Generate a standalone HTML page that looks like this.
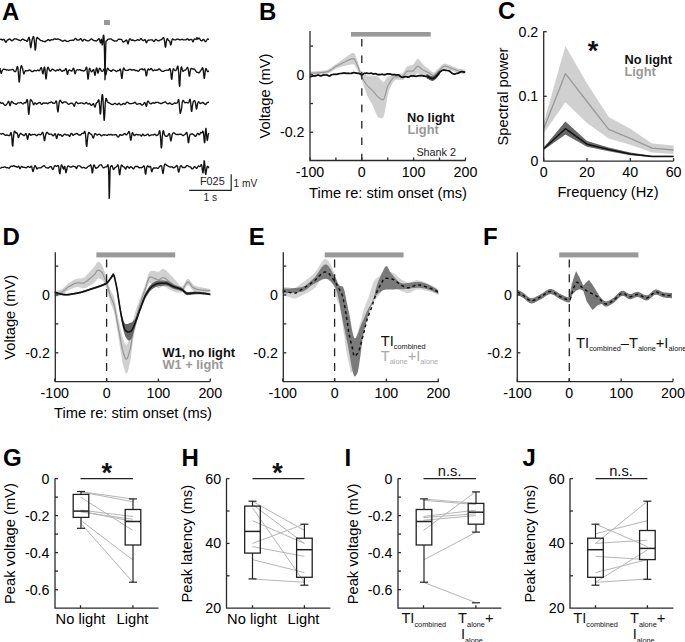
<!DOCTYPE html>
<html><head><meta charset="utf-8"><style>
html,body{margin:0;padding:0;background:#fff;width:685px;height:642px;overflow:hidden}
svg{display:block}
text{font-family:"Liberation Sans", sans-serif}
</style></head><body>
<svg width="685" height="642" viewBox="0 0 685 642">
<rect width="685" height="642" fill="#fff"/>
<text x="2" y="19.7" font-size="24" text-anchor="start" font-weight="bold" fill="#000" >A</text>
<rect x="104" y="20" width="6" height="5" fill="#999"/>
<path d="M0 39.6 L0.2 39.5 L0.5 39.3 L0.8 39.2 L1 39.1 L1.2 39.2 L1.5 39.3 L1.8 39.6 L2 39.8 L2.2 40 L2.5 40 L2.8 39.9 L3 39.7 L3.2 39.5 L3.5 39.4 L3.8 39.3 L4 39.5 L4.2 39.7 L4.5 40.1 L4.8 40.6 L5 41.1 L5.2 41.7 L5.5 42.1 L5.8 42.4 L6 42.3 L6.2 41.9 L6.5 41.4 L6.8 40.9 L7 40.5 L7.2 40.3 L7.5 40.1 L7.8 39.9 L8 39.8 L8.2 39.7 L8.5 39.6 L8.8 39.4 L9 39.2 L9.2 39.1 L9.5 39 L9.8 39.1 L10 39.2 L10.2 39.4 L10.5 39.6 L10.8 39.9 L11 40.1 L11.2 40.4 L11.5 40.6 L11.8 40.7 L12 40.8 L12.2 40.7 L12.5 40.5 L12.8 40.3 L13 40 L13.2 39.8 L13.5 39.6 L13.8 39.3 L14 39.2 L14.2 39 L14.5 39 L14.8 38.9 L15 38.9 L15.2 38.9 L15.5 38.9 L15.8 38.9 L16 38.9 L16.2 39 L16.5 39.1 L16.8 39.2 L17 39.3 L17.2 39.4 L17.5 39.6 L17.8 39.7 L18 39.8 L18.2 39.9 L18.5 39.9 L18.8 40 L19 40 L19.2 40.1 L19.5 40.3 L19.8 40.5 L20 40.6 L20.2 40.7 L20.5 40.7 L20.8 40.6 L21 40.4 L21.2 40.1 L21.5 39.8 L21.8 39.5 L22 39.4 L22.2 39.3 L22.5 39.2 L22.8 39.2 L23 39.3 L23.2 39.3 L23.5 39.4 L23.8 39.6 L24 39.8 L24.2 40 L24.5 40.2 L24.8 40.3 L25 40.3 L25.2 40.3 L25.5 40.3 L25.8 40.3 L26 40.4 L26.2 40.6 L26.5 40.9 L26.8 41.2 L27 41.3 L27.2 41.3 L27.5 41 L27.8 40.5 L28 39.8 L28.2 38.9 L28.5 38.1 L28.8 37.5 L29 37.3 L29.2 37.6 L29.5 38.6 L29.8 40.2 L30 42.4 L30.2 44.9 L30.5 46.9 L30.8 47.7 L31 47.1 L31.2 45.5 L31.5 43.6 L31.8 41.9 L32 40.6 L32.2 39.5 L32.5 38.6 L32.8 37.8 L33 37.1 L33.2 36.7 L33.5 36.6 L33.8 37 L34 38.1 L34.2 40 L34.5 42.7 L34.8 45.8 L35 48.7 L35.2 50.1 L35.5 49.5 L35.8 47.1 L36 44 L36.2 41.2 L36.5 39.2 L36.8 38.1 L37 37.5 L37.2 37.4 L37.5 37.5 L37.8 37.8 L38 38.1 L38.2 38.5 L38.5 38.7 L38.8 38.8 L39 39 L39.2 39.1 L39.5 39.4 L39.8 39.6 L40 39.9 L40.2 40.1 L40.5 40.3 L40.8 40.5 L41 40.5 L41.2 40.6 L41.5 40.6 L41.8 40.6 L42 40.7 L42.2 40.9 L42.5 41.1 L42.8 41.3 L43 41.4 L43.2 41.4 L43.5 41.4 L43.8 41.4 L44 41.4 L44.2 41.5 L44.5 41.6 L44.8 41.7 L45 41.7 L45.2 41.6 L45.5 41.4 L45.8 41.2 L46 40.9 L46.2 40.7 L46.5 40.6 L46.8 40.6 L47 40.5 L47.2 40.3 L47.5 40.1 L47.8 39.9 L48 39.7 L48.2 39.6 L48.5 39.6 L48.8 39.7 L49 40 L49.2 40.3 L49.5 40.6 L49.8 40.7 L50 40.7 L50.2 40.5 L50.5 40.3 L50.8 40 L51 39.8 L51.2 39.7 L51.5 39.7 L51.8 39.8 L52 39.8 L52.2 39.9 L52.5 39.9 L52.8 39.8 L53 39.7 L53.2 39.6 L53.5 39.5 L53.8 39.3 L54 39.2 L54.2 39 L54.5 38.9 L54.8 38.8 L55 38.8 L55.2 38.9 L55.5 39.1 L55.8 39.2 L56 39.3 L56.2 39.3 L56.5 39.3 L56.8 39.2 L57 39.1 L57.2 39 L57.5 38.9 L57.8 38.9 L58 39 L58.2 39.1 L58.5 39.2 L58.8 39.3 L59 39.4 L59.2 39.5 L59.5 39.6 L59.8 39.7 L60 39.8 L60.2 39.9 L60.5 40 L60.8 40.1 L61 40.2 L61.2 40.4 L61.5 40.5 L61.8 40.7 L62 40.9 L62.2 41 L62.5 41.1 L62.8 41.2 L63 41.1 L63.2 41.1 L63.5 41 L63.8 40.8 L64 40.7 L64.2 40.5 L64.5 40.4 L64.8 40.3 L65 40.2 L65.2 40.3 L65.5 40.5 L65.8 40.7 L66 41 L66.2 41.2 L66.5 41.4 L66.8 41.4 L67 41.4 L67.2 41.4 L67.5 41.3 L67.8 41.3 L68 41.3 L68.2 41.3 L68.5 41.2 L68.8 41.2 L69 41.1 L69.2 41 L69.5 40.8 L69.8 40.6 L70 40.5 L70.2 40.4 L70.5 40.4 L70.8 40.4 L71 40.4 L71.2 40.4 L71.5 40.4 L71.8 40.3 L72 40.2 L72.2 40.1 L72.5 40.1 L72.8 40.2 L73 40.3 L73.2 40.4 L73.5 40.4 L73.8 40.2 L74 39.9 L74.2 39.6 L74.5 39.2 L74.8 38.9 L75 38.6 L75.2 38.5 L75.5 38.5 L75.8 38.6 L76 38.8 L76.2 39 L76.5 39.3 L76.8 39.6 L77 39.9 L77.2 40.1 L77.5 40.1 L77.8 40.1 L78 40 L78.2 39.9 L78.5 39.9 L78.8 40 L79 40 L79.2 39.9 L79.5 39.7 L79.8 39.4 L80 39.1 L80.2 38.8 L80.5 38.6 L80.8 38.6 L81 38.7 L81.2 39.1 L81.5 39.6 L81.8 40.1 L82 40.6 L82.2 40.9 L82.5 41 L82.8 40.9 L83 40.7 L83.2 40.3 L83.5 40 L83.8 39.6 L84 39.4 L84.2 39.3 L84.5 39.3 L84.8 39.4 L85 39.6 L85.2 39.8 L85.5 40 L85.8 40.1 L86 40.3 L86.2 40.4 L86.5 40.5 L86.8 40.6 L87 40.7 L87.2 40.7 L87.5 40.8 L87.8 40.8 L88 40.9 L88.2 40.9 L88.5 40.9 L88.8 40.8 L89 40.6 L89.2 40.5 L89.5 40.3 L89.8 40.1 L90 39.9 L90.2 39.7 L90.5 39.5 L90.8 39.2 L91 39.1 L91.2 39 L91.5 39 L91.8 39.1 L92 39.2 L92.2 39.3 L92.5 39.5 L92.8 39.7 L93 39.9 L93.2 40.2 L93.5 40.4 L93.8 40.6 L94 40.6 L94.2 40.7 L94.5 40.6 L94.8 40.6 L95 40.6 L95.2 40.6 L95.5 40.8 L95.8 40.9 L96 41 L96.2 41 L96.5 40.9 L96.8 40.7 L97 40.5 L97.2 40.3 L97.5 40.1 L97.8 39.9 L98 39.6 L98.2 39.3 L98.5 39 L98.8 38.8 L99 38.7 L99.2 38.9 L99.5 39.5 L99.8 40.3 L100 41.3 L100.2 42.3 L100.5 42.9 L100.8 42.7 L101 41.4 L101.2 39.8 L101.5 39.3 L101.8 40.8 L102 43.2 L102.2 44.9 L102.5 44.7 L102.8 42.7 L103 39.3 L103.2 36.3 L103.5 35.2 L103.8 35.7 L104 37.3 L104.2 41.7 L104.5 53.1 L104.8 70.3 L105 79.7 L105.2 71.3 L105.5 55.2 L105.8 44.9 L106 41.5 L106.2 40.9 L106.5 40.8 L106.8 40.7 L107 40.5 L107.2 40.2 L107.5 39.8 L107.8 39.5 L108 39.3 L108.2 39.1 L108.5 39.1 L108.8 39.1 L109 39.1 L109.2 39.1 L109.5 39.1 L109.8 39 L110 38.9 L110.2 38.8 L110.5 38.8 L110.8 38.8 L111 39 L111.2 39.1 L111.5 39.3 L111.8 39.5 L112 39.7 L112.2 39.9 L112.5 40 L112.8 40.1 L113 40.2 L113.2 40.4 L113.5 40.6 L113.8 40.8 L114 40.9 L114.2 41 L114.5 41 L114.8 40.9 L115 40.9 L115.2 40.8 L115.5 40.8 L115.8 40.8 L116 40.8 L116.2 40.9 L116.5 41 L116.8 41 L117 40.8 L117.2 40.5 L117.5 40.2 L117.8 39.8 L118 39.5 L118.2 39.3 L118.5 39.2 L118.8 39.1 L119 39.2 L119.2 39.2 L119.5 39.3 L119.8 39.4 L120 39.4 L120.2 39.4 L120.5 39.3 L120.8 39.3 L121 39.3 L121.2 39.3 L121.5 39.5 L121.8 39.8 L122 40.1 L122.2 40.6 L122.5 41.1 L122.8 41.5 L123 41.8 L123.2 42 L123.5 42 L123.8 41.9 L124 41.7 L124.2 41.5 L124.5 41.4 L124.8 41.2 L125 41.1 L125.2 41 L125.5 40.8 L125.8 40.6 L126 40.3 L126.2 40.1 L126.5 40 L126.8 40.2 L127 40.8 L127.2 41.6 L127.5 42.7 L127.8 43.6 L128 44 L128.2 43.6 L128.5 42.7 L128.8 41.5 L129 40.4 L129.2 39.6 L129.5 39.1 L129.8 38.8 L130 38.8 L130.2 39 L130.5 39.2 L130.8 39.6 L131 39.9 L131.2 40.2 L131.5 40.3 L131.8 40.4 L132 40.3 L132.2 40.1 L132.5 40 L132.8 39.9 L133 39.9 L133.2 40 L133.5 40.2 L133.8 40.4 L134 40.6 L134.2 40.7 L134.5 40.8 L134.8 40.8 L135 40.7 L135.2 40.7 L135.5 40.6 L135.8 40.6 L136 40.5 L136.2 40.5 L136.5 40.3 L136.8 40.2 L137 40 L137.2 39.8 L137.5 39.7 L137.8 39.6 L138 39.6 L138.2 39.8 L138.5 40 L138.8 40.2 L139 40.3 L139.2 40.3 L139.5 40.2 L139.8 39.9 L140 39.6 L140.2 39.2 L140.5 38.8 L140.8 38.7 L141 38.7 L141.2 38.8 L141.5 39.1 L141.8 39.5 L142 39.8 L142.2 40 L142.5 40.2 L142.8 40.4 L143 40.5 L143.2 40.5 L143.5 40.5 L143.8 40.5 L144 40.3 L144.2 40.1 L144.5 39.8 L144.8 39.6 L145 39.7 L145.2 39.9 L145.5 40.5 L145.8 41.3 L146 42.1 L146.2 42.6 L146.5 42.7 L146.8 42.4 L147 41.8 L147.2 41.2 L147.5 40.8 L147.8 40.5 L148 40.3 L148.2 40.2 L148.5 40.2 L148.8 40.1 L149 40.1 L149.2 40.2 L149.5 40.1 L149.8 40.1 L150 40 L150.2 39.9 L150.5 39.8 L150.8 39.8 L151 39.9 L151.2 39.9 L151.5 39.9 L151.8 39.9 L152 39.9 L152.2 40 L152.5 40.1 L152.8 40.3 L153 40.6 L153.2 41 L153.5 41.3 L153.8 41.5 L154 41.5 L154.2 41.4 L154.5 41.1 L154.8 40.7 L155 40.2 L155.2 39.8 L155.5 39.5 L155.8 39.4 L156 39.4 L156.2 39.5 L156.5 39.7 L156.8 39.9 L157 40.1 L157.2 40.3 L157.5 40.5 L157.8 40.7 L158 40.8 L158.2 40.9 L158.5 40.9 L158.8 40.9 L159 40.8 L159.2 40.6 L159.5 40.4 L159.8 40.2 L160 40.1 L160.2 39.9 L160.5 39.8 L160.8 39.8 L161 39.7 L161.2 39.7 L161.5 39.5 L161.8 39.4 L162 39.1 L162.2 38.9 L162.5 38.6 L162.8 38.3 L163 38 L163.2 37.7 L163.5 37.6 L163.8 37.8 L164 38.4 L164.2 39.4 L164.5 41 L164.8 42.9 L165 45 L165.2 46.7 L165.5 47.2 L165.8 46.3 L166 44.4 L166.2 42.4 L166.5 40.7 L166.8 39.6 L167 39 L167.2 38.7 L167.5 38.8 L167.8 39.1 L168 39.6 L168.2 40.1 L168.5 40.5 L168.8 40.7 L169 40.8 L169.2 40.8 L169.5 41 L169.8 41.4 L170 42.2 L170.2 43.2 L170.5 44.3 L170.8 45 L171 44.8 L171.2 43.8 L171.5 42.3 L171.8 40.9 L172 39.8 L172.2 39.2 L172.5 38.9 L172.8 38.9 L173 39.1 L173.2 39.3 L173.5 39.5 L173.8 39.7 L174 39.8 L174.2 39.8 L174.5 39.8 L174.8 39.8 L175 39.8 L175.2 39.8 L175.5 39.9 L175.8 39.8 L176 39.7 L176.2 39.6 L176.5 39.4 L176.8 39.2 L177 39.1 L177.2 39 L177.5 39.1 L177.8 39.1 L178 39.2 L178.2 39.2 L178.5 39.3 L178.8 39.4 L179 39.5 L179.2 39.7 L179.5 39.8 L179.8 39.9 L180 39.9 L180.2 39.9 L180.5 39.8 L180.8 39.7 L181 39.6 L181.2 39.5 L181.5 39.4 L181.8 39.3 L182 39.3 L182.2 39.4 L182.5 39.5 L182.8 39.6 L183 39.8 L183.2 39.8 L183.5 39.8 L183.8 39.8 L184 39.8 L184.2 39.9 L184.5 39.9 L184.8 39.9 L185 39.9 L185.2 39.9 L185.5 39.9 L185.8 39.8 L186 39.7 L186.2 39.6 L186.5 39.4 L186.8 39.2 L187 39 L187.2 38.8 L187.5 38.8 L187.8 38.9 L188 39.2 L188.2 39.5 L188.5 39.9 L188.8 40.1 L189 40.2 L189.2 40.1 L189.5 40 L189.8 39.8 L190 39.7 L190.2 39.6 L190.5 39.6 L190.8 39.6 L191 39.5 L191.2 39.4 L191.5 39.4 L191.8 39.5 L192 39.8 L192.2 40.3 L192.5 41 L192.8 41.7 L193 41.9 L193.2 41.6 L193.5 40.9 L193.8 40.1 L194 39.5 L194.2 39.1 L194.5 39 L194.8 38.9 L195 39 L195.2 39.1 L195.5 39.2 L195.8 39.4 L196 39.5 L196.2 39.3 L196.5 38.8 L196.8 37.9 L197 37.5 L197.2 37.9 L197.5 38.7 L197.8 39.2 L198 39.1 L198.2 38.8 L198.5 38.4 L198.8 38.1 L199 38 L199.2 38.1 L199.5 38.4 L199.8 38.9 L200 39.3 L200.2 39.8 L200.5 40.1 L200.8 40.4 L201 40.6 L201.2 40.8 L201.5 40.9 L201.8 40.9 L202 40.8 L202.2 40.6 L202.5 40.3 L202.8 40 L203 39.7 L203.2 39.4 L203.5 39.4 L203.8 39.4 L204 39.7 L204.2 40 L204.5 40.5 L204.8 40.9 L205 41.3 L205.2 41.6 L205.5 41.7 L205.8 41.6 L206 41.4 L206.2 41 L206.5 40.5 L206.8 40 L207 39.6 L207.2 39.3 L207.5 39.1 L207.8 39 L208 39 L208.2 39.1 L208.5 39.2 L208.8 39.3 L209 39.3" fill="none" stroke="#111" stroke-width="1.35" stroke-linejoin="round"/>
<path d="M0 68.1 L0.2 69.4 L0.5 70.9 L0.8 72.3 L1 73.1 L1.2 73.3 L1.5 72.8 L1.8 72 L2 71.3 L2.2 70.7 L2.5 70.2 L2.8 69.8 L3 69.5 L3.2 69.3 L3.5 69.2 L3.8 69.1 L4 69.2 L4.2 69.2 L4.5 69.3 L4.8 69.3 L5 69.4 L5.2 69.5 L5.5 69.6 L5.8 69.8 L6 69.9 L6.2 70 L6.5 70 L6.8 69.9 L7 69.9 L7.2 69.8 L7.5 69.9 L7.8 69.9 L8 70 L8.2 70.1 L8.5 70.2 L8.8 70.2 L9 70.1 L9.2 70.1 L9.5 70 L9.8 69.9 L10 69.9 L10.2 69.8 L10.5 69.8 L10.8 69.8 L11 69.8 L11.2 69.8 L11.5 69.8 L11.8 69.7 L12 69.6 L12.2 69.5 L12.5 69.5 L12.8 69.5 L13 69.6 L13.2 69.8 L13.5 70.1 L13.8 70.4 L14 70.8 L14.2 71.1 L14.5 71.4 L14.8 71.6 L15 71.7 L15.2 71.6 L15.5 71.5 L15.8 71.2 L16 70.7 L16.2 70 L16.5 69.2 L16.8 68.2 L17 67.2 L17.2 66.6 L17.5 66.5 L17.8 67.2 L18 68.7 L18.2 71.3 L18.5 74.7 L18.8 78.3 L19 81.1 L19.2 82 L19.5 80.7 L19.8 77.7 L20 74.3 L20.2 71.4 L20.5 69.1 L20.8 67.5 L21 66.4 L21.2 65.8 L21.5 65.7 L21.8 66 L22 66.6 L22.2 67.3 L22.5 68.2 L22.8 69.3 L23 70.5 L23.2 71.8 L23.5 73.1 L23.8 73.8 L24 73.9 L24.2 73.3 L24.5 72.5 L24.8 71.7 L25 71.2 L25.2 70.9 L25.5 70.8 L25.8 70.7 L26 70.7 L26.2 70.7 L26.5 70.8 L26.8 70.8 L27 70.9 L27.2 70.9 L27.5 70.8 L27.8 70.8 L28 70.7 L28.2 70.6 L28.5 70.5 L28.8 70.4 L29 70.2 L29.2 70.1 L29.5 70 L29.8 70 L30 70 L30.2 70.2 L30.5 70.5 L30.8 70.7 L31 71 L31.2 71.2 L31.5 71.4 L31.8 71.5 L32 71.5 L32.2 71.5 L32.5 71.5 L32.8 71.4 L33 71.4 L33.2 71.3 L33.5 71.1 L33.8 70.9 L34 70.8 L34.2 70.6 L34.5 70.5 L34.8 70.5 L35 70.5 L35.2 70.6 L35.5 70.6 L35.8 70.6 L36 70.7 L36.2 70.7 L36.5 70.7 L36.8 70.6 L37 70.5 L37.2 70.4 L37.5 70.2 L37.8 70.1 L38 70.1 L38.2 70.2 L38.5 70.4 L38.8 70.6 L39 70.7 L39.2 70.7 L39.5 70.6 L39.8 70.3 L40 69.9 L40.2 69.3 L40.5 68.6 L40.8 68 L41 67.6 L41.2 67.6 L41.5 67.9 L41.8 68.7 L42 69.9 L42.2 71.4 L42.5 72.9 L42.8 73.9 L43 73.9 L43.2 72.9 L43.5 71.3 L43.8 69.5 L44 68.1 L44.2 67.3 L44.5 67.1 L44.8 67.9 L45 69.6 L45.2 72.1 L45.5 75.2 L45.8 77.8 L46 79 L46.2 78.3 L46.5 76.1 L46.8 73.4 L47 71.1 L47.2 69.3 L47.5 68.1 L47.8 67.4 L48 67.2 L48.2 67.3 L48.5 67.8 L48.8 68.5 L49 69.2 L49.2 69.9 L49.5 70.4 L49.8 70.8 L50 71 L50.2 71.1 L50.5 71.1 L50.8 70.9 L51 70.7 L51.2 70.4 L51.5 70.1 L51.8 69.7 L52 69.5 L52.2 69.2 L52.5 69.2 L52.8 69.2 L53 69.4 L53.2 69.6 L53.5 69.8 L53.8 69.9 L54 70 L54.2 70.2 L54.5 70.3 L54.8 70.6 L55 70.8 L55.2 70.9 L55.5 71 L55.8 70.9 L56 70.8 L56.2 70.5 L56.5 70.3 L56.8 70 L57 69.9 L57.2 69.9 L57.5 70 L57.8 70.2 L58 70.4 L58.2 70.5 L58.5 70.5 L58.8 70.3 L59 70 L59.2 69.6 L59.5 69.4 L59.8 69.2 L60 69.3 L60.2 69.4 L60.5 69.7 L60.8 70.1 L61 70.5 L61.2 70.8 L61.5 71.1 L61.8 71.3 L62 71.3 L62.2 71.2 L62.5 71.1 L62.8 70.9 L63 70.7 L63.2 70.6 L63.5 70.5 L63.8 70.5 L64 70.6 L64.2 70.6 L64.5 70.5 L64.8 70.2 L65 69.8 L65.2 69.3 L65.5 68.8 L65.8 68.5 L66 68.6 L66.2 69 L66.5 70 L66.8 71.4 L67 72.9 L67.2 74 L67.5 74.3 L67.8 73.8 L68 72.7 L68.2 71.6 L68.5 70.8 L68.8 70.3 L69 70.1 L69.2 70 L69.5 70 L69.8 70.1 L70 70.2 L70.2 70.3 L70.5 70.5 L70.8 70.7 L71 70.9 L71.2 71.1 L71.5 71.1 L71.8 71 L72 70.8 L72.2 70.3 L72.5 69.8 L72.8 69.1 L73 68.6 L73.2 68.2 L73.5 68.2 L73.8 68.5 L74 69.3 L74.2 70.5 L74.5 71.9 L74.8 73.2 L75 73.8 L75.2 73.6 L75.5 72.7 L75.8 71.7 L76 70.9 L76.2 70.4 L76.5 70.2 L76.8 70 L77 69.9 L77.2 69.9 L77.5 69.8 L77.8 69.9 L78 69.9 L78.2 70 L78.5 70 L78.8 70 L79 69.9 L79.2 69.8 L79.5 69.7 L79.8 69.6 L80 69.6 L80.2 69.8 L80.5 69.9 L80.8 70.2 L81 70.4 L81.2 70.5 L81.5 70.5 L81.8 70.5 L82 70.5 L82.2 70.5 L82.5 70.6 L82.8 70.7 L83 70.8 L83.2 70.9 L83.5 71 L83.8 70.9 L84 70.8 L84.2 70.7 L84.5 70.6 L84.8 70.5 L85 70.3 L85.2 69.9 L85.5 69.3 L85.8 68.5 L86 67.7 L86.2 67.1 L86.5 67.1 L86.8 67.8 L87 69.4 L87.2 71.8 L87.5 74.8 L87.8 77.6 L88 79.2 L88.2 78.8 L88.5 76.7 L88.8 73.8 L89 71.1 L89.2 69.4 L89.5 68.5 L89.8 68.3 L90 68.6 L90.2 69.2 L90.5 69.9 L90.8 70.7 L91 71.2 L91.2 71.6 L91.5 71.7 L91.8 71.7 L92 71.5 L92.2 71.2 L92.5 70.9 L92.8 70.4 L93 69.9 L93.2 69.6 L93.5 69.6 L93.8 70 L94 70.8 L94.2 72.1 L94.5 73.6 L94.8 74.9 L95 75.4 L95.2 74.7 L95.5 73.1 L95.8 71.2 L96 69.6 L96.2 68.5 L96.5 68 L96.8 68.1 L97 68.8 L97.2 70 L97.5 71.4 L97.8 72.6 L98 73.2 L98.2 72.9 L98.5 71.9 L98.8 70.7 L99 69.6 L99.2 68.9 L99.5 68.4 L99.8 68.3 L100 68.4 L100.2 68.7 L100.5 69.2 L100.8 69.7 L101 70.2 L101.2 70.7 L101.5 71 L101.8 71.2 L102 71.4 L102.2 71.4 L102.5 71.3 L102.8 71.1 L103 70.7 L103.2 70.2 L103.5 69.7 L103.8 69.3 L104 69.1 L104.2 69.2 L104.5 69.6 L104.8 70.4 L105 71.5 L105.2 72.9 L105.5 74.1 L105.8 74.8 L106 74.4 L106.2 73.3 L106.5 71.8 L106.8 70.3 L107 69.3 L107.2 68.6 L107.5 68.2 L107.8 68.2 L108 68.4 L108.2 68.9 L108.5 69.4 L108.8 69.8 L109 70 L109.2 70.2 L109.5 70.2 L109.8 70.3 L110 70.4 L110.2 70.6 L110.5 70.9 L110.8 71.1 L111 71.3 L111.2 71.4 L111.5 71.3 L111.8 71 L112 70.7 L112.2 70.3 L112.5 70 L112.8 69.8 L113 69.8 L113.2 69.8 L113.5 69.9 L113.8 70 L114 70.1 L114.2 70.2 L114.5 70.3 L114.8 70.3 L115 70.4 L115.2 70.6 L115.5 70.8 L115.8 71 L116 71.3 L116.2 71.4 L116.5 71.5 L116.8 71.4 L117 71.2 L117.2 71 L117.5 70.8 L117.8 70.6 L118 70.5 L118.2 70.6 L118.5 70.6 L118.8 70.6 L119 70.6 L119.2 70.3 L119.5 69.9 L119.8 69.5 L120 69.1 L120.2 69.2 L120.5 69.7 L120.8 70.8 L121 72.6 L121.2 74.8 L121.5 77 L121.8 78.4 L122 78.3 L122.2 76.8 L122.5 74.4 L122.8 72 L123 70.2 L123.2 69 L123.5 68.3 L123.8 68 L124 68.2 L124.2 68.5 L124.5 69.1 L124.8 69.6 L125 70 L125.2 70.3 L125.5 70.4 L125.8 70.4 L126 70.4 L126.2 70.4 L126.5 70.3 L126.8 70.3 L127 70.4 L127.2 70.4 L127.5 70.4 L127.8 70.4 L128 70.3 L128.2 70.1 L128.5 70 L128.8 69.8 L129 69.7 L129.2 69.5 L129.5 69.4 L129.8 69.3 L130 69.3 L130.2 69.3 L130.5 69.4 L130.8 69.6 L131 69.7 L131.2 69.9 L131.5 70 L131.8 70.1 L132 70.1 L132.2 70 L132.5 70 L132.8 69.9 L133 69.8 L133.2 69.8 L133.5 69.7 L133.8 69.7 L134 69.7 L134.2 69.8 L134.5 69.9 L134.8 70 L135 70.2 L135.2 70.4 L135.5 70.6 L135.8 70.7 L136 70.6 L136.2 70.6 L136.5 70.5 L136.8 70.5 L137 70.5 L137.2 70.7 L137.5 70.9 L137.8 71.1 L138 71.2 L138.2 71.3 L138.5 71.2 L138.8 71 L139 70.8 L139.2 70.5 L139.5 70.1 L139.8 69.8 L140 69.6 L140.2 69.4 L140.5 69.3 L140.8 69.2 L141 69.2 L141.2 69.1 L141.5 69 L141.8 68.9 L142 68.8 L142.2 68.9 L142.5 69 L142.8 69.3 L143 69.5 L143.2 69.8 L143.5 69.9 L143.8 69.8 L144 69.5 L144.2 69.2 L144.5 69 L144.8 69 L145 69.4 L145.2 70.2 L145.5 71.4 L145.8 73.1 L146 74.7 L146.2 75.8 L146.5 75.9 L146.8 74.9 L147 73.3 L147.2 71.7 L147.5 70.5 L147.8 69.7 L148 69.2 L148.2 69 L148.5 69 L148.8 69.2 L149 69.5 L149.2 69.8 L149.5 69.9 L149.8 69.8 L150 69.6 L150.2 69.3 L150.5 68.9 L150.8 68.6 L151 68.5 L151.2 68.5 L151.5 68.6 L151.8 69 L152 69.4 L152.2 69.9 L152.5 70.3 L152.8 70.6 L153 70.8 L153.2 70.8 L153.5 70.7 L153.8 70.5 L154 70.3 L154.2 70.1 L154.5 70 L154.8 70 L155 70 L155.2 70.1 L155.5 70.3 L155.8 70.3 L156 70.3 L156.2 70.2 L156.5 70.1 L156.8 70 L157 70 L157.2 70 L157.5 70 L157.8 69.9 L158 69.8 L158.2 69.5 L158.5 69.2 L158.8 69 L159 68.9 L159.2 68.9 L159.5 69.1 L159.8 69.3 L160 69.6 L160.2 69.9 L160.5 70.1 L160.8 70.4 L161 70.6 L161.2 70.8 L161.5 71 L161.8 71.2 L162 71.2 L162.2 71.3 L162.5 71.3 L162.8 71.3 L163 71.3 L163.2 71.3 L163.5 71.3 L163.8 71.2 L164 71 L164.2 70.9 L164.5 70.7 L164.8 70.6 L165 70.5 L165.2 70.4 L165.5 70.4 L165.8 70.3 L166 70.3 L166.2 70.3 L166.5 70.2 L166.8 70.1 L167 70.1 L167.2 70.1 L167.5 70.1 L167.8 70.1 L168 70.2 L168.2 70.3 L168.5 70.3 L168.8 70.2 L169 69.9 L169.2 69.4 L169.5 68.9 L169.8 68.6 L170 68.6 L170.2 69.1 L170.5 70.2 L170.8 72 L171 74.4 L171.2 77 L171.5 78.9 L171.8 79.4 L172 78.1 L172.2 75.7 L172.5 73.1 L172.8 71 L173 69.7 L173.2 69 L173.5 68.8 L173.8 68.9 L174 69.2 L174.2 69.6 L174.5 70 L174.8 70.3 L175 70.5 L175.2 70.5 L175.5 70.6 L175.8 70.5 L176 70.3 L176.2 70 L176.5 69.5 L176.8 68.9 L177 68.1 L177.2 67.2 L177.5 66.4 L177.8 66.1 L178 66.6 L178.2 68.1 L178.5 70.7 L178.8 74.5 L179 79.2 L179.2 83.6 L179.5 86.3 L179.8 85.9 L180 82.6 L180.2 78 L180.5 73.6 L180.8 70.3 L181 68.2 L181.2 67.2 L181.5 66.9 L181.8 67.3 L182 68.2 L182.2 69.2 L182.5 70.2 L182.8 70.9 L183 71.3 L183.2 71.4 L183.5 71.2 L183.8 70.8 L184 70.5 L184.2 70.2 L184.5 70.1 L184.8 70.1 L185 70.1 L185.2 70.1 L185.5 70 L185.8 69.8 L186 69.5 L186.2 69.1 L186.5 68.7 L186.8 68.3 L187 67.9 L187.2 67.5 L187.5 67.4 L187.8 67.6 L188 68.2 L188.2 69.4 L188.5 71.1 L188.8 73.2 L189 75.1 L189.2 76.2 L189.5 76.1 L189.8 74.8 L190 73 L190.2 71.3 L190.5 70 L190.8 69.1 L191 68.6 L191.2 68.3 L191.5 68.3 L191.8 68.4 L192 68.5 L192.2 68.7 L192.5 68.9 L192.8 69 L193 69 L193.2 69 L193.5 69 L193.8 68.9 L194 69 L194.2 69.1 L194.5 69.3 L194.8 69.6 L195 69.9 L195.2 70.2 L195.5 70.6 L195.8 70.9 L196 71.3 L196.2 71.6 L196.5 71.9 L196.8 72.1 L197 72.2 L197.2 72.3 L197.5 72.3 L197.8 72.4 L198 72.5 L198.2 72.6 L198.5 72.8 L198.8 72.8 L199 72.8 L199.2 72.7 L199.5 72.4 L199.8 72.1 L200 71.6 L200.2 71.2 L200.5 70.8 L200.8 70.4 L201 70.1 L201.2 69.9 L201.5 69.6 L201.8 69.2 L202 68.6 L202.2 68.1 L202.5 67.8 L202.8 67.9 L203 68.7 L203.2 70.2 L203.5 72.4 L203.8 75.1 L204 77.3 L204.2 78.4 L204.5 77.7 L204.8 75.7 L205 73.1 L205.2 70.9 L205.5 69.5 L205.8 68.7 L206 68.5 L206.2 68.7 L206.5 69.3 L206.8 70 L207 70.7 L207.2 71.2 L207.5 71.5 L207.8 71.7 L208 71.6 L208.2 71.4 L208.5 71.2 L208.8 70.9 L209 70.8" fill="none" stroke="#111" stroke-width="1.35" stroke-linejoin="round"/>
<path d="M0 102 L0.2 102.2 L0.5 102.5 L0.8 102.9 L1 103.2 L1.2 103.3 L1.5 103.3 L1.8 103.2 L2 103.1 L2.2 102.9 L2.5 102.9 L2.8 103 L3 103.2 L3.2 103.4 L3.5 103.7 L3.8 104 L4 104.3 L4.2 104.7 L4.5 105 L4.8 105.2 L5 105.4 L5.2 105.4 L5.5 105.3 L5.8 105.2 L6 104.9 L6.2 104.7 L6.5 104.4 L6.8 104.1 L7 103.8 L7.2 103.5 L7.5 103 L7.8 102.5 L8 102 L8.2 101.5 L8.5 101.3 L8.8 101.5 L9 102 L9.2 102.9 L9.5 104.1 L9.8 105.2 L10 105.7 L10.2 105.5 L10.5 104.6 L10.8 103.6 L11 102.7 L11.2 102 L11.5 101.6 L11.8 101.5 L12 101.5 L12.2 101.7 L12.5 102 L12.8 102.3 L13 102.7 L13.2 103 L13.5 103.3 L13.8 103.4 L14 103.5 L14.2 103.6 L14.5 103.6 L14.8 103.6 L15 103.7 L15.2 103.8 L15.5 104 L15.8 104.2 L16 104.3 L16.2 104.3 L16.5 104.2 L16.8 104 L17 103.7 L17.2 103.4 L17.5 103.2 L17.8 103 L18 102.9 L18.2 102.8 L18.5 102.8 L18.8 102.9 L19 102.9 L19.2 102.9 L19.5 102.9 L19.8 102.8 L20 102.7 L20.2 102.6 L20.5 102.6 L20.8 102.5 L21 102.5 L21.2 102.6 L21.5 102.8 L21.8 103.1 L22 103.4 L22.2 103.6 L22.5 103.8 L22.8 103.9 L23 103.9 L23.2 103.9 L23.5 103.7 L23.8 103.5 L24 103.2 L24.2 102.9 L24.5 102.7 L24.8 102.7 L25 102.7 L25.2 102.8 L25.5 102.9 L25.8 102.8 L26 102.5 L26.2 101.8 L26.5 100.9 L26.8 100 L27 99.4 L27.2 99.6 L27.5 100.7 L27.8 102.8 L28 105.9 L28.2 109.6 L28.5 112.8 L28.8 114.4 L29 113.6 L29.2 110.9 L29.5 107.5 L29.8 104.3 L30 102 L30.2 100.6 L30.5 99.8 L30.8 99.6 L31 99.8 L31.2 100.1 L31.5 100.5 L31.8 100.9 L32 101.2 L32.2 101.6 L32.5 102.1 L32.8 102.6 L33 103.4 L33.2 104.1 L33.5 104.6 L33.8 104.8 L34 104.4 L34.2 103.8 L34.5 103.3 L34.8 103 L35 102.9 L35.2 103.1 L35.5 103.3 L35.8 103.6 L36 103.9 L36.2 104.1 L36.5 104.2 L36.8 104.1 L37 104 L37.2 103.7 L37.5 103.5 L37.8 103.3 L38 103.2 L38.2 103.1 L38.5 103 L38.8 102.9 L39 102.8 L39.2 102.7 L39.5 102.5 L39.8 102.5 L40 102.5 L40.2 102.7 L40.5 103.1 L40.8 103.4 L41 103.8 L41.2 104.1 L41.5 104.3 L41.8 104.4 L42 104.3 L42.2 104.1 L42.5 103.8 L42.8 103.5 L43 103.2 L43.2 103 L43.5 102.9 L43.8 102.9 L44 103 L44.2 103.1 L44.5 103.2 L44.8 103.2 L45 103.3 L45.2 103.2 L45.5 103.1 L45.8 103.1 L46 103 L46.2 103 L46.5 103 L46.8 103.1 L47 103.3 L47.2 103.5 L47.5 103.6 L47.8 103.7 L48 103.6 L48.2 103.4 L48.5 103.2 L48.8 102.9 L49 102.7 L49.2 102.6 L49.5 102.6 L49.8 102.6 L50 102.6 L50.2 102.5 L50.5 102.4 L50.8 102.2 L51 102.1 L51.2 102 L51.5 102 L51.8 102.1 L52 102.3 L52.2 102.5 L52.5 102.9 L52.8 103.1 L53 103.3 L53.2 103.3 L53.5 103.3 L53.8 103.3 L54 103.2 L54.2 103.2 L54.5 103.2 L54.8 103.1 L55 102.9 L55.2 102.6 L55.5 102 L55.8 101.4 L56 101 L56.2 101 L56.5 101.6 L56.8 102.8 L57 104.8 L57.2 107.4 L57.5 109.9 L57.8 111.7 L58 112 L58.2 110.6 L58.5 108.2 L58.8 105.8 L59 103.8 L59.2 102.4 L59.5 101.4 L59.8 100.7 L60 100.4 L60.2 100.3 L60.5 100.5 L60.8 100.9 L61 101.4 L61.2 101.8 L61.5 102.2 L61.8 102.6 L62 102.9 L62.2 103 L62.5 103.1 L62.8 103 L63 102.8 L63.2 102.5 L63.5 102.2 L63.8 102 L64 101.8 L64.2 101.8 L64.5 101.9 L64.8 102 L65 102 L65.2 102.1 L65.5 102 L65.8 102 L66 102.1 L66.2 102.2 L66.5 102.3 L66.8 102.6 L67 102.9 L67.2 103.2 L67.5 103.5 L67.8 103.7 L68 103.9 L68.2 104.1 L68.5 104.2 L68.8 104.3 L69 104.3 L69.2 104.2 L69.5 104 L69.8 103.8 L70 103.6 L70.2 103.4 L70.5 103.2 L70.8 103.2 L71 103.1 L71.2 103.1 L71.5 103.2 L71.8 103.2 L72 103.2 L72.2 103.3 L72.5 103.5 L72.8 103.7 L73 104 L73.2 104.4 L73.5 104.9 L73.8 105.5 L74 106 L74.2 106.2 L74.5 105.9 L74.8 105.1 L75 104.2 L75.2 103.4 L75.5 102.7 L75.8 102.4 L76 102.1 L76.2 102 L76.5 102.1 L76.8 102.4 L77 102.7 L77.2 103 L77.5 103.3 L77.8 103.5 L78 103.6 L78.2 103.6 L78.5 103.5 L78.8 103.5 L79 103.5 L79.2 103.4 L79.5 103.4 L79.8 103.3 L80 103.3 L80.2 103.2 L80.5 103.1 L80.8 102.9 L81 102.8 L81.2 102.8 L81.5 102.8 L81.8 102.8 L82 102.9 L82.2 103 L82.5 103.1 L82.8 103.2 L83 103.4 L83.2 103.5 L83.5 103.7 L83.8 103.8 L84 103.9 L84.2 103.9 L84.5 103.8 L84.8 103.7 L85 103.5 L85.2 103.2 L85.5 102.9 L85.8 102.7 L86 102.5 L86.2 102.5 L86.5 102.6 L86.8 102.8 L87 103.1 L87.2 103.4 L87.5 103.7 L87.8 103.9 L88 104 L88.2 104 L88.5 103.9 L88.8 103.8 L89 103.6 L89.2 103.5 L89.5 103.5 L89.8 103.6 L90 103.8 L90.2 104.2 L90.5 104.5 L90.8 104.9 L91 105.2 L91.2 105.3 L91.5 105.4 L91.8 105.3 L92 105.1 L92.2 104.8 L92.5 104.5 L92.8 104.1 L93 103.8 L93.2 103.6 L93.5 103.7 L93.8 104 L94 104.6 L94.2 105.5 L94.5 106.3 L94.8 107 L95 107.1 L95.2 106.7 L95.5 105.7 L95.8 104.7 L96 103.8 L96.2 103.2 L96.5 102.9 L96.8 102.6 L97 102.5 L97.2 102.4 L97.5 102.1 L97.8 101.7 L98 101 L98.2 100.3 L98.5 99.8 L98.8 99.8 L99 100.5 L99.2 102.2 L99.5 104.8 L99.8 108.2 L100 111.6 L100.2 113.9 L100.5 114 L100.8 111.9 L101 108.3 L101.2 104.3 L101.5 100.8 L101.8 97.9 L102 95.8 L102.2 94.6 L102.5 94.7 L102.8 96.3 L103 99.4 L103.2 103.9 L103.5 109.5 L103.8 115.1 L104 119.2 L104.2 120.3 L104.5 118 L104.8 113.4 L105 108.3 L105.2 104.1 L105.5 101.1 L105.8 99.3 L106 98.4 L106.2 98.4 L106.5 98.9 L106.8 99.8 L107 100.8 L107.2 101.5 L107.5 102 L107.8 102.3 L108 102.4 L108.2 102.5 L108.5 102.6 L108.8 102.7 L109 102.9 L109.2 103 L109.5 103.1 L109.8 103.2 L110 103.4 L110.2 103.5 L110.5 103.7 L110.8 103.9 L111 104.1 L111.2 104.2 L111.5 104.3 L111.8 104.4 L112 104.4 L112.2 104.5 L112.5 104.5 L112.8 104.6 L113 104.5 L113.2 104.4 L113.5 104.2 L113.8 104 L114 103.8 L114.2 103.6 L114.5 103.4 L114.8 103.3 L115 103.3 L115.2 103.4 L115.5 103.5 L115.8 103.7 L116 103.9 L116.2 104.1 L116.5 104.3 L116.8 104.4 L117 104.5 L117.2 104.6 L117.5 104.5 L117.8 104.4 L118 104.2 L118.2 103.9 L118.5 103.7 L118.8 103.4 L119 103.2 L119.2 103.2 L119.5 103.4 L119.8 103.8 L120 104.1 L120.2 104.5 L120.5 104.7 L120.8 104.9 L121 104.9 L121.2 104.8 L121.5 104.7 L121.8 104.6 L122 104.5 L122.2 104.3 L122.5 104.1 L122.8 103.9 L123 103.6 L123.2 103.5 L123.5 103.4 L123.8 103.5 L124 103.7 L124.2 103.9 L124.5 104.1 L124.8 104.3 L125 104.3 L125.2 104.1 L125.5 103.8 L125.8 103.5 L126 103.1 L126.2 102.7 L126.5 102.4 L126.8 102.2 L127 102.1 L127.2 102.1 L127.5 102.2 L127.8 102.3 L128 102.5 L128.2 102.7 L128.5 102.9 L128.8 103.1 L129 103.3 L129.2 103.5 L129.5 103.6 L129.8 103.7 L130 103.7 L130.2 103.6 L130.5 103.6 L130.8 103.6 L131 103.6 L131.2 103.6 L131.5 103.6 L131.8 103.6 L132 103.5 L132.2 103.4 L132.5 103.3 L132.8 103.3 L133 103.3 L133.2 103.3 L133.5 103.2 L133.8 103.1 L134 102.9 L134.2 102.7 L134.5 102.4 L134.8 102.2 L135 102.2 L135.2 102.4 L135.5 102.6 L135.8 103 L136 103.4 L136.2 103.8 L136.5 104.1 L136.8 104.3 L137 104.3 L137.2 104.3 L137.5 104.2 L137.8 104.1 L138 103.9 L138.2 103.8 L138.5 103.8 L138.8 103.8 L139 103.8 L139.2 103.7 L139.5 103.7 L139.8 103.6 L140 103.5 L140.2 103.6 L140.5 103.7 L140.8 104 L141 104.3 L141.2 104.7 L141.5 104.9 L141.8 105 L142 105.1 L142.2 105 L142.5 104.9 L142.8 104.7 L143 104.5 L143.2 104.3 L143.5 104 L143.8 103.7 L144 103.3 L144.2 102.9 L144.5 102.6 L144.8 102.4 L145 102.6 L145.2 103.1 L145.5 103.8 L145.8 104.8 L146 105.8 L146.2 106.4 L146.5 106.2 L146.8 105.2 L147 103.8 L147.2 102.5 L147.5 101.7 L147.8 101.2 L148 101.1 L148.2 101.2 L148.5 101.5 L148.8 101.8 L149 102.2 L149.2 102.6 L149.5 103 L149.8 103.3 L150 103.5 L150.2 103.7 L150.5 103.8 L150.8 103.8 L151 103.8 L151.2 103.7 L151.5 103.6 L151.8 103.4 L152 103.1 L152.2 102.9 L152.5 102.8 L152.8 102.7 L153 102.7 L153.2 102.8 L153.5 103 L153.8 103.1 L154 103.3 L154.2 103.3 L154.5 103.2 L154.8 103.1 L155 102.9 L155.2 102.7 L155.5 102.6 L155.8 102.5 L156 102.5 L156.2 102.5 L156.5 102.4 L156.8 102.4 L157 102.4 L157.2 102.4 L157.5 102.3 L157.8 102.3 L158 102.3 L158.2 102.4 L158.5 102.6 L158.8 102.8 L159 102.9 L159.2 103.1 L159.5 103.1 L159.8 103.2 L160 103.3 L160.2 103.4 L160.5 103.5 L160.8 103.6 L161 103.6 L161.2 103.6 L161.5 103.5 L161.8 103.4 L162 103.3 L162.2 103.1 L162.5 103 L162.8 102.8 L163 102.7 L163.2 102.6 L163.5 102.5 L163.8 102.5 L164 102.4 L164.2 102.3 L164.5 102.2 L164.8 102 L165 101.9 L165.2 101.9 L165.5 101.9 L165.8 102.1 L166 102.4 L166.2 102.7 L166.5 103 L166.8 103.2 L167 103.4 L167.2 103.6 L167.5 103.7 L167.8 103.8 L168 103.9 L168.2 103.9 L168.5 103.8 L168.8 103.6 L169 103.3 L169.2 103.1 L169.5 102.9 L169.8 102.9 L170 103 L170.2 103.2 L170.5 103.4 L170.8 103.7 L171 103.9 L171.2 104.1 L171.5 104.2 L171.8 104.3 L172 104.3 L172.2 104.3 L172.5 104.3 L172.8 104.2 L173 104.1 L173.2 104 L173.5 103.8 L173.8 103.6 L174 103.4 L174.2 103.1 L174.5 103 L174.8 103 L175 103.1 L175.2 103.2 L175.5 103.3 L175.8 103.2 L176 103.2 L176.2 103.1 L176.5 103.1 L176.8 103.1 L177 103.1 L177.2 103 L177.5 102.5 L177.8 101.7 L178 100.8 L178.2 99.9 L178.5 99.6 L178.8 99.9 L179 101.2 L179.2 103.4 L179.5 106.5 L179.8 109.9 L180 112.4 L180.2 113.3 L180.5 112.8 L180.8 111.8 L181 111 L181.2 110.2 L181.5 108.9 L181.8 106.9 L182 104.5 L182.2 102.6 L182.5 101.3 L182.8 100.7 L183 100.5 L183.2 100.5 L183.5 100.7 L183.8 101.1 L184 101.5 L184.2 102 L184.5 102.5 L184.8 102.7 L185 102.8 L185.2 102.8 L185.5 102.6 L185.8 102.5 L186 102.4 L186.2 102.4 L186.5 102.4 L186.8 102.5 L187 102.6 L187.2 102.7 L187.5 102.8 L187.8 102.9 L188 103 L188.2 103 L188.5 102.8 L188.8 102.4 L189 101.7 L189.2 100.9 L189.5 100 L189.8 99.4 L190 99.3 L190.2 100 L190.5 101.5 L190.8 103.8 L191 106.8 L191.2 109.6 L191.5 111.3 L191.8 111.4 L192 110 L192.2 107.7 L192.5 105.5 L192.8 103.8 L193 102.7 L193.2 101.9 L193.5 101.4 L193.8 101.1 L194 100.9 L194.2 100.7 L194.5 100.7 L194.8 100.8 L195 101.2 L195.2 101.9 L195.5 103.1 L195.8 104.8 L196 106.6 L196.2 108.2 L196.5 109 L196.8 108.5 L197 107.2 L197.2 105.6 L197.5 104.2 L197.8 103.1 L198 102.4 L198.2 102 L198.5 101.8 L198.8 101.8 L199 102 L199.2 102.3 L199.5 102.7 L199.8 103 L200 103.3 L200.2 103.4 L200.5 103.5 L200.8 103.4 L201 103.3 L201.2 103.2 L201.5 103.1 L201.8 102.9 L202 102.8 L202.2 102.6 L202.5 102.5 L202.8 102.5 L203 102.5 L203.2 102.6 L203.5 102.9 L203.8 103.1 L204 103.4 L204.2 103.7 L204.5 103.9 L204.8 104.1 L205 104.3 L205.2 104.4 L205.5 104.5 L205.8 104.4 L206 104.2 L206.2 103.9 L206.5 103.6 L206.8 103.2 L207 102.8 L207.2 102.6 L207.5 102.5 L207.8 102.4 L208 102.4 L208.2 102.3 L208.5 102.3 L208.8 102.2 L209 102.2" fill="none" stroke="#111" stroke-width="1.35" stroke-linejoin="round"/>
<path d="M0 133.5 L0.2 133.6 L0.5 133.7 L0.8 133.8 L1 133.9 L1.2 133.9 L1.5 134 L1.8 133.9 L2 133.8 L2.2 133.7 L2.5 133.6 L2.8 133.5 L3 133.5 L3.2 133.7 L3.5 133.9 L3.8 134.1 L4 134.3 L4.2 134.5 L4.5 134.7 L4.8 134.9 L5 135.1 L5.2 135.2 L5.5 135.4 L5.8 135.4 L6 135.3 L6.2 135.2 L6.5 135 L6.8 134.9 L7 134.9 L7.2 135 L7.5 135.1 L7.8 135.3 L8 135.4 L8.2 135.4 L8.5 135.5 L8.8 135.5 L9 135.6 L9.2 135.6 L9.5 135.6 L9.8 135.5 L10 135.1 L10.2 134.4 L10.5 133.5 L10.8 132.8 L11 132.5 L11.2 132.9 L11.5 134.3 L11.8 136.7 L12 139.9 L12.2 143.3 L12.5 145.7 L12.8 146.1 L13 144.2 L13.2 140.9 L13.5 137.4 L13.8 134.6 L14 132.7 L14.2 131.6 L14.5 131.1 L14.8 131.1 L15 131.5 L15.2 132.1 L15.5 132.6 L15.8 132.9 L16 133 L16.2 132.8 L16.5 132.7 L16.8 132.7 L17 132.9 L17.2 133.4 L17.5 134.2 L17.8 135.3 L18 136.4 L18.2 137.3 L18.5 137.6 L18.8 137.2 L19 136.5 L19.2 135.7 L19.5 135 L19.8 134.4 L20 133.9 L20.2 133.6 L20.5 133.4 L20.8 133.4 L21 133.5 L21.2 133.7 L21.5 134 L21.8 134.2 L22 134.3 L22.2 134.4 L22.5 134.6 L22.8 134.7 L23 134.9 L23.2 135.2 L23.5 135.4 L23.8 135.6 L24 135.6 L24.2 135.6 L24.5 135.4 L24.8 135.1 L25 134.7 L25.2 134.2 L25.5 133.8 L25.8 133.5 L26 133.5 L26.2 133.9 L26.5 134.6 L26.8 135.7 L27 137.1 L27.2 138.5 L27.5 139.3 L27.8 139.2 L28 138.2 L28.2 136.9 L28.5 135.5 L28.8 134.5 L29 133.9 L29.2 133.6 L29.5 133.7 L29.8 134 L30 134.3 L30.2 134.7 L30.5 135.1 L30.8 135.3 L31 135.3 L31.2 135.2 L31.5 135 L31.8 134.8 L32 134.6 L32.2 134.5 L32.5 134.4 L32.8 134.5 L33 134.6 L33.2 134.6 L33.5 134.6 L33.8 134.6 L34 134.5 L34.2 134.4 L34.5 134.3 L34.8 134.3 L35 134.4 L35.2 134.6 L35.5 134.8 L35.8 135.1 L36 135.3 L36.2 135.5 L36.5 135.6 L36.8 135.6 L37 135.5 L37.2 135.4 L37.5 135.1 L37.8 134.9 L38 134.7 L38.2 134.5 L38.5 134.4 L38.8 134.3 L39 134.3 L39.2 134.3 L39.5 134.4 L39.8 134.6 L40 134.7 L40.2 134.8 L40.5 134.8 L40.8 134.7 L41 134.5 L41.2 134.2 L41.5 133.9 L41.8 133.4 L42 133 L42.2 132.6 L42.5 132.3 L42.8 132.3 L43 132.8 L43.2 133.6 L43.5 135 L43.8 136.6 L44 138.5 L44.2 139.9 L44.5 140.6 L44.8 140.1 L45 138.8 L45.2 137.2 L45.5 135.9 L45.8 134.8 L46 133.9 L46.2 133.3 L46.5 132.8 L46.8 132.5 L47 132.4 L47.2 132.4 L47.5 132.6 L47.8 132.9 L48 133.2 L48.2 133.5 L48.5 133.8 L48.8 134 L49 134.2 L49.2 134.2 L49.5 134.2 L49.8 134.2 L50 134.2 L50.2 134.1 L50.5 134.1 L50.8 134.1 L51 134.1 L51.2 134.1 L51.5 134.2 L51.8 134.5 L52 134.7 L52.2 135.1 L52.5 135.4 L52.8 135.7 L53 135.8 L53.2 135.8 L53.5 135.7 L53.8 135.5 L54 135.1 L54.2 134.7 L54.5 134.2 L54.8 133.9 L55 133.7 L55.2 133.8 L55.5 134.3 L55.8 135 L56 136.1 L56.2 137.4 L56.5 138.3 L56.8 138.5 L57 137.9 L57.2 136.8 L57.5 135.6 L57.8 134.7 L58 134.2 L58.2 134.1 L58.5 134.1 L58.8 134.4 L59 134.6 L59.2 134.9 L59.5 135 L59.8 135 L60 135 L60.2 134.8 L60.5 134.7 L60.8 134.7 L61 134.9 L61.2 135.2 L61.5 135.6 L61.8 135.9 L62 136.2 L62.2 136.3 L62.5 136.2 L62.8 136 L63 135.7 L63.2 135.4 L63.5 135 L63.8 134.7 L64 134.4 L64.2 134.3 L64.5 134.2 L64.8 134.2 L65 134.3 L65.2 134.4 L65.5 134.6 L65.8 134.7 L66 134.8 L66.2 134.9 L66.5 135 L66.8 135 L67 134.9 L67.2 134.9 L67.5 134.9 L67.8 135 L68 135 L68.2 135 L68.5 135.1 L68.8 135.3 L69 135.7 L69.2 136.1 L69.5 136.4 L69.8 136.4 L70 136 L70.2 135.3 L70.5 134.6 L70.8 134 L71 133.6 L71.2 133.4 L71.5 133.4 L71.8 133.6 L72 133.8 L72.2 134.2 L72.5 134.7 L72.8 135 L73 135.3 L73.2 135.3 L73.5 135.2 L73.8 135 L74 134.7 L74.2 134.4 L74.5 134.3 L74.8 134.2 L75 134.2 L75.2 134.1 L75.5 134.1 L75.8 133.9 L76 133.8 L76.2 133.6 L76.5 133.5 L76.8 133.4 L77 133.4 L77.2 133.5 L77.5 133.8 L77.8 134.1 L78 134.4 L78.2 134.7 L78.5 134.9 L78.8 135 L79 135 L79.2 135 L79.5 135 L79.8 135 L80 135 L80.2 135 L80.5 135 L80.8 134.8 L81 134.6 L81.2 134.3 L81.5 133.9 L81.8 133.6 L82 133.4 L82.2 133.3 L82.5 133.3 L82.8 133.4 L83 133.5 L83.2 133.5 L83.5 133.4 L83.8 133.1 L84 132.6 L84.2 132 L84.5 131.5 L84.8 131.3 L85 131.6 L85.2 132.6 L85.5 134.4 L85.8 137.1 L86 140.6 L86.2 144 L86.5 146.2 L86.8 146.4 L87 144.7 L87.2 141.9 L87.5 139.1 L87.8 136.7 L88 134.9 L88.2 133.7 L88.5 132.9 L88.8 132.5 L89 132.5 L89.2 132.7 L89.5 133.1 L89.8 133.4 L90 133.7 L90.2 133.9 L90.5 134 L90.8 134.1 L91 134.1 L91.2 134.2 L91.5 134.4 L91.8 134.7 L92 135.2 L92.2 135.8 L92.5 136.5 L92.8 137.2 L93 137.7 L93.2 138 L93.5 137.9 L93.8 137.2 L94 136.3 L94.2 135.3 L94.5 134.4 L94.8 133.9 L95 133.6 L95.2 133.6 L95.5 133.7 L95.8 133.9 L96 134.1 L96.2 134.4 L96.5 134.7 L96.8 134.9 L97 135 L97.2 135.1 L97.5 135 L97.8 134.8 L98 134.6 L98.2 134.4 L98.5 134.3 L98.8 134.3 L99 134.2 L99.2 134.2 L99.5 134.3 L99.8 134.3 L100 134.5 L100.2 134.7 L100.5 135 L100.8 135.3 L101 135.6 L101.2 135.7 L101.5 135.8 L101.8 135.8 L102 135.7 L102.2 135.5 L102.5 135.3 L102.8 135.1 L103 134.9 L103.2 134.8 L103.5 134.7 L103.8 134.8 L104 134.9 L104.2 135 L104.5 135.1 L104.8 135 L105 134.9 L105.2 134.8 L105.5 134.8 L105.8 134.8 L106 134.9 L106.2 135.1 L106.5 135.3 L106.8 135.4 L107 135.5 L107.2 135.4 L107.5 135.2 L107.8 135 L108 134.7 L108.2 134.6 L108.5 134.5 L108.8 134.6 L109 134.7 L109.2 134.8 L109.5 134.9 L109.8 134.9 L110 134.7 L110.2 134.5 L110.5 134.3 L110.8 134.3 L111 134.4 L111.2 134.5 L111.5 134.8 L111.8 134.9 L112 135.1 L112.2 135.1 L112.5 135 L112.8 135 L113 134.9 L113.2 134.8 L113.5 134.8 L113.8 134.8 L114 134.9 L114.2 134.9 L114.5 134.8 L114.8 134.8 L115 134.7 L115.2 134.7 L115.5 134.6 L115.8 134.6 L116 134.7 L116.2 134.9 L116.5 135.1 L116.8 135.5 L117 135.9 L117.2 136.3 L117.5 136.7 L117.8 136.9 L118 137 L118.2 137 L118.5 136.9 L118.8 136.6 L119 136.2 L119.2 135.8 L119.5 135.3 L119.8 135 L120 134.7 L120.2 134.6 L120.5 134.6 L120.8 134.8 L121 135 L121.2 135.2 L121.5 135.3 L121.8 135.4 L122 135.3 L122.2 135.2 L122.5 135.1 L122.8 135 L123 134.9 L123.2 134.7 L123.5 134.4 L123.8 134.2 L124 133.9 L124.2 133.7 L124.5 133.6 L124.8 133.6 L125 133.8 L125.2 134 L125.5 134.3 L125.8 134.6 L126 134.8 L126.2 134.8 L126.5 134.8 L126.8 134.6 L127 134.3 L127.2 134.1 L127.5 133.8 L127.8 133.5 L128 133 L128.2 132.5 L128.5 132 L128.8 131.6 L129 131.4 L129.2 131.7 L129.5 132.6 L129.8 133.9 L130 135.6 L130.2 137.6 L130.5 139.3 L130.8 140.2 L131 139.8 L131.2 138.4 L131.5 136.6 L131.8 134.9 L132 133.7 L132.2 133 L132.5 132.7 L132.8 132.8 L133 133.2 L133.2 133.8 L133.5 134.4 L133.8 135 L134 135.4 L134.2 135.6 L134.5 135.6 L134.8 135.5 L135 135.3 L135.2 135 L135.5 134.7 L135.8 134.5 L136 134.4 L136.2 134.4 L136.5 134.4 L136.8 134.5 L137 134.6 L137.2 134.7 L137.5 134.7 L137.8 134.7 L138 134.7 L138.2 134.7 L138.5 134.8 L138.8 134.9 L139 134.9 L139.2 134.9 L139.5 134.8 L139.8 134.8 L140 134.8 L140.2 135 L140.5 135.3 L140.8 135.6 L141 135.9 L141.2 136.1 L141.5 136.1 L141.8 135.8 L142 135.4 L142.2 134.8 L142.5 134.4 L142.8 134.1 L143 134.1 L143.2 134.4 L143.5 134.8 L143.8 135.1 L144 135.5 L144.2 135.6 L144.5 135.7 L144.8 135.6 L145 135.5 L145.2 135.4 L145.5 135.3 L145.8 135.3 L146 135.2 L146.2 135.1 L146.5 135 L146.8 134.8 L147 134.6 L147.2 134.4 L147.5 134.2 L147.8 134.1 L148 134.2 L148.2 134.5 L148.5 134.8 L148.8 135.2 L149 135.5 L149.2 135.7 L149.5 135.7 L149.8 135.6 L150 135.5 L150.2 135.4 L150.5 135.3 L150.8 135.2 L151 135.1 L151.2 135 L151.5 134.9 L151.8 134.8 L152 134.8 L152.2 134.8 L152.5 134.9 L152.8 134.9 L153 135 L153.2 135 L153.5 134.9 L153.8 134.8 L154 134.6 L154.2 134.4 L154.5 134.2 L154.8 134.2 L155 134.3 L155.2 134.4 L155.5 134.7 L155.8 134.9 L156 135.2 L156.2 135.4 L156.5 135.5 L156.8 135.5 L157 135.4 L157.2 135.3 L157.5 135.1 L157.8 134.9 L158 134.7 L158.2 134.4 L158.5 133.9 L158.8 133.2 L159 132.3 L159.2 131.4 L159.5 130.8 L159.8 130.9 L160 131.8 L160.2 133.9 L160.5 137 L160.8 141 L161 145 L161.2 147.7 L161.5 147.9 L161.8 145.6 L162 141.7 L162.2 137.8 L162.5 134.6 L162.8 132.5 L163 131.2 L163.2 130.7 L163.5 130.9 L163.8 131.6 L164 132.6 L164.2 133.7 L164.5 134.7 L164.8 135.3 L165 135.7 L165.2 135.9 L165.5 136.1 L165.8 136.1 L166 136.2 L166.2 136.3 L166.5 136.3 L166.8 136.3 L167 136.2 L167.2 136.1 L167.5 135.9 L167.8 135.7 L168 135.3 L168.2 134.9 L168.5 134.5 L168.8 134 L169 133.7 L169.2 133.6 L169.5 133.9 L169.8 134.7 L170 136.1 L170.2 137.8 L170.5 139.6 L170.8 140.8 L171 140.9 L171.2 139.9 L171.5 138.3 L171.8 136.7 L172 135.4 L172.2 134.5 L172.5 133.8 L172.8 133.4 L173 133.2 L173.2 133 L173.5 132.9 L173.8 132.9 L174 132.9 L174.2 132.9 L174.5 133.1 L174.8 133.4 L175 133.7 L175.2 133.9 L175.5 134.1 L175.8 134.3 L176 134.4 L176.2 134.4 L176.5 134.4 L176.8 134.5 L177 134.5 L177.2 134.5 L177.5 134.5 L177.8 134.5 L178 134.5 L178.2 134.5 L178.5 134.5 L178.8 134.5 L179 134.4 L179.2 134.3 L179.5 134.2 L179.8 134.2 L180 134.2 L180.2 134.2 L180.5 134.2 L180.8 134.2 L181 134.2 L181.2 134.3 L181.5 134.5 L181.8 134.7 L182 134.9 L182.2 135.1 L182.5 135.3 L182.8 135.5 L183 135.6 L183.2 135.6 L183.5 135.5 L183.8 135.3 L184 135.1 L184.2 134.9 L184.5 134.7 L184.8 134.5 L185 134.3 L185.2 134.2 L185.5 134 L185.8 133.8 L186 133.3 L186.2 132.8 L186.5 132.4 L186.8 132.4 L187 133 L187.2 134.1 L187.5 135.9 L187.8 138 L188 140.3 L188.2 142.1 L188.5 142.7 L188.8 142 L189 140.2 L189.2 138.1 L189.5 136.5 L189.8 135.4 L190 134.8 L190.2 134.4 L190.5 134.2 L190.8 134.1 L191 134.1 L191.2 134.1 L191.5 134 L191.8 134 L192 133.9 L192.2 133.9 L192.5 134 L192.8 134.1 L193 134.2 L193.2 134.4 L193.5 134.6 L193.8 134.8 L194 135 L194.2 135.3 L194.5 135.6 L194.8 135.9 L195 136.1 L195.2 136.3 L195.5 136.3 L195.8 136.2 L196 136 L196.2 135.6 L196.5 135.1 L196.8 134.6 L197 134.1 L197.2 133.8 L197.5 133.5 L197.8 133.4 L198 133.5 L198.2 133.7 L198.5 134 L198.8 134.3 L199 134.6 L199.2 134.7 L199.5 134.5 L199.8 134.2 L200 133.7 L200.2 133.2 L200.5 132.8 L200.8 132.5 L201 132.5 L201.2 132.6 L201.5 132.8 L201.8 132.9 L202 132.7 L202.2 132.3 L202.5 131.7 L202.8 131.2 L203 131.2 L203.2 131.9 L203.5 133.4 L203.8 135.7 L204 138.6 L204.2 141.3 L204.5 142.7 L204.8 142.1 L205 139.4 L205.2 135.3 L205.5 131.1 L205.8 128.5 L206 128.5 L206.2 130.8 L206.5 133.9 L206.8 137 L207 139.3 L207.2 140.3 L207.5 139.8 L207.8 138.1 L208 136.3 L208.2 134.8 L208.5 133.9 L208.8 133.4 L209 133.2" fill="none" stroke="#111" stroke-width="1.35" stroke-linejoin="round"/>
<path d="M0 168.3 L0.2 168.2 L0.5 168.2 L0.8 168.1 L1 167.9 L1.2 167.8 L1.5 167.7 L1.8 167.5 L2 167.4 L2.2 167.4 L2.5 167.4 L2.8 167.4 L3 167.4 L3.2 167.4 L3.5 167.4 L3.8 167.3 L4 167.1 L4.2 166.9 L4.5 166.8 L4.8 166.8 L5 166.8 L5.2 167 L5.5 167.2 L5.8 167.3 L6 167.5 L6.2 167.6 L6.5 167.7 L6.8 167.7 L7 167.7 L7.2 167.6 L7.5 167.6 L7.8 167.7 L8 167.8 L8.2 168 L8.5 168.1 L8.8 168.2 L9 168.2 L9.2 168 L9.5 167.8 L9.8 167.5 L10 167.2 L10.2 166.9 L10.5 166.7 L10.8 166.4 L11 166.3 L11.2 166.1 L11.5 166.1 L11.8 166.2 L12 166.2 L12.2 166.3 L12.5 166.3 L12.8 166.3 L13 166.1 L13.2 165.9 L13.5 165.8 L13.8 165.7 L14 165.8 L14.2 165.9 L14.5 166.1 L14.8 166.3 L15 166.5 L15.2 166.5 L15.5 166.5 L15.8 166.5 L16 166.5 L16.2 166.6 L16.5 166.8 L16.8 167 L17 167.2 L17.2 167.2 L17.5 167 L17.8 166.7 L18 166.4 L18.2 166.1 L18.5 166.1 L18.8 166.3 L19 166.7 L19.2 167.4 L19.5 168 L19.8 168.5 L20 168.7 L20.2 168.5 L20.5 168 L20.8 167.4 L21 167 L21.2 166.7 L21.5 166.5 L21.8 166.5 L22 166.6 L22.2 166.7 L22.5 166.9 L22.8 167.1 L23 167.3 L23.2 167.3 L23.5 167.3 L23.8 167.3 L24 167.2 L24.2 167.3 L24.5 167.3 L24.8 167.4 L25 167.5 L25.2 167.6 L25.5 167.7 L25.8 167.8 L26 167.8 L26.2 167.8 L26.5 167.7 L26.8 167.5 L27 167.3 L27.2 167 L27.5 166.7 L27.8 166.5 L28 166.4 L28.2 166.5 L28.5 166.6 L28.8 166.8 L29 167 L29.2 167.2 L29.5 167.3 L29.8 167.4 L30 167.4 L30.2 167.3 L30.5 167.1 L30.8 166.7 L31 166.3 L31.2 166.2 L31.5 166.3 L31.8 166.8 L32 167.7 L32.2 168.9 L32.5 170.2 L32.8 171.2 L33 171.6 L33.2 171.3 L33.5 170.3 L33.8 169.1 L34 168 L34.2 167.2 L34.5 166.5 L34.8 166 L35 165.8 L35.2 165.7 L35.5 165.9 L35.8 166.3 L36 166.9 L36.2 167.6 L36.5 168.3 L36.8 168.8 L37 169 L37.2 168.8 L37.5 168.6 L37.8 168.3 L38 168.1 L38.2 168 L38.5 167.9 L38.8 167.8 L39 167.8 L39.2 167.8 L39.5 167.9 L39.8 167.9 L40 167.9 L40.2 167.9 L40.5 167.9 L40.8 167.9 L41 167.8 L41.2 167.6 L41.5 167.4 L41.8 167.1 L42 166.9 L42.2 166.7 L42.5 166.5 L42.8 166.3 L43 166.2 L43.2 166 L43.5 165.8 L43.8 165.7 L44 165.7 L44.2 165.7 L44.5 165.9 L44.8 166.1 L45 166.5 L45.2 166.8 L45.5 167.2 L45.8 167.4 L46 167.6 L46.2 167.7 L46.5 167.8 L46.8 167.8 L47 167.8 L47.2 167.9 L47.5 167.9 L47.8 168 L48 168.1 L48.2 168.1 L48.5 168 L48.8 167.8 L49 167.5 L49.2 167.3 L49.5 167.1 L49.8 167 L50 166.9 L50.2 166.8 L50.5 166.7 L50.8 166.6 L51 166.6 L51.2 166.8 L51.5 167.1 L51.8 167.6 L52 168.2 L52.2 168.8 L52.5 169.3 L52.8 169.6 L53 169.6 L53.2 169.1 L53.5 168.5 L53.8 167.8 L54 167.1 L54.2 166.6 L54.5 166.2 L54.8 165.8 L55 165.7 L55.2 165.6 L55.5 165.8 L55.8 165.9 L56 166.1 L56.2 166.2 L56.5 166.2 L56.8 166.2 L57 166.1 L57.2 165.9 L57.5 165.7 L57.8 165.5 L58 165.4 L58.2 165.6 L58.5 166.2 L58.8 167.4 L59 169.1 L59.2 171.2 L59.5 173 L59.8 173.9 L60 173.4 L60.2 171.8 L60.5 169.7 L60.8 167.7 L61 166.3 L61.2 165.4 L61.5 164.9 L61.8 164.9 L62 165.2 L62.2 165.8 L62.5 166.6 L62.8 167.5 L63 168.3 L63.2 168.9 L63.5 169 L63.8 168.6 L64 167.8 L64.2 166.9 L64.5 166.4 L64.8 166.5 L65 167.4 L65.2 168.9 L65.5 170.7 L65.8 172.2 L66 172.7 L66.2 172.1 L66.5 170.9 L66.8 169.5 L67 168.2 L67.2 167.3 L67.5 166.6 L67.8 166.2 L68 166 L68.2 166 L68.5 166.1 L68.8 166.2 L69 166.3 L69.2 166.5 L69.5 166.6 L69.8 166.8 L70 166.9 L70.2 167 L70.5 167.1 L70.8 167.1 L71 167.1 L71.2 167.1 L71.5 167 L71.8 166.9 L72 166.7 L72.2 166.5 L72.5 166.3 L72.8 166.2 L73 166.1 L73.2 166.1 L73.5 166.2 L73.8 166.4 L74 166.5 L74.2 166.6 L74.5 166.6 L74.8 166.6 L75 166.7 L75.2 166.8 L75.5 167.1 L75.8 167.5 L76 168 L76.2 168.4 L76.5 168.5 L76.8 168.3 L77 167.7 L77.2 167 L77.5 166.4 L77.8 166 L78 165.8 L78.2 165.8 L78.5 165.8 L78.8 165.8 L79 165.8 L79.2 165.8 L79.5 165.8 L79.8 165.9 L80 165.9 L80.2 166.1 L80.5 166.3 L80.8 166.6 L81 167 L81.2 167.4 L81.5 167.7 L81.8 167.8 L82 167.9 L82.2 167.9 L82.5 167.8 L82.8 167.6 L83 167.5 L83.2 167.4 L83.5 167.3 L83.8 167.4 L84 167.5 L84.2 167.6 L84.5 167.7 L84.8 167.9 L85 168 L85.2 168.1 L85.5 168.2 L85.8 168.3 L86 168.2 L86.2 168.2 L86.5 168 L86.8 167.8 L87 167.6 L87.2 167.3 L87.5 167.1 L87.8 166.8 L88 166.6 L88.2 166.4 L88.5 166.2 L88.8 166.1 L89 166 L89.2 165.9 L89.5 165.9 L89.8 165.7 L90 165.5 L90.2 165.2 L90.5 165 L90.8 165 L91 165.5 L91.2 166.3 L91.5 167.8 L91.8 169.7 L92 171.6 L92.2 172.8 L92.5 172.8 L92.8 171.5 L93 169.4 L93.2 167.4 L93.5 166 L93.8 165.2 L94 164.9 L94.2 165.1 L94.5 165.5 L94.8 166.1 L95 166.8 L95.2 167.4 L95.5 167.8 L95.8 168.1 L96 168.3 L96.2 168.2 L96.5 168.1 L96.8 167.9 L97 167.7 L97.2 167.6 L97.5 167.5 L97.8 167.4 L98 167.2 L98.2 167 L98.5 166.6 L98.8 166.2 L99 165.8 L99.2 165.5 L99.5 165.3 L99.8 165.1 L100 165 L100.2 164.9 L100.5 164.8 L100.8 164.8 L101 164.8 L101.2 164.9 L101.5 165.1 L101.8 165.4 L102 165.8 L102.2 166.3 L102.5 166.8 L102.8 167.2 L103 167.5 L103.2 167.7 L103.5 167.8 L103.8 167.8 L104 167.7 L104.2 167.6 L104.5 167.4 L104.8 167.2 L105 167.1 L105.2 167 L105.5 166.9 L105.8 166.9 L106 166.9 L106.2 166.9 L106.5 166.9 L106.8 166.7 L107 166.4 L107.2 165.9 L107.5 165.3 L107.8 164.8 L108 164.7 L108.2 165.4 L108.5 168.2 L108.8 175.9 L109 189 L109.2 198.4 L109.5 194.2 L109.8 181.4 L110 171.8 L110.2 168 L110.5 166.9 L110.8 166.5 L111 166.1 L111.2 165.8 L111.5 165.6 L111.8 165.6 L112 165.7 L112.2 166.1 L112.5 166.7 L112.8 167.6 L113 168.4 L113.2 169.1 L113.5 169.5 L113.8 169.4 L114 169.1 L114.2 168.6 L114.5 168.2 L114.8 167.9 L115 167.6 L115.2 167.5 L115.5 167.3 L115.8 167.2 L116 167.1 L116.2 167 L116.5 166.8 L116.8 166.5 L117 166.1 L117.2 165.6 L117.5 165.1 L117.8 164.8 L118 165 L118.2 165.6 L118.5 166.7 L118.8 168.6 L119 170.8 L119.2 173.1 L119.5 174.6 L119.8 174.7 L120 173.4 L120.2 171.3 L120.5 169.3 L120.8 167.6 L121 166.3 L121.2 165.5 L121.5 165.1 L121.8 165 L122 165.3 L122.2 165.7 L122.5 166.1 L122.8 166.4 L123 166.6 L123.2 166.7 L123.5 166.8 L123.8 166.9 L124 167 L124.2 167.1 L124.5 167.4 L124.8 167.8 L125 168.3 L125.2 168.8 L125.5 169.1 L125.8 169.1 L126 168.7 L126.2 168 L126.5 167.3 L126.8 166.8 L127 166.5 L127.2 166.3 L127.5 166.3 L127.8 166.4 L128 166.7 L128.2 167.1 L128.5 167.5 L128.8 167.9 L129 168.1 L129.2 168.1 L129.5 168 L129.8 167.7 L130 167.3 L130.2 167 L130.5 166.8 L130.8 166.7 L131 166.7 L131.2 166.9 L131.5 167.1 L131.8 167.3 L132 167.5 L132.2 167.7 L132.5 168 L132.8 168.3 L133 168.6 L133.2 168.8 L133.5 168.9 L133.8 168.8 L134 168.4 L134.2 168 L134.5 167.5 L134.8 167 L135 166.7 L135.2 166.5 L135.5 166.4 L135.8 166.4 L136 166.5 L136.2 166.6 L136.5 166.5 L136.8 166.5 L137 166.4 L137.2 166.4 L137.5 166.4 L137.8 166.6 L138 166.9 L138.2 167.1 L138.5 167.4 L138.8 167.6 L139 167.7 L139.2 167.8 L139.5 167.8 L139.8 167.7 L140 167.7 L140.2 167.6 L140.5 167.6 L140.8 167.6 L141 167.7 L141.2 167.7 L141.5 167.7 L141.8 167.6 L142 167.5 L142.2 167.3 L142.5 167.2 L142.8 167 L143 166.7 L143.2 166.4 L143.5 166.1 L143.8 165.9 L144 165.9 L144.2 166.4 L144.5 167.3 L144.8 168.9 L145 170.9 L145.2 172.9 L145.5 174.1 L145.8 174 L146 172.6 L146.2 170.7 L146.5 168.9 L146.8 167.6 L147 166.8 L147.2 166.3 L147.5 166 L147.8 165.9 L148 166.1 L148.2 166.3 L148.5 166.6 L148.8 166.9 L149 167 L149.2 167 L149.5 166.7 L149.8 166.5 L150 166.3 L150.2 166.4 L150.5 166.7 L150.8 167.5 L151 168.6 L151.2 169.9 L151.5 171.2 L151.8 171.8 L152 171.7 L152.2 170.9 L152.5 169.9 L152.8 169.1 L153 168.6 L153.2 168.3 L153.5 168.1 L153.8 167.9 L154 167.9 L154.2 167.9 L154.5 168 L154.8 168.1 L155 168.1 L155.2 168.1 L155.5 168 L155.8 167.9 L156 167.8 L156.2 167.8 L156.5 167.8 L156.8 167.9 L157 168.1 L157.2 168.2 L157.5 168.3 L157.8 168.4 L158 168.3 L158.2 168.2 L158.5 167.9 L158.8 167.6 L159 167.3 L159.2 166.9 L159.5 166.6 L159.8 166.4 L160 166.2 L160.2 166.1 L160.5 165.9 L160.8 165.7 L161 165.6 L161.2 165.6 L161.5 166 L161.8 166.8 L162 168 L162.2 169.7 L162.5 171.5 L162.8 173 L163 173.5 L163.2 172.8 L163.5 171 L163.8 168.9 L164 167.1 L164.2 165.8 L164.5 164.9 L164.8 164.3 L165 164.1 L165.2 164.1 L165.5 164.3 L165.8 164.6 L166 164.9 L166.2 165 L166.5 165.1 L166.8 165.2 L167 165.3 L167.2 165.5 L167.5 165.7 L167.8 165.9 L168 166.1 L168.2 166.3 L168.5 166.4 L168.8 166.5 L169 166.6 L169.2 166.7 L169.5 166.8 L169.8 166.9 L170 166.9 L170.2 167 L170.5 167 L170.8 167 L171 166.9 L171.2 166.8 L171.5 166.8 L171.8 166.7 L172 166.8 L172.2 166.9 L172.5 167.1 L172.8 167.4 L173 167.6 L173.2 167.8 L173.5 167.9 L173.8 167.8 L174 167.7 L174.2 167.6 L174.5 167.4 L174.8 167.2 L175 167.1 L175.2 167 L175.5 166.8 L175.8 166.6 L176 166.3 L176.2 166 L176.5 165.7 L176.8 165.5 L177 165.5 L177.2 165.8 L177.5 166.6 L177.8 167.8 L178 169.3 L178.2 170.8 L178.5 171.9 L178.8 172.1 L179 171.5 L179.2 170.4 L179.5 169.2 L179.8 168.2 L180 167.3 L180.2 166.7 L180.5 166.2 L180.8 165.8 L181 165.7 L181.2 165.7 L181.5 165.9 L181.8 166.2 L182 166.6 L182.2 167 L182.5 167.3 L182.8 167.5 L183 167.6 L183.2 167.5 L183.5 167.5 L183.8 167.4 L184 167.4 L184.2 167.4 L184.5 167.5 L184.8 167.6 L185 167.6 L185.2 167.4 L185.5 167.2 L185.8 166.8 L186 166.4 L186.2 166 L186.5 165.7 L186.8 165.6 L187 165.5 L187.2 165.6 L187.5 165.7 L187.8 165.8 L188 166 L188.2 166.1 L188.5 166.3 L188.8 166.5 L189 166.6 L189.2 166.7 L189.5 166.8 L189.8 166.8 L190 166.8 L190.2 166.8 L190.5 167 L190.8 167.3 L191 167.6 L191.2 168 L191.5 168.4 L191.8 168.7 L192 168.9 L192.2 168.9 L192.5 168.9 L192.8 168.7 L193 168.5 L193.2 168.2 L193.5 167.8 L193.8 167.4 L194 167 L194.2 166.8 L194.5 166.7 L194.8 166.8 L195 167 L195.2 167.2 L195.5 167.4 L195.8 167.6 L196 167.9 L196.2 168.1 L196.5 168.2 L196.8 168.3 L197 168.1 L197.2 167.7 L197.5 167.3 L197.8 166.8 L198 166.4 L198.2 166.1 L198.5 166 L198.8 166 L199 166.1 L199.2 166.3 L199.5 166.4 L199.8 166.5 L200 166.4 L200.2 166.2 L200.5 165.8 L200.8 165.3 L201 164.8 L201.2 164.6 L201.5 164.9 L201.8 165.6 L202 167 L202.2 168.9 L202.5 171 L202.8 172.7 L203 173 L203.2 171.7 L203.5 169 L203.8 165.6 L204 162.3 L204.2 160.7 L204.5 161.6 L204.8 164.6 L205 168.3 L205.2 171.6 L205.5 173.8 L205.8 174.4 L206 173.5 L206.2 171.7 L206.5 169.8 L206.8 168.3 L207 167.2 L207.2 166.5 L207.5 166.3 L207.8 166.3 L208 166.6 L208.2 167 L208.5 167.4 L208.8 167.7 L209 167.9" fill="none" stroke="#111" stroke-width="1.35" stroke-linejoin="round"/>
<path d="M189.2 190.3 H231.2 V174.3" fill="none" stroke="#222" stroke-width="1.2"/>
<text x="199.9" y="185.3" font-size="10.9" text-anchor="start" font-weight="normal" fill="#222" >F025</text>
<text x="203.5" y="200.6" font-size="10.2" text-anchor="start" font-weight="normal" fill="#222" >1 s</text>
<text x="233.6" y="186.9" font-size="10.2" text-anchor="start" font-weight="normal" fill="#222" >1 mV</text>
<text x="259" y="19.9" font-size="24" text-anchor="start" font-weight="bold" fill="#000" >B</text>
<rect x="351" y="32" width="79.7" height="4.6" fill="#999"/>
<path d="M310 71.6 L310.4 71.6 L310.7 71.6 L311.1 71.6 L311.5 71.5 L311.9 71.5 L312.3 71.5 L312.7 71.5 L313.1 71.4 L313.5 71.4 L313.9 71.4 L314.3 71.3 L314.6 71.3 L315 71.3 L315.4 71.2 L315.8 71.2 L316.2 71.2 L316.6 71.1 L317 71.1 L317.4 71.1 L317.8 71 L318.2 71 L318.5 70.9 L318.9 70.9 L319.3 70.9 L319.7 70.8 L320.1 70.8 L320.5 70.8 L320.9 70.7 L321.3 70.7 L321.7 70.7 L322.1 70.6 L322.4 70.6 L322.8 70.5 L323.2 70.5 L323.6 70.4 L324 70.4 L324.4 70.3 L324.8 70.3 L325.2 70.2 L325.6 70.2 L325.9 70.1 L326.3 70 L326.7 69.9 L327.1 69.8 L327.5 69.7 L327.9 69.6 L328.3 69.4 L328.7 69.2 L329.1 69 L329.5 68.8 L329.8 68.5 L330.2 68.3 L330.6 68 L331 67.7 L331.4 67.5 L331.8 67.2 L332.2 66.9 L332.6 66.6 L333 66.3 L333.4 66 L333.7 65.7 L334.1 65.4 L334.5 65.1 L334.9 64.8 L335.3 64.6 L335.7 64.3 L336.1 64.1 L336.5 63.8 L336.9 63.6 L337.2 63.3 L337.6 63.1 L338 62.8 L338.4 62.5 L338.8 62.2 L339.2 62 L339.6 61.7 L340 61.4 L340.4 61.1 L340.8 60.8 L341.1 60.5 L341.5 60.2 L341.9 60 L342.3 59.7 L342.7 59.4 L343.1 59.1 L343.5 58.9 L343.9 58.6 L344.3 58.3 L344.7 58 L345 57.8 L345.4 57.5 L345.8 57.2 L346.2 56.9 L346.6 56.6 L347 56.4 L347.4 56.1 L347.8 55.8 L348.2 55.5 L348.6 55.2 L348.9 54.9 L349.3 54.7 L349.7 54.4 L350.1 54.2 L350.5 53.9 L350.9 53.7 L351.3 53.5 L351.7 53.4 L352.1 53.2 L352.4 53.1 L352.8 53 L353.2 53 L353.6 53 L354 53.2 L354.4 53.6 L354.8 54.3 L355.2 55 L355.6 55.9 L356 56.9 L356.3 57.9 L356.7 58.9 L357.1 59.9 L357.5 60.9 L357.9 62 L358.3 63.2 L358.7 64.4 L359.1 65.6 L359.5 66.9 L359.9 68.1 L360.2 69.3 L360.6 70.5 L361 71.6 L361.4 72.5 L361.8 73.4 L362.2 74 L362.6 74.5 L363 74.8 L363.4 75 L363.7 75.1 L364.1 75.2 L364.5 75.1 L364.9 75.1 L365.3 75.1 L365.7 75.1 L366.1 75.2 L366.5 75.3 L366.9 75.4 L367.3 75.5 L367.6 75.6 L368 75.6 L368.4 75.7 L368.8 75.7 L369.2 75.7 L369.6 75.8 L370 75.8 L370.4 75.8 L370.8 75.8 L371.2 75.8 L371.5 75.8 L371.9 75.8 L372.3 75.8 L372.7 75.8 L373.1 75.7 L373.5 75.7 L373.9 75.7 L374.3 75.7 L374.7 75.7 L375 75.7 L375.4 75.8 L375.8 75.9 L376.2 76 L376.6 76.1 L377 76.3 L377.4 76.5 L377.8 76.7 L378.2 76.9 L378.6 77.2 L378.9 77.6 L379.3 78 L379.7 78.4 L380.1 78.8 L380.5 79.3 L380.9 79.8 L381.3 80.3 L381.7 80.7 L382.1 81.2 L382.5 81.6 L382.8 81.9 L383.2 82.2 L383.6 82.2 L384 81.9 L384.4 81.5 L384.8 80.9 L385.2 80.3 L385.6 79.6 L386 78.9 L386.4 78.2 L386.7 77.6 L387.1 77.1 L387.5 76.7 L387.9 76.5 L388.3 76.6 L388.7 76.6 L389.1 76.6 L389.5 76.5 L389.9 76.3 L390.2 76 L390.6 75.7 L391 75.3 L391.4 75 L391.8 74.7 L392.2 74.4 L392.6 74.1 L393 73.9 L393.4 73.7 L393.8 73.6 L394.1 73.5 L394.5 73.4 L394.9 73.4 L395.3 73.5 L395.7 73.6 L396.1 73.7 L396.5 73.8 L396.9 73.9 L397.3 73.9 L397.7 73.9 L398 73.9 L398.4 73.9 L398.8 73.9 L399.2 73.9 L399.6 73.8 L400 73.8 L400.4 73.7 L400.8 73.7 L401.2 73.6 L401.5 73.5 L401.9 73.4 L402.3 73.2 L402.7 72.8 L403.1 72.4 L403.5 71.9 L403.9 71.3 L404.3 70.7 L404.7 70 L405.1 69.4 L405.4 68.7 L405.8 68.1 L406.2 67.5 L406.6 67 L407 66.6 L407.4 66.3 L407.8 66.1 L408.2 66 L408.6 65.9 L409 65.8 L409.3 65.7 L409.7 65.6 L410.1 65.5 L410.5 65.4 L410.9 65.3 L411.3 65.2 L411.7 65 L412.1 64.9 L412.5 64.8 L412.9 64.7 L413.2 64.4 L413.6 64 L414 63.5 L414.4 62.9 L414.8 62.3 L415.2 61.7 L415.6 61.1 L416 60.5 L416.4 60 L416.7 59.6 L417.1 59.2 L417.5 59.1 L417.9 59 L418.3 59.1 L418.7 59.3 L419.1 59.6 L419.5 60 L419.9 60.5 L420.3 61 L420.6 61.5 L421 62 L421.4 62.5 L421.8 63 L422.2 63.5 L422.6 63.9 L423 64.3 L423.4 64.7 L423.8 65.1 L424.2 65.5 L424.5 65.8 L424.9 66.2 L425.3 66.5 L425.7 66.8 L426.1 67.2 L426.5 67.4 L426.9 67.7 L427.3 68 L427.7 68.3 L428 68.6 L428.4 68.9 L428.8 69.1 L429.2 69.4 L429.6 69.7 L430 70 L430.4 70.4 L430.8 70.7 L431.2 71.1 L431.6 71.5 L431.9 71.8 L432.3 72 L432.7 72.3 L433.1 72.4 L433.5 72.4 L433.9 72.4 L434.3 72.2 L434.7 72 L435.1 71.7 L435.5 71.4 L435.8 71 L436.2 70.6 L436.6 70.2 L437 69.8 L437.4 69.4 L437.8 69 L438.2 68.6 L438.6 68.3 L439 68 L439.4 67.6 L439.7 67.3 L440.1 66.9 L440.5 66.5 L440.9 66.1 L441.3 65.7 L441.7 65.3 L442.1 65 L442.5 64.6 L442.9 64.3 L443.2 64.1 L443.6 63.9 L444 63.8 L444.4 63.7 L444.8 63.7 L445.2 63.7 L445.6 63.7 L446 63.8 L446.4 63.9 L446.8 64 L447.1 64.1 L447.5 64.3 L447.9 64.4 L448.3 64.6 L448.7 64.7 L449.1 64.9 L449.5 65.1 L449.9 65.2 L450.3 65.4 L450.7 65.6 L451 65.7 L451.4 65.9 L451.8 66 L452.2 66.2 L452.6 66.3 L453 66.5 L453.4 66.6 L453.8 66.8 L454.2 66.9 L454.5 67.1 L454.9 67.3 L455.3 67.4 L455.7 67.6 L456.1 67.8 L456.5 67.9 L456.9 68.1 L457.3 68.2 L457.7 68.3 L458.1 68.5 L458.4 68.6 L458.8 68.7 L459.2 68.8 L459.6 68.8 L460 68.9 L460.4 69 L460.8 69.1 L461.2 69.1 L461.6 69.2 L462 69.3 L462.3 69.3 L462.7 69.4 L463.1 69.4 L463.5 69.5 L463.9 69.5 L464.3 69.6 L464.7 69.6 L465.1 69.6 L465.5 69.6 L465.5 74.2 L465.1 74.2 L464.7 74.2 L464.3 74.2 L463.9 74.1 L463.5 74.1 L463.1 74 L462.7 74 L462.3 73.9 L462 73.9 L461.6 73.8 L461.2 73.7 L460.8 73.7 L460.4 73.6 L460 73.5 L459.6 73.5 L459.2 73.4 L458.8 73.3 L458.4 73.2 L458.1 73.1 L457.7 73 L457.3 72.9 L456.9 72.7 L456.5 72.6 L456.1 72.4 L455.7 72.3 L455.3 72.1 L454.9 72 L454.5 71.8 L454.2 71.7 L453.8 71.5 L453.4 71.4 L453 71.2 L452.6 71.1 L452.2 71 L451.8 70.8 L451.4 70.7 L451 70.5 L450.7 70.4 L450.3 70.2 L449.9 70.1 L449.5 69.9 L449.1 69.8 L448.7 69.6 L448.3 69.5 L447.9 69.3 L447.5 69.2 L447.1 69.1 L446.8 69 L446.4 68.9 L446 68.8 L445.6 68.8 L445.2 68.7 L444.8 68.7 L444.4 68.8 L444 68.9 L443.6 69 L443.2 69.2 L442.9 69.5 L442.5 69.8 L442.1 70.2 L441.7 70.6 L441.3 70.9 L440.9 71.4 L440.5 71.8 L440.1 72.2 L439.7 72.6 L439.4 73 L439 73.4 L438.6 73.7 L438.2 74.1 L437.8 74.5 L437.4 74.9 L437 75.3 L436.6 75.8 L436.2 76.2 L435.8 76.6 L435.5 77 L435.1 77.4 L434.7 77.7 L434.3 78 L433.9 78.2 L433.5 78.3 L433.1 78.3 L432.7 78.3 L432.3 78.2 L431.9 78 L431.6 77.8 L431.2 77.6 L430.8 77.4 L430.4 77.2 L430 77 L429.6 76.9 L429.2 76.8 L428.8 76.7 L428.4 76.6 L428 76.5 L427.7 76.4 L427.3 76.3 L426.9 76.2 L426.5 76.1 L426.1 76 L425.7 75.9 L425.3 75.9 L424.9 75.8 L424.5 75.8 L424.2 75.7 L423.8 75.7 L423.4 75.7 L423 75.6 L422.6 75.5 L422.2 75.5 L421.8 75.3 L421.4 75.1 L421 74.9 L420.6 74.7 L420.3 74.4 L419.9 74.2 L419.5 73.9 L419.1 73.7 L418.7 73.6 L418.3 73.4 L417.9 73.4 L417.5 73.4 L417.1 73.6 L416.7 73.8 L416.4 74.2 L416 74.6 L415.6 75.1 L415.2 75.5 L414.8 76 L414.4 76.4 L414 76.8 L413.6 77.1 L413.2 77.3 L412.9 77.4 L412.5 77.3 L412.1 77.2 L411.7 77.1 L411.3 77 L410.9 76.9 L410.5 76.8 L410.1 76.7 L409.7 76.5 L409.3 76.4 L409 76.4 L408.6 76.3 L408.2 76.2 L407.8 76.1 L407.4 76.1 L407 76.2 L406.6 76.4 L406.2 76.7 L405.8 77.1 L405.4 77.5 L405.1 77.9 L404.7 78.3 L404.3 78.7 L403.9 79.1 L403.5 79.5 L403.1 79.8 L402.7 80 L402.3 80.1 L401.9 80.2 L401.5 80.1 L401.2 80 L400.8 79.9 L400.4 79.9 L400 79.8 L399.6 79.8 L399.2 79.7 L398.8 79.7 L398.4 79.7 L398 79.7 L397.7 79.7 L397.3 79.7 L396.9 79.8 L396.5 79.8 L396.1 79.9 L395.7 80 L395.3 80.1 L394.9 80.3 L394.5 80.6 L394.1 80.9 L393.8 81.4 L393.4 81.9 L393 82.4 L392.6 83 L392.2 83.7 L391.8 84.4 L391.4 85.1 L391 85.9 L390.6 86.7 L390.2 87.6 L389.9 88.5 L389.5 89.6 L389.1 90.8 L388.7 92.1 L388.3 93.5 L387.9 95 L387.5 96.8 L387.1 98.9 L386.7 101.1 L386.4 103.4 L386 105.7 L385.6 108 L385.2 110.2 L384.8 112.2 L384.4 114 L384 115.5 L383.6 116.5 L383.2 117.2 L382.8 117.6 L382.5 117.8 L382.1 118 L381.7 118.2 L381.3 118.2 L380.9 118.3 L380.5 118.2 L380.1 118.2 L379.7 118 L379.3 117.9 L378.9 117.7 L378.6 117.4 L378.2 117.1 L377.8 116.7 L377.4 116.1 L377 115.4 L376.6 114.7 L376.2 113.9 L375.8 113 L375.4 112 L375 111.1 L374.7 110.1 L374.3 109.1 L373.9 108.2 L373.5 107.3 L373.1 106.4 L372.7 105.5 L372.3 104.8 L371.9 104 L371.5 103.3 L371.2 102.6 L370.8 101.9 L370.4 101.3 L370 100.6 L369.6 99.9 L369.2 99.2 L368.8 98.5 L368.4 97.7 L368 97 L367.6 96.2 L367.3 95.4 L366.9 94.5 L366.5 93.7 L366.1 92.7 L365.7 91.8 L365.3 90.7 L364.9 89.5 L364.5 88.2 L364.1 87 L363.7 85.7 L363.4 84.4 L363 83.2 L362.6 82.1 L362.2 81.1 L361.8 80.3 L361.4 79.4 L361 78.6 L360.6 77.6 L360.2 76.6 L359.9 75.7 L359.5 74.7 L359.1 73.7 L358.7 72.7 L358.3 71.8 L357.9 71 L357.5 70.2 L357.1 69.5 L356.7 68.9 L356.3 68.2 L356 67.4 L355.6 66.7 L355.2 66 L354.8 65.5 L354.4 65 L354 64.6 L353.6 64.5 L353.2 64.5 L352.8 64.5 L352.4 64.5 L352.1 64.5 L351.7 64.5 L351.3 64.6 L350.9 64.6 L350.5 64.6 L350.1 64.7 L349.7 64.7 L349.3 64.8 L348.9 64.9 L348.6 64.9 L348.2 65 L347.8 65.1 L347.4 65.2 L347 65.3 L346.6 65.4 L346.2 65.5 L345.8 65.6 L345.4 65.8 L345 65.9 L344.7 66 L344.3 66.1 L343.9 66.1 L343.5 66.2 L343.1 66.3 L342.7 66.4 L342.3 66.5 L341.9 66.6 L341.5 66.7 L341.1 66.8 L340.8 66.9 L340.4 67 L340 67.1 L339.6 67.2 L339.2 67.4 L338.8 67.5 L338.4 67.7 L338 67.8 L337.6 68 L337.2 68.1 L336.9 68.3 L336.5 68.5 L336.1 68.7 L335.7 68.9 L335.3 69.1 L334.9 69.4 L334.5 69.6 L334.1 69.9 L333.7 70.1 L333.4 70.4 L333 70.6 L332.6 70.9 L332.2 71.2 L331.8 71.4 L331.4 71.7 L331 71.9 L330.6 72.2 L330.2 72.4 L329.8 72.7 L329.5 72.9 L329.1 73.1 L328.7 73.2 L328.3 73.4 L327.9 73.6 L327.5 73.7 L327.1 73.8 L326.7 73.9 L326.3 73.9 L325.9 74 L325.6 74 L325.2 74.1 L324.8 74.1 L324.4 74.1 L324 74.2 L323.6 74.2 L323.2 74.2 L322.8 74.3 L322.4 74.3 L322.1 74.3 L321.7 74.3 L321.3 74.4 L320.9 74.4 L320.5 74.4 L320.1 74.4 L319.7 74.4 L319.3 74.5 L318.9 74.5 L318.5 74.5 L318.2 74.5 L317.8 74.6 L317.4 74.6 L317 74.6 L316.6 74.6 L316.2 74.7 L315.8 74.7 L315.4 74.7 L315 74.8 L314.6 74.8 L314.3 74.8 L313.9 74.8 L313.5 74.9 L313.1 74.9 L312.7 74.9 L312.3 74.9 L311.9 75 L311.5 75 L311.1 75 L310.7 75 L310.4 75.1 L310 75.1 Z" fill="#cfcfcf" stroke="none"/>
<path d="M310 73.4 L310.4 73.3 L310.7 73.3 L311.1 73.3 L311.5 73.3 L311.9 73.2 L312.3 73.2 L312.7 73.2 L313.1 73.2 L313.5 73.1 L313.9 73.1 L314.3 73.1 L314.6 73 L315 73 L315.4 73 L315.8 72.9 L316.2 72.9 L316.6 72.9 L317 72.9 L317.4 72.8 L317.8 72.8 L318.2 72.8 L318.5 72.7 L318.9 72.7 L319.3 72.7 L319.7 72.6 L320.1 72.6 L320.5 72.6 L320.9 72.6 L321.3 72.5 L321.7 72.5 L322.1 72.5 L322.4 72.4 L322.8 72.4 L323.2 72.4 L323.6 72.3 L324 72.3 L324.4 72.2 L324.8 72.2 L325.2 72.1 L325.6 72.1 L325.9 72 L326.3 72 L326.7 71.9 L327.1 71.8 L327.5 71.7 L327.9 71.6 L328.3 71.4 L328.7 71.2 L329.1 71 L329.5 70.8 L329.8 70.6 L330.2 70.4 L330.6 70.1 L331 69.8 L331.4 69.6 L331.8 69.3 L332.2 69 L332.6 68.7 L333 68.5 L333.4 68.2 L333.7 67.9 L334.1 67.6 L334.5 67.4 L334.9 67.1 L335.3 66.8 L335.7 66.6 L336.1 66.4 L336.5 66.2 L336.9 65.9 L337.2 65.7 L337.6 65.5 L338 65.3 L338.4 65.1 L338.8 64.9 L339.2 64.7 L339.6 64.5 L340 64.3 L340.4 64.1 L340.8 63.9 L341.1 63.7 L341.5 63.5 L341.9 63.3 L342.3 63.1 L342.7 62.9 L343.1 62.7 L343.5 62.5 L343.9 62.4 L344.3 62.2 L344.7 62 L345 61.8 L345.4 61.6 L345.8 61.4 L346.2 61.2 L346.6 61 L347 60.8 L347.4 60.6 L347.8 60.4 L348.2 60.2 L348.6 60.1 L348.9 59.9 L349.3 59.7 L349.7 59.6 L350.1 59.4 L350.5 59.3 L350.9 59.2 L351.3 59 L351.7 58.9 L352.1 58.9 L352.4 58.8 L352.8 58.8 L353.2 58.7 L353.6 58.7 L354 58.9 L354.4 59.3 L354.8 59.9 L355.2 60.5 L355.6 61.3 L356 62.2 L356.3 63.1 L356.7 63.9 L357.1 64.7 L357.5 65.6 L357.9 66.5 L358.3 67.5 L358.7 68.6 L359.1 69.7 L359.5 70.8 L359.9 71.9 L360.2 73 L360.6 74.1 L361 75.1 L361.4 76 L361.8 76.8 L362.2 77.6 L362.6 78.3 L363 79 L363.4 79.7 L363.7 80.4 L364.1 81.1 L364.5 81.7 L364.9 82.3 L365.3 82.9 L365.7 83.4 L366.1 84 L366.5 84.5 L366.9 85 L367.3 85.5 L367.6 85.9 L368 86.3 L368.4 86.7 L368.8 87.1 L369.2 87.5 L369.6 87.8 L370 88.2 L370.4 88.5 L370.8 88.9 L371.2 89.2 L371.5 89.5 L371.9 89.9 L372.3 90.3 L372.7 90.7 L373.1 91.1 L373.5 91.5 L373.9 91.9 L374.3 92.4 L374.7 92.9 L375 93.4 L375.4 93.9 L375.8 94.4 L376.2 94.9 L376.6 95.4 L377 95.9 L377.4 96.3 L377.8 96.7 L378.2 97 L378.6 97.3 L378.9 97.6 L379.3 97.9 L379.7 98.2 L380.1 98.5 L380.5 98.8 L380.9 99 L381.3 99.2 L381.7 99.4 L382.1 99.6 L382.5 99.7 L382.8 99.8 L383.2 99.7 L383.6 99.4 L384 98.7 L384.4 97.7 L384.8 96.6 L385.2 95.2 L385.6 93.8 L386 92.3 L386.4 90.8 L386.7 89.3 L387.1 88 L387.5 86.8 L387.9 85.8 L388.3 85 L388.7 84.4 L389.1 83.7 L389.5 83.1 L389.9 82.4 L390.2 81.8 L390.6 81.2 L391 80.6 L391.4 80.1 L391.8 79.5 L392.2 79 L392.6 78.6 L393 78.2 L393.4 77.8 L393.8 77.5 L394.1 77.2 L394.5 77 L394.9 76.9 L395.3 76.8 L395.7 76.8 L396.1 76.8 L396.5 76.8 L396.9 76.8 L397.3 76.8 L397.7 76.8 L398 76.8 L398.4 76.8 L398.8 76.8 L399.2 76.8 L399.6 76.8 L400 76.8 L400.4 76.8 L400.8 76.8 L401.2 76.8 L401.5 76.8 L401.9 76.8 L402.3 76.6 L402.7 76.4 L403.1 76.1 L403.5 75.7 L403.9 75.2 L404.3 74.7 L404.7 74.1 L405.1 73.6 L405.4 73.1 L405.8 72.6 L406.2 72.1 L406.6 71.7 L407 71.4 L407.4 71.2 L407.8 71.1 L408.2 71.1 L408.6 71.1 L409 71.1 L409.3 71.1 L409.7 71.1 L410.1 71.1 L410.5 71.1 L410.9 71.1 L411.3 71.1 L411.7 71.1 L412.1 71.1 L412.5 71.1 L412.9 71 L413.2 70.9 L413.6 70.6 L414 70.2 L414.4 69.7 L414.8 69.2 L415.2 68.6 L415.6 68.1 L416 67.6 L416.4 67.1 L416.7 66.7 L417.1 66.4 L417.5 66.2 L417.9 66.2 L418.3 66.3 L418.7 66.4 L419.1 66.7 L419.5 67 L419.9 67.3 L420.3 67.7 L420.6 68.1 L421 68.5 L421.4 68.8 L421.8 69.2 L422.2 69.5 L422.6 69.7 L423 70 L423.4 70.2 L423.8 70.4 L424.2 70.6 L424.5 70.8 L424.9 71 L425.3 71.2 L425.7 71.4 L426.1 71.6 L426.5 71.8 L426.9 72 L427.3 72.1 L427.7 72.3 L428 72.5 L428.4 72.7 L428.8 72.9 L429.2 73.1 L429.6 73.3 L430 73.5 L430.4 73.8 L430.8 74.1 L431.2 74.4 L431.6 74.6 L431.9 74.9 L432.3 75.1 L432.7 75.3 L433.1 75.4 L433.5 75.4 L433.9 75.3 L434.3 75.1 L434.7 74.9 L435.1 74.6 L435.5 74.2 L435.8 73.8 L436.2 73.4 L436.6 73 L437 72.5 L437.4 72.1 L437.8 71.7 L438.2 71.4 L438.6 71 L439 70.7 L439.4 70.3 L439.7 69.9 L440.1 69.5 L440.5 69.1 L440.9 68.7 L441.3 68.3 L441.7 67.9 L442.1 67.6 L442.5 67.2 L442.9 66.9 L443.2 66.7 L443.6 66.5 L444 66.3 L444.4 66.2 L444.8 66.2 L445.2 66.2 L445.6 66.2 L446 66.3 L446.4 66.4 L446.8 66.5 L447.1 66.6 L447.5 66.7 L447.9 66.9 L448.3 67 L448.7 67.2 L449.1 67.3 L449.5 67.5 L449.9 67.7 L450.3 67.8 L450.7 68 L451 68.1 L451.4 68.3 L451.8 68.4 L452.2 68.6 L452.6 68.7 L453 68.8 L453.4 69 L453.8 69.2 L454.2 69.3 L454.5 69.5 L454.9 69.6 L455.3 69.8 L455.7 69.9 L456.1 70.1 L456.5 70.2 L456.9 70.4 L457.3 70.5 L457.7 70.7 L458.1 70.8 L458.4 70.9 L458.8 71 L459.2 71.1 L459.6 71.1 L460 71.2 L460.4 71.3 L460.8 71.4 L461.2 71.4 L461.6 71.5 L462 71.6 L462.3 71.6 L462.7 71.7 L463.1 71.7 L463.5 71.8 L463.9 71.8 L464.3 71.9 L464.7 71.9 L465.1 71.9 L465.5 71.9" fill="none" stroke="#9a9a9a" stroke-width="1.2" stroke-linejoin="round" />
<path d="M310 76.2 L310.3 76.1 L310.6 76.1 L310.9 76 L311.2 75.9 L311.5 75.8 L311.8 75.7 L312.1 75.6 L312.5 75.5 L312.8 75.4 L313.1 75.3 L313.4 75.3 L313.7 75.3 L314 75.3 L314.3 75.3 L314.6 75.3 L314.9 75.3 L315.2 75.3 L315.6 75.2 L315.9 75.1 L316.2 75 L316.5 74.9 L316.8 74.8 L317.1 74.7 L317.4 74.6 L317.7 74.5 L318 74.5 L318.4 74.6 L318.7 74.6 L319 74.7 L319.3 74.8 L319.6 74.9 L319.9 75 L320.2 75.1 L320.5 75.2 L320.8 75.2 L321.2 75.2 L321.5 75.2 L321.8 75.1 L322.1 74.9 L322.4 74.8 L322.7 74.7 L323 74.6 L323.3 74.5 L323.6 74.4 L323.9 74.4 L324.3 74.4 L324.6 74.4 L324.9 74.4 L325.2 74.4 L325.5 74.4 L325.8 74.4 L326.1 74.4 L326.4 74.4 L326.7 74.5 L327.1 74.5 L327.4 74.6 L327.7 74.8 L328 74.9 L328.3 75.1 L328.6 75.3 L328.9 75.4 L329.2 75.4 L329.5 75.4 L329.8 75.2 L330.2 75.1 L330.5 74.9 L330.8 74.6 L331.1 74.4 L331.4 74.2 L331.7 74.1 L332 74 L332.3 73.9 L332.6 73.9 L333 73.9 L333.3 73.9 L333.6 73.9 L333.9 73.8 L334.2 73.8 L334.5 73.8 L334.8 73.7 L335.1 73.7 L335.4 73.7 L335.7 73.7 L336.1 73.7 L336.4 73.7 L336.7 73.7 L337 73.7 L337.3 73.6 L337.6 73.5 L337.9 73.4 L338.2 73.3 L338.5 73.2 L338.9 73.1 L339.2 73 L339.5 73 L339.8 72.9 L340.1 72.9 L340.4 72.9 L340.7 72.9 L341 72.9 L341.3 72.9 L341.6 72.9 L342 72.8 L342.3 72.8 L342.6 72.7 L342.9 72.6 L343.2 72.5 L343.5 72.5 L343.8 72.5 L344.1 72.5 L344.4 72.5 L344.8 72.5 L345.1 72.6 L345.4 72.7 L345.7 72.7 L346 72.8 L346.3 72.8 L346.6 72.8 L346.9 72.8 L347.2 72.8 L347.5 72.7 L347.9 72.7 L348.2 72.8 L348.5 72.8 L348.8 72.8 L349.1 72.8 L349.4 72.9 L349.7 72.9 L350 72.9 L350.3 72.9 L350.7 72.9 L351 72.8 L351.3 72.8 L351.6 72.7 L351.9 72.6 L352.2 72.5 L352.5 72.4 L352.8 72.3 L353.1 72.2 L353.4 72.1 L353.8 72 L354.1 72 L354.4 72.1 L354.7 72.1 L355 72.2 L355.3 72.3 L355.6 72.4 L355.9 72.5 L356.2 72.5 L356.6 72.6 L356.9 72.7 L357.2 72.7 L357.5 72.8 L357.8 72.8 L358.1 72.8 L358.4 72.8 L358.7 72.8 L359 72.9 L359.3 73 L359.7 73.1 L360 73.2 L360.3 73.4 L360.6 73.6 L360.9 73.8 L361.2 74 L361.5 74.1 L361.8 74.2 L362.1 74.1 L362.5 74 L362.8 73.8 L363.1 73.6 L363.4 73.3 L363.7 73.1 L364 72.9 L364.3 72.8 L364.6 72.7 L364.9 72.7 L365.3 72.7 L365.6 72.7 L365.9 72.7 L366.2 72.7 L366.5 72.7 L366.8 72.6 L367.1 72.7 L367.4 72.7 L367.7 72.8 L368 72.8 L368.4 72.9 L368.7 72.9 L369 73 L369.3 73 L369.6 72.9 L369.9 72.9 L370.2 72.8 L370.5 72.7 L370.8 72.7 L371.2 72.7 L371.5 72.7 L371.8 72.8 L372.1 72.9 L372.4 73.1 L372.7 73.2 L373 73.3 L373.3 73.4 L373.6 73.4 L373.9 73.3 L374.3 73.3 L374.6 73.2 L374.9 73.1 L375.2 73.1 L375.5 73.1 L375.8 73.2 L376.1 73.3 L376.4 73.5 L376.7 73.6 L377.1 73.8 L377.4 73.9 L377.7 74 L378 74.1 L378.3 74.1 L378.6 74.1 L378.9 74.1 L379.2 74.1 L379.5 74.1 L379.8 74 L380.2 74 L380.5 73.9 L380.8 73.9 L381.1 73.9 L381.4 73.8 L381.7 73.8 L382 73.8 L382.3 73.8 L382.6 73.8 L383 73.9 L383.3 73.9 L383.6 74 L383.9 74 L384.2 74.1 L384.5 74.1 L384.8 74.1 L385.1 74.1 L385.4 74 L385.7 73.9 L386.1 73.8 L386.4 73.7 L386.7 73.5 L387 73.4 L387.3 73.4 L387.6 73.3 L387.9 73.3 L388.2 73.3 L388.5 73.3 L388.9 73.4 L389.2 73.4 L389.5 73.4 L389.8 73.4 L390.1 73.5 L390.4 73.5 L390.7 73.6 L391 73.7 L391.3 73.8 L391.6 73.9 L392 74 L392.3 74.1 L392.6 74.1 L392.9 74.1 L393.2 74.1 L393.5 74.1 L393.8 74.1 L394.1 74.1 L394.4 74.1 L394.8 74.2 L395.1 74.2 L395.4 74.3 L395.7 74.4 L396 74.4 L396.3 74.4 L396.6 74.4 L396.9 74.4 L397.2 74.3 L397.5 74.3 L397.9 74.2 L398.2 74.2 L398.5 74.3 L398.8 74.4 L399.1 74.6 L399.4 74.9 L399.7 75.1 L400 75.4 L400.3 75.7 L400.7 76 L401 76.3 L401.3 76.5 L401.6 76.6 L401.9 76.7 L402.2 76.7 L402.5 76.7 L402.8 76.7 L403.1 76.6 L403.4 76.6 L403.8 76.5 L404.1 76.4 L404.4 76.3 L404.7 76.2 L405 76.1 L405.3 76 L405.6 76 L405.9 76 L406.2 76.1 L406.6 76.1 L406.9 76.3 L407.2 76.4 L407.5 76.5 L407.8 76.6 L408.1 76.6 L408.4 76.6 L408.7 76.5 L409 76.4 L409.4 76.2 L409.7 76 L410 75.8 L410.3 75.7 L410.6 75.5 L410.9 75.4 L411.2 75.3 L411.5 75.3 L411.8 75.3 L412.1 75.2 L412.5 75.2 L412.8 75.2 L413.1 75.2 L413.4 75.2 L413.7 75.3 L414 75.3 L414.3 75.4 L414.6 75.5 L414.9 75.6 L415.3 75.7 L415.6 75.7 L415.9 75.7 L416.2 75.7 L416.5 75.7 L416.8 75.7 L417.1 75.6 L417.4 75.5 L417.7 75.3 L418 75.2 L418.4 75.2 L418.7 75.1 L419 75.1 L419.3 75.1 L419.6 75.1 L419.9 75.1 L420.2 75.1 L420.5 75.1 L420.8 75.1 L421.2 75.1 L421.5 75.1 L421.8 75.1 L422.1 75.1 L422.4 75.1 L422.7 75.2 L423 75.3 L423.3 75.4 L423.6 75.5 L423.9 75.5 L424.3 75.6 L424.6 75.6 L424.9 75.7 L425.2 75.7 L425.5 75.7 L425.8 75.8 L426.1 75.8 L426.4 75.8 L426.7 74.1 L427.1 74.2 L427.4 74.2 L427.7 74.3 L428 74.4 L428.3 74.5 L428.6 74.7 L428.9 74.9 L429.2 75.2 L429.5 75.4 L429.8 75.5 L430.2 75.7 L430.5 75.8 L430.8 75.9 L431.1 76 L431.4 76.1 L431.7 76.2 L432 76.3 L432.3 76.3 L432.6 76.3 L433 76.2 L433.3 76.1 L433.6 76 L433.9 75.8 L434.2 75.6 L434.5 75.5 L434.8 75.3 L435.1 75 L435.4 74.8 L435.7 74.5 L436.1 74.2 L436.4 73.8 L436.7 73.5 L437 73.1 L437.3 72.8 L437.6 72.4 L437.9 72.1 L438.2 71.7 L438.5 71.4 L438.9 71 L439.2 70.7 L439.5 70.3 L439.8 71.7 L440.1 71.4 L440.4 71.1 L440.7 70.8 L441 70.6 L441.3 70.4 L441.6 70.2 L442 70 L442.3 69.9 L442.6 69.7 L442.9 69.6 L443.2 69.6 L443.5 69.5 L443.8 69.5 L444.1 69.5 L444.4 69.5 L444.8 69.6 L445.1 69.6 L445.4 69.7 L445.7 69.7 L446 69.8 L446.3 69.8 L446.6 69.9 L446.9 69.9 L447.2 69.9 L447.6 70 L447.9 70 L448.2 70 L448.5 70.1 L448.8 70.2 L449.1 70.3 L449.4 70.5 L449.7 70.7 L450 70.9 L450.3 71.2 L450.7 71.4 L451 71.7 L451.3 72 L451.6 72.3 L451.9 72.5 L452.2 72.7 L452.5 72.9 L452.8 73.1 L453.1 73.3 L453.5 73.4 L453.8 73.5 L454.1 73.5 L454.4 73.5 L454.7 73.4 L455 73.3 L455.3 73.2 L455.6 73.1 L455.9 73 L456.2 73 L456.6 72.9 L456.9 72.9 L457.2 72.8 L457.5 72.8 L457.8 72.7 L458.1 72.6 L458.4 72.5 L458.7 72.4 L459 72.2 L459.4 72.1 L459.7 71.9 L460 71.7 L460.3 71.5 L460.6 71.3 L460.9 71.2 L461.2 71.1 L461.5 71.1 L461.8 71.1 L462.1 71.1 L462.5 71.1 L462.8 71.2 L463.1 71.3 L463.4 71.4 L463.7 71.5 L464 71.6 L464.3 71.6 L464.6 71.6 L464.9 71.6 L464.9 72.7 L464.6 72.8 L464.3 72.8 L464 72.7 L463.7 72.7 L463.4 72.6 L463.1 72.5 L462.8 72.4 L462.5 72.3 L462.1 72.2 L461.8 72.2 L461.5 72.2 L461.2 72.3 L460.9 72.4 L460.6 72.5 L460.3 72.6 L460 72.8 L459.7 73 L459.4 73.2 L459 73.4 L458.7 73.5 L458.4 73.7 L458.1 73.8 L457.8 73.9 L457.5 73.9 L457.2 74 L456.9 74 L456.6 74.1 L456.2 74.1 L455.9 74.2 L455.6 74.3 L455.3 74.4 L455 74.5 L454.7 74.6 L454.4 74.6 L454.1 74.6 L453.8 74.6 L453.5 74.5 L453.1 74.4 L452.8 74.3 L452.5 74.1 L452.2 73.9 L451.9 73.6 L451.6 73.4 L451.3 73.1 L451 72.9 L450.7 72.6 L450.3 72.3 L450 72.1 L449.7 71.8 L449.4 71.6 L449.1 71.5 L448.8 71.3 L448.5 71.2 L448.2 71.2 L447.9 71.1 L447.6 71.1 L447.2 71.1 L446.9 71.1 L446.6 71 L446.3 71 L446 70.9 L445.7 70.9 L445.4 70.8 L445.1 70.8 L444.8 70.7 L444.4 70.7 L444.1 70.7 L443.8 70.7 L443.5 70.7 L443.2 70.7 L442.9 70.8 L442.6 70.9 L442.3 71 L442 71.2 L441.6 71.4 L441.3 71.6 L441 71.8 L440.7 72 L440.4 72.3 L440.1 72.6 L439.8 72.9 L439.5 74.9 L439.2 75.3 L438.9 75.6 L438.5 76 L438.2 76.3 L437.9 76.7 L437.6 77 L437.3 77.4 L437 77.7 L436.7 78 L436.4 78.4 L436.1 78.7 L435.7 79.1 L435.4 79.4 L435.1 79.6 L434.8 79.9 L434.5 80.1 L434.2 80.2 L433.9 80.4 L433.6 80.6 L433.3 80.7 L433 80.8 L432.6 80.9 L432.3 80.9 L432 80.9 L431.7 80.8 L431.4 80.7 L431.1 80.6 L430.8 80.5 L430.5 80.4 L430.2 80.3 L429.8 80.1 L429.5 79.9 L429.2 79.8 L428.9 79.5 L428.6 79.3 L428.3 79.1 L428 79 L427.7 78.9 L427.4 78.8 L427.1 78.7 L426.7 78.7 L426.4 77 L426.1 76.9 L425.8 76.9 L425.5 76.9 L425.2 76.8 L424.9 76.8 L424.6 76.8 L424.3 76.7 L423.9 76.7 L423.6 76.6 L423.3 76.6 L423 76.5 L422.7 76.4 L422.4 76.3 L422.1 76.2 L421.8 76.2 L421.5 76.2 L421.2 76.2 L420.8 76.2 L420.5 76.3 L420.2 76.3 L419.9 76.3 L419.6 76.3 L419.3 76.2 L419 76.2 L418.7 76.3 L418.4 76.3 L418 76.4 L417.7 76.5 L417.4 76.6 L417.1 76.7 L416.8 76.8 L416.5 76.9 L416.2 76.9 L415.9 76.9 L415.6 76.9 L415.3 76.8 L414.9 76.7 L414.6 76.6 L414.3 76.6 L414 76.5 L413.7 76.4 L413.4 76.4 L413.1 76.3 L412.8 76.3 L412.5 76.3 L412.1 76.4 L411.8 76.4 L411.5 76.4 L411.2 76.5 L410.9 76.6 L410.6 76.7 L410.3 76.8 L410 77 L409.7 77.2 L409.4 77.4 L409 77.5 L408.7 77.7 L408.4 77.8 L408.1 77.8 L407.8 77.7 L407.5 77.7 L407.2 77.5 L406.9 77.4 L406.6 77.3 L406.2 77.2 L405.9 77.1 L405.6 77.1 L405.3 77.2 L405 77.2 L404.7 77.3 L404.4 77.4 L404.1 77.5 L403.8 77.6 L403.4 77.7 L403.1 77.8 L402.8 77.8 L402.5 77.9 L402.2 77.9 L401.9 77.8 L401.6 77.7 L401.3 77.6 L401 77.4 L400.7 77.2 L400.3 76.9 L400 76.6 L399.7 76.3 L399.4 76 L399.1 75.8 L398.8 75.6 L398.5 75.5 L398.2 75.4 L397.9 75.4 L397.5 75.4 L397.2 75.5 L396.9 75.5 L396.6 75.6 L396.3 75.6 L396 75.5 L395.7 75.5 L395.4 75.4 L395.1 75.4 L394.8 75.3 L394.4 75.3 L394.1 75.3 L393.8 75.3 L393.5 75.3 L393.2 75.3 L392.9 75.3 L392.6 75.3 L392.3 75.2 L392 75.1 L391.6 75 L391.3 74.9 L391 74.8 L390.7 74.8 L390.4 74.7 L390.1 74.6 L389.8 74.6 L389.5 74.6 L389.2 74.5 L388.9 74.5 L388.5 74.5 L388.2 74.5 L387.9 74.5 L387.6 74.5 L387.3 74.5 L387 74.6 L386.7 74.7 L386.4 74.8 L386.1 74.9 L385.7 75.1 L385.4 75.2 L385.1 75.2 L384.8 75.3 L384.5 75.3 L384.2 75.2 L383.9 75.2 L383.6 75.1 L383.3 75.1 L383 75 L382.6 75 L382.3 75 L382 74.9 L381.7 74.9 L381.4 75 L381.1 75 L380.8 75 L380.5 75.1 L380.2 75.1 L379.8 75.2 L379.5 75.2 L379.2 75.2 L378.9 75.3 L378.6 75.3 L378.3 75.3 L378 75.2 L377.7 75.1 L377.4 75 L377.1 74.9 L376.7 74.8 L376.4 74.6 L376.1 74.5 L375.8 74.3 L375.5 74.3 L375.2 74.2 L374.9 74.3 L374.6 74.3 L374.3 74.4 L373.9 74.5 L373.6 74.5 L373.3 74.5 L373 74.5 L372.7 74.4 L372.4 74.2 L372.1 74.1 L371.8 73.9 L371.5 73.8 L371.2 73.8 L370.8 73.8 L370.5 73.9 L370.2 73.9 L369.9 74 L369.6 74.1 L369.3 74.1 L369 74.1 L368.7 74.1 L368.4 74 L368 74 L367.7 73.9 L367.4 73.8 L367.1 73.8 L366.8 73.8 L366.5 73.8 L366.2 73.8 L365.9 73.8 L365.6 73.8 L365.3 73.8 L364.9 73.8 L364.6 73.9 L364.3 74 L364 74.1 L363.7 74.3 L363.4 74.5 L363.1 74.7 L362.8 75 L362.5 75.2 L362.1 75.3 L361.8 75.3 L361.5 75.3 L361.2 75.2 L360.9 75 L360.6 74.8 L360.3 74.6 L360 74.4 L359.7 74.2 L359.3 74.1 L359 74 L358.7 74 L358.4 74 L358.1 74 L357.8 73.9 L357.5 73.9 L357.2 73.9 L356.9 73.8 L356.6 73.8 L356.2 73.7 L355.9 73.6 L355.6 73.5 L355.3 73.4 L355 73.4 L354.7 73.3 L354.4 73.2 L354.1 73.2 L353.8 73.2 L353.4 73.2 L353.1 73.3 L352.8 73.4 L352.5 73.5 L352.2 73.6 L351.9 73.7 L351.6 73.8 L351.3 73.9 L351 74 L350.7 74 L350.3 74.1 L350 74.1 L349.7 74.1 L349.4 74 L349.1 74 L348.8 74 L348.5 73.9 L348.2 73.9 L347.9 73.9 L347.5 73.9 L347.2 73.9 L346.9 73.9 L346.6 73.9 L346.3 73.9 L346 73.9 L345.7 73.9 L345.4 73.8 L345.1 73.7 L344.8 73.7 L344.4 73.6 L344.1 73.6 L343.8 73.6 L343.5 73.6 L343.2 73.7 L342.9 73.8 L342.6 73.8 L342.3 73.9 L342 74 L341.6 74 L341.3 74.1 L341 74.1 L340.7 74.1 L340.4 74.1 L340.1 74.1 L339.8 74.1 L339.5 74.1 L339.2 74.2 L338.9 74.2 L338.5 74.3 L338.2 74.4 L337.9 74.6 L337.6 74.7 L337.3 74.8 L337 74.8 L336.7 74.9 L336.4 74.9 L336.1 74.9 L335.7 74.9 L335.4 74.9 L335.1 74.9 L334.8 74.9 L334.5 74.9 L334.2 74.9 L333.9 75 L333.6 75 L333.3 75 L333 75 L332.6 75.1 L332.3 75.1 L332 75.1 L331.7 75.2 L331.4 75.4 L331.1 75.6 L330.8 75.8 L330.5 76 L330.2 76.2 L329.8 76.4 L329.5 76.5 L329.2 76.5 L328.9 76.5 L328.6 76.4 L328.3 76.3 L328 76.1 L327.7 75.9 L327.4 75.8 L327.1 75.7 L326.7 75.6 L326.4 75.6 L326.1 75.6 L325.8 75.6 L325.5 75.6 L325.2 75.6 L324.9 75.6 L324.6 75.5 L324.3 75.5 L323.9 75.5 L323.6 75.5 L323.3 75.6 L323 75.7 L322.7 75.8 L322.4 76 L322.1 76.1 L321.8 76.2 L321.5 76.3 L321.2 76.3 L320.8 76.4 L320.5 76.3 L320.2 76.3 L319.9 76.2 L319.6 76.1 L319.3 76 L319 75.9 L318.7 75.8 L318.4 75.7 L318 75.7 L317.7 75.7 L317.4 75.8 L317.1 75.8 L316.8 76 L316.5 76.1 L316.2 76.2 L315.9 76.3 L315.6 76.4 L315.2 76.4 L314.9 76.4 L314.6 76.4 L314.3 76.4 L314 76.4 L313.7 76.4 L313.4 76.4 L313.1 76.5 L312.8 76.6 L312.5 76.6 L312.1 76.8 L311.8 76.9 L311.5 77 L311.2 77.1 L310.9 77.2 L310.6 77.2 L310.3 77.3 L310 77.3 Z" fill="#555" stroke="none"/>
<path d="M310 76.7 L310.3 76.7 L310.6 76.6 L310.9 76.6 L311.2 76.5 L311.5 76.4 L311.8 76.3 L312.1 76.2 L312.5 76.1 L312.8 76 L313.1 75.9 L313.4 75.9 L313.7 75.8 L314 75.8 L314.3 75.8 L314.6 75.9 L314.9 75.9 L315.2 75.8 L315.6 75.8 L315.9 75.7 L316.2 75.6 L316.5 75.5 L316.8 75.4 L317.1 75.3 L317.4 75.2 L317.7 75.1 L318 75.1 L318.4 75.1 L318.7 75.2 L319 75.3 L319.3 75.4 L319.6 75.5 L319.9 75.6 L320.2 75.7 L320.5 75.8 L320.8 75.8 L321.2 75.8 L321.5 75.7 L321.8 75.6 L322.1 75.5 L322.4 75.4 L322.7 75.2 L323 75.1 L323.3 75 L323.6 75 L323.9 74.9 L324.3 74.9 L324.6 75 L324.9 75 L325.2 75 L325.5 75 L325.8 75 L326.1 75 L326.4 75 L326.7 75 L327.1 75.1 L327.4 75.2 L327.7 75.3 L328 75.5 L328.3 75.7 L328.6 75.8 L328.9 75.9 L329.2 76 L329.5 75.9 L329.8 75.8 L330.2 75.7 L330.5 75.4 L330.8 75.2 L331.1 75 L331.4 74.8 L331.7 74.7 L332 74.6 L332.3 74.5 L332.6 74.5 L333 74.5 L333.3 74.5 L333.6 74.4 L333.9 74.4 L334.2 74.4 L334.5 74.3 L334.8 74.3 L335.1 74.3 L335.4 74.3 L335.7 74.3 L336.1 74.3 L336.4 74.3 L336.7 74.3 L337 74.3 L337.3 74.2 L337.6 74.1 L337.9 74 L338.2 73.9 L338.5 73.8 L338.9 73.7 L339.2 73.6 L339.5 73.5 L339.8 73.5 L340.1 73.5 L340.4 73.5 L340.7 73.5 L341 73.5 L341.3 73.5 L341.6 73.4 L342 73.4 L342.3 73.3 L342.6 73.3 L342.9 73.2 L343.2 73.1 L343.5 73.1 L343.8 73 L344.1 73 L344.4 73.1 L344.8 73.1 L345.1 73.2 L345.4 73.2 L345.7 73.3 L346 73.3 L346.3 73.4 L346.6 73.4 L346.9 73.3 L347.2 73.3 L347.5 73.3 L347.9 73.3 L348.2 73.3 L348.5 73.4 L348.8 73.4 L349.1 73.4 L349.4 73.5 L349.7 73.5 L350 73.5 L350.3 73.5 L350.7 73.5 L351 73.4 L351.3 73.3 L351.6 73.3 L351.9 73.2 L352.2 73.1 L352.5 72.9 L352.8 72.8 L353.1 72.7 L353.4 72.7 L353.8 72.6 L354.1 72.6 L354.4 72.6 L354.7 72.7 L355 72.8 L355.3 72.9 L355.6 73 L355.9 73 L356.2 73.1 L356.6 73.2 L356.9 73.2 L357.2 73.3 L357.5 73.3 L357.8 73.4 L358.1 73.4 L358.4 73.4 L358.7 73.4 L359 73.5 L359.3 73.5 L359.7 73.6 L360 73.8 L360.3 74 L360.6 74.2 L360.9 74.4 L361.2 74.6 L361.5 74.7 L361.8 74.8 L362.1 74.7 L362.5 74.6 L362.8 74.4 L363.1 74.2 L363.4 73.9 L363.7 73.7 L364 73.5 L364.3 73.4 L364.6 73.3 L364.9 73.3 L365.3 73.3 L365.6 73.3 L365.9 73.3 L366.2 73.2 L366.5 73.2 L366.8 73.2 L367.1 73.2 L367.4 73.3 L367.7 73.3 L368 73.4 L368.4 73.5 L368.7 73.5 L369 73.5 L369.3 73.5 L369.6 73.5 L369.9 73.4 L370.2 73.4 L370.5 73.3 L370.8 73.2 L371.2 73.2 L371.5 73.3 L371.8 73.4 L372.1 73.5 L372.4 73.7 L372.7 73.8 L373 73.9 L373.3 74 L373.6 74 L373.9 73.9 L374.3 73.8 L374.6 73.8 L374.9 73.7 L375.2 73.7 L375.5 73.7 L375.8 73.8 L376.1 73.9 L376.4 74 L376.7 74.2 L377.1 74.3 L377.4 74.5 L377.7 74.6 L378 74.6 L378.3 74.7 L378.6 74.7 L378.9 74.7 L379.2 74.7 L379.5 74.6 L379.8 74.6 L380.2 74.6 L380.5 74.5 L380.8 74.5 L381.1 74.4 L381.4 74.4 L381.7 74.4 L382 74.4 L382.3 74.4 L382.6 74.4 L383 74.5 L383.3 74.5 L383.6 74.6 L383.9 74.6 L384.2 74.7 L384.5 74.7 L384.8 74.7 L385.1 74.7 L385.4 74.6 L385.7 74.5 L386.1 74.4 L386.4 74.2 L386.7 74.1 L387 74 L387.3 73.9 L387.6 73.9 L387.9 73.9 L388.2 73.9 L388.5 73.9 L388.9 73.9 L389.2 74 L389.5 74 L389.8 74 L390.1 74.1 L390.4 74.1 L390.7 74.2 L391 74.3 L391.3 74.4 L391.6 74.5 L392 74.6 L392.3 74.6 L392.6 74.7 L392.9 74.7 L393.2 74.7 L393.5 74.7 L393.8 74.7 L394.1 74.7 L394.4 74.7 L394.8 74.7 L395.1 74.8 L395.4 74.9 L395.7 74.9 L396 75 L396.3 75 L396.6 75 L396.9 74.9 L397.2 74.9 L397.5 74.8 L397.9 74.8 L398.2 74.8 L398.5 74.9 L398.8 75 L399.1 75.2 L399.4 75.4 L399.7 75.7 L400 76 L400.3 76.3 L400.7 76.6 L401 76.8 L401.3 77 L401.6 77.2 L401.9 77.3 L402.2 77.3 L402.5 77.3 L402.8 77.3 L403.1 77.2 L403.4 77.1 L403.8 77.1 L404.1 77 L404.4 76.8 L404.7 76.7 L405 76.7 L405.3 76.6 L405.6 76.6 L405.9 76.6 L406.2 76.6 L406.6 76.7 L406.9 76.8 L407.2 77 L407.5 77.1 L407.8 77.2 L408.1 77.2 L408.4 77.2 L408.7 77.1 L409 77 L409.4 76.8 L409.7 76.6 L410 76.4 L410.3 76.2 L410.6 76.1 L410.9 76 L411.2 75.9 L411.5 75.9 L411.8 75.8 L412.1 75.8 L412.5 75.8 L412.8 75.8 L413.1 75.8 L413.4 75.8 L413.7 75.8 L414 75.9 L414.3 76 L414.6 76.1 L414.9 76.2 L415.3 76.2 L415.6 76.3 L415.9 76.3 L416.2 76.3 L416.5 76.3 L416.8 76.2 L417.1 76.1 L417.4 76 L417.7 75.9 L418 75.8 L418.4 75.7 L418.7 75.7 L419 75.7 L419.3 75.7 L419.6 75.7 L419.9 75.7 L420.2 75.7 L420.5 75.7 L420.8 75.7 L421.2 75.6 L421.5 75.6 L421.8 75.6 L422.1 75.7 L422.4 75.7 L422.7 75.8 L423 75.9 L423.3 76 L423.6 76.1 L423.9 76.1 L424.3 76.2 L424.6 76.2 L424.9 76.2 L425.2 76.3 L425.5 76.3 L425.8 76.3 L426.1 76.4 L426.4 76.4 L426.7 76.4 L427.1 76.4 L427.4 76.5 L427.7 76.6 L428 76.7 L428.3 76.8 L428.6 77 L428.9 77.2 L429.2 77.5 L429.5 77.7 L429.8 77.8 L430.2 78 L430.5 78.1 L430.8 78.2 L431.1 78.3 L431.4 78.4 L431.7 78.5 L432 78.6 L432.3 78.6 L432.6 78.6 L433 78.5 L433.3 78.4 L433.6 78.3 L433.9 78.1 L434.2 77.9 L434.5 77.8 L434.8 77.6 L435.1 77.3 L435.4 77.1 L435.7 76.8 L436.1 76.5 L436.4 76.1 L436.7 75.7 L437 75.4 L437.3 75.1 L437.6 74.7 L437.9 74.4 L438.2 74 L438.5 73.7 L438.9 73.3 L439.2 73 L439.5 72.6 L439.8 72.3 L440.1 72 L440.4 71.7 L440.7 71.4 L441 71.2 L441.3 71 L441.6 70.8 L442 70.6 L442.3 70.4 L442.6 70.3 L442.9 70.2 L443.2 70.2 L443.5 70.1 L443.8 70.1 L444.1 70.1 L444.4 70.1 L444.8 70.2 L445.1 70.2 L445.4 70.3 L445.7 70.3 L446 70.4 L446.3 70.4 L446.6 70.5 L446.9 70.5 L447.2 70.5 L447.6 70.5 L447.9 70.6 L448.2 70.6 L448.5 70.7 L448.8 70.8 L449.1 70.9 L449.4 71 L449.7 71.2 L450 71.5 L450.3 71.7 L450.7 72 L451 72.3 L451.3 72.6 L451.6 72.8 L451.9 73.1 L452.2 73.3 L452.5 73.5 L452.8 73.7 L453.1 73.8 L453.5 74 L453.8 74 L454.1 74.1 L454.4 74 L454.7 74 L455 73.9 L455.3 73.8 L455.6 73.7 L455.9 73.6 L456.2 73.5 L456.6 73.5 L456.9 73.4 L457.2 73.4 L457.5 73.3 L457.8 73.3 L458.1 73.2 L458.4 73.1 L458.7 73 L459 72.8 L459.4 72.6 L459.7 72.4 L460 72.2 L460.3 72.1 L460.6 71.9 L460.9 71.8 L461.2 71.7 L461.5 71.6 L461.8 71.6 L462.1 71.7 L462.5 71.7 L462.8 71.8 L463.1 71.9 L463.4 72 L463.7 72.1 L464 72.2 L464.3 72.2 L464.6 72.2 L464.9 72.2" fill="none" stroke="#111" stroke-width="1.7" stroke-linejoin="round" />
<line x1="361.8" y1="39" x2="361.8" y2="160.5" stroke="#222" stroke-width="1.3" stroke-dasharray="7.6 8.8"/>
<path d="M310 31 V160.5 H465.5" fill="none" stroke="#2a2a2a" stroke-width="1.3"/>
<line x1="310" y1="160.5" x2="310" y2="157.5" stroke="#2a2a2a" stroke-width="1.3" />
<line x1="335.9" y1="160.5" x2="335.9" y2="157.5" stroke="#2a2a2a" stroke-width="1.3" />
<line x1="361.8" y1="160.5" x2="361.8" y2="157.5" stroke="#2a2a2a" stroke-width="1.3" />
<line x1="387.7" y1="160.5" x2="387.7" y2="157.5" stroke="#2a2a2a" stroke-width="1.3" />
<line x1="413.6" y1="160.5" x2="413.6" y2="157.5" stroke="#2a2a2a" stroke-width="1.3" />
<line x1="439.5" y1="160.5" x2="439.5" y2="157.5" stroke="#2a2a2a" stroke-width="1.3" />
<line x1="465.5" y1="160.5" x2="465.5" y2="157.5" stroke="#2a2a2a" stroke-width="1.3" />
<line x1="310" y1="46.1" x2="313" y2="46.1" stroke="#2a2a2a" stroke-width="1.3" />
<line x1="310" y1="74.8" x2="313" y2="74.8" stroke="#2a2a2a" stroke-width="1.3" />
<line x1="310" y1="103.5" x2="313" y2="103.5" stroke="#2a2a2a" stroke-width="1.3" />
<line x1="310" y1="132.2" x2="313" y2="132.2" stroke="#2a2a2a" stroke-width="1.3" />
<text x="304.5" y="79.8" font-size="15.4" text-anchor="end" fill="#000" textLength="7.9" lengthAdjust="spacingAndGlyphs">0</text>
<text x="304.5" y="137.1" font-size="15.4" text-anchor="end" fill="#000" textLength="24.6" lengthAdjust="spacingAndGlyphs">-0.2</text>
<text x="310" y="176.5" font-size="15.4" text-anchor="middle" fill="#000" textLength="28.5" lengthAdjust="spacingAndGlyphs">-100</text>
<text x="361.8" y="176.5" font-size="15.4" text-anchor="middle" fill="#000" textLength="7.9" lengthAdjust="spacingAndGlyphs">0</text>
<text x="413.6" y="176.5" font-size="15.4" text-anchor="middle" fill="#000" textLength="23.8" lengthAdjust="spacingAndGlyphs">100</text>
<text x="465.5" y="176.5" font-size="15.4" text-anchor="middle" fill="#000" textLength="23.8" lengthAdjust="spacingAndGlyphs">200</text>
<text x="388" y="197.8" font-size="14.7" text-anchor="middle" font-weight="normal" fill="#000" >Time re: stim onset (ms)</text>
<text transform="translate(270 96) rotate(-90)" font-size="14.7" text-anchor="middle" fill="#000">Voltage (mV)</text>
<text x="407" y="122" font-size="12.8" text-anchor="start" font-weight="bold" fill="#111" >No light</text>
<text x="407.5" y="133.6" font-size="12.8" text-anchor="start" font-weight="bold" fill="#999" >Light</text>
<text x="416.4" y="155.9" font-size="10.8" text-anchor="start" font-weight="normal" fill="#222" >Shank 2</text>
<text x="498" y="19.1" font-size="24" text-anchor="start" font-weight="bold" fill="#000" >C</text>
<path d="M543.7 122.9 L565.4 45.9 L587 83.4 L608.7 117 L630.3 128.7 L652 143.5 L673.6 145.5 L673.6 153.9 L652 152.6 L630.3 144.8 L608.7 138.4 L587 122.9 L565.4 102.2 L543.7 133.2 Z" fill="#d0d0d0" stroke="none"/>
<path d="M543.7 128.7 L565.4 73.7 L587 101.5 L608.7 129.3 L630.3 138.4 L652 148.1 L673.6 150" fill="none" stroke="#999" stroke-width="1.3" stroke-linejoin="round" />
<path d="M543.7 147.4 L565.4 121.6 L587 141 L608.7 147.4 L630.3 152.6 L652 155.8 L673.6 155.8 L673.6 157.1 L652 157.1 L630.3 155.2 L608.7 151.3 L587 146.8 L565.4 134.5 L543.7 150 Z" fill="#666" stroke="none"/>
<path d="M543.7 148.7 L565.4 128.7 L587 144.2 L608.7 149.4 L630.3 153.9 L652 156.5 L673.6 156.5" fill="none" stroke="#111" stroke-width="1.5" stroke-linejoin="round" />
<path d="M543.7 31.2 V161.1 H673.6" fill="none" stroke="#2a2a2a" stroke-width="1.3"/>
<line x1="543.7" y1="161.1" x2="543.7" y2="158.1" stroke="#2a2a2a" stroke-width="1.3" />
<line x1="587" y1="161.1" x2="587" y2="158.1" stroke="#2a2a2a" stroke-width="1.3" />
<line x1="630.3" y1="161.1" x2="630.3" y2="158.1" stroke="#2a2a2a" stroke-width="1.3" />
<line x1="673.6" y1="161.1" x2="673.6" y2="158.1" stroke="#2a2a2a" stroke-width="1.3" />
<line x1="543.7" y1="31.7" x2="546.7" y2="31.7" stroke="#2a2a2a" stroke-width="1.3" />
<line x1="543.7" y1="96.3" x2="546.7" y2="96.3" stroke="#2a2a2a" stroke-width="1.3" />
<text x="538.3" y="36.7" font-size="15.4" text-anchor="end" fill="#000" textLength="19.8" lengthAdjust="spacingAndGlyphs">0.2</text>
<text x="538.3" y="101.3" font-size="15.4" text-anchor="end" fill="#000" textLength="19.8" lengthAdjust="spacingAndGlyphs">0.1</text>
<text x="538.3" y="166" font-size="15.4" text-anchor="end" fill="#000" textLength="7.9" lengthAdjust="spacingAndGlyphs">0</text>
<text x="543.7" y="176.5" font-size="15.4" text-anchor="middle" fill="#000" textLength="7.9" lengthAdjust="spacingAndGlyphs">0</text>
<text x="587" y="176.5" font-size="15.4" text-anchor="middle" fill="#000" textLength="15.9" lengthAdjust="spacingAndGlyphs">20</text>
<text x="630.3" y="176.5" font-size="15.4" text-anchor="middle" fill="#000" textLength="15.9" lengthAdjust="spacingAndGlyphs">40</text>
<text x="673.6" y="176.5" font-size="15.4" text-anchor="middle" fill="#000" textLength="15.9" lengthAdjust="spacingAndGlyphs">60</text>
<text x="608" y="197.1" font-size="14.7" text-anchor="middle" font-weight="normal" fill="#000" >Frequency (Hz)</text>
<text transform="translate(508.2 96.5) rotate(-90)" font-size="14.7" text-anchor="middle" fill="#000">Spectral power</text>
<text x="593.1" y="60" font-size="27" text-anchor="middle" font-weight="bold" fill="#111" >*</text>
<text x="624.5" y="63.7" font-size="12.8" text-anchor="start" font-weight="bold" fill="#111" >No light</text>
<text x="624.5" y="76" font-size="12.8" text-anchor="start" font-weight="bold" fill="#999" >Light</text>
<text x="2.6" y="245" font-size="24" text-anchor="start" font-weight="bold" fill="#000" >D</text>
<rect x="96.4" y="252.4" width="78.8" height="5" fill="#999"/>
<path d="M54.8 291 L55.1 290.9 L55.4 290.9 L55.7 290.9 L56 290.9 L56.3 290.8 L56.6 290.7 L57 290.7 L57.3 290.6 L57.6 290.5 L57.9 290.4 L58.2 290.4 L58.5 290.3 L58.8 290.2 L59.1 290.1 L59.4 290 L59.8 289.8 L60.1 289.7 L60.4 289.6 L60.7 289.5 L61 289.4 L61.3 289.2 L61.6 289.1 L61.9 288.9 L62.2 288.7 L62.6 288.5 L62.9 288.3 L63.2 288 L63.5 287.8 L63.8 287.5 L64.1 287.2 L64.4 287 L64.7 286.7 L65.1 286.4 L65.4 286.1 L65.7 285.8 L66 285.5 L66.3 285.2 L66.6 284.9 L66.9 284.6 L67.2 284.4 L67.5 284.1 L67.9 283.8 L68.2 283.6 L68.5 283.3 L68.8 283.1 L69.1 282.9 L69.4 282.7 L69.7 282.5 L70 282.4 L70.4 282.2 L70.7 282 L71 281.8 L71.3 281.6 L71.6 281.4 L71.9 281.2 L72.2 281 L72.5 280.8 L72.8 280.6 L73.2 280.5 L73.5 280.3 L73.8 280.1 L74.1 279.9 L74.4 279.8 L74.7 279.6 L75 279.5 L75.3 279.3 L75.6 279.2 L76 279.1 L76.3 279 L76.6 278.9 L76.9 278.8 L77.2 278.7 L77.5 278.7 L77.8 278.6 L78.1 278.6 L78.5 278.5 L78.8 278.5 L79.1 278.5 L79.4 278.5 L79.7 278.5 L80 278.5 L80.3 278.4 L80.6 278.4 L80.9 278.4 L81.3 278.4 L81.6 278.3 L81.9 278.3 L82.2 278.2 L82.5 278.2 L82.8 278.1 L83.1 278 L83.4 277.9 L83.7 277.7 L84.1 277.5 L84.4 277.3 L84.7 277.1 L85 276.8 L85.3 276.5 L85.6 276.2 L85.9 275.9 L86.2 275.6 L86.6 275.3 L86.9 274.9 L87.2 274.6 L87.5 274.2 L87.8 273.9 L88.1 273.6 L88.4 273.2 L88.7 272.9 L89 272.6 L89.4 272.3 L89.7 271.9 L90 271.6 L90.3 271.3 L90.6 270.9 L90.9 270.6 L91.2 270.2 L91.5 269.9 L91.9 269.5 L92.2 269.1 L92.5 268.8 L92.8 268.4 L93.1 268 L93.4 267.7 L93.7 267.3 L94 266.9 L94.3 266.6 L94.7 266.1 L95 265.7 L95.3 265.2 L95.6 264.7 L95.9 264.2 L96.2 263.7 L96.5 263.2 L96.8 262.8 L97.1 262.4 L97.5 262.1 L97.8 261.9 L98.1 261.8 L98.4 261.8 L98.7 261.8 L99 261.9 L99.3 262.1 L99.6 262.3 L100 262.6 L100.3 262.9 L100.6 263.3 L100.9 263.7 L101.2 264.1 L101.5 264.5 L101.8 265 L102.1 265.5 L102.4 266 L102.8 266.7 L103.1 267.5 L103.4 268.3 L103.7 269.2 L104 270 L104.3 270.9 L104.6 271.7 L104.9 272.6 L105.2 273.5 L105.6 274.3 L105.9 275.2 L106.2 276.1 L106.5 277.1 L106.8 278 L107.1 279 L107.4 280 L107.7 281.1 L108.1 282.2 L108.4 283.3 L108.7 284.4 L109 285.5 L109.3 286.5 L109.6 287.5 L109.9 288.5 L110.2 289.3 L110.5 290.1 L110.9 290.8 L111.2 291.4 L111.5 292 L111.8 292.5 L112.1 293.1 L112.4 293.6 L112.7 294.2 L113 294.9 L113.4 295.6 L113.7 296.3 L114 297.2 L114.3 298.2 L114.6 299.4 L114.9 300.8 L115.2 302.3 L115.5 303.9 L115.8 305.6 L116.2 307.3 L116.5 308.9 L116.8 310.5 L117.1 312.1 L117.4 313.6 L117.7 315.1 L118 316.6 L118.3 318.1 L118.6 319.6 L119 321.1 L119.3 322.5 L119.6 324 L119.9 325.4 L120.2 326.9 L120.5 328.5 L120.8 330.1 L121.1 331.6 L121.5 333.1 L121.8 334.5 L122.1 335.7 L122.4 336.8 L122.7 337.6 L123 338.5 L123.3 339.4 L123.6 340.3 L123.9 341.1 L124.3 341.9 L124.6 342.7 L124.9 343.3 L125.2 343.9 L125.5 344.3 L125.8 344.6 L126.1 344.7 L126.4 344.7 L126.8 344.5 L127.1 344.1 L127.4 343.6 L127.7 343 L128 342.3 L128.3 341.6 L128.6 340.7 L128.9 339.8 L129.2 338.9 L129.6 338 L129.9 337.2 L130.2 336.2 L130.5 335.1 L130.8 333.7 L131.1 332.1 L131.4 330.4 L131.7 328.5 L132 326.6 L132.4 324.7 L132.7 322.9 L133 321.1 L133.3 319.6 L133.6 318.2 L133.9 316.9 L134.2 315.8 L134.5 314.7 L134.9 313.6 L135.2 312.5 L135.5 311.4 L135.8 310.4 L136.1 309.4 L136.4 308.5 L136.7 307.6 L137 306.7 L137.3 305.8 L137.7 304.9 L138 304.1 L138.3 303.2 L138.6 302.4 L138.9 301.5 L139.2 300.7 L139.5 299.8 L139.8 298.9 L140.1 298.1 L140.5 297.2 L140.8 296.4 L141.1 295.6 L141.4 294.8 L141.7 293.9 L142 293.1 L142.3 292.3 L142.6 291.5 L143 290.7 L143.3 289.9 L143.6 289 L143.9 288.2 L144.2 287.4 L144.5 286.6 L144.8 285.8 L145.1 285 L145.4 284.1 L145.8 283.1 L146.1 282.1 L146.4 281 L146.7 279.9 L147 278.8 L147.3 277.8 L147.6 276.7 L147.9 275.7 L148.3 274.8 L148.6 273.9 L148.9 273.1 L149.2 272.5 L149.5 271.9 L149.8 271.5 L150.1 271.3 L150.4 271.2 L150.7 271 L151.1 270.9 L151.4 270.9 L151.7 270.8 L152 270.8 L152.3 270.7 L152.6 270.7 L152.9 270.7 L153.2 270.8 L153.5 270.8 L153.9 270.8 L154.2 270.9 L154.5 270.9 L154.8 271 L155.1 271.1 L155.4 271.2 L155.7 271.3 L156 271.4 L156.4 271.5 L156.7 271.6 L157 271.7 L157.3 271.7 L157.6 271.8 L157.9 271.8 L158.2 271.8 L158.5 271.8 L158.8 271.6 L159.2 271.5 L159.5 271.3 L159.8 271.1 L160.1 270.8 L160.4 270.6 L160.7 270.3 L161 270.1 L161.3 269.8 L161.6 269.6 L162 269.4 L162.3 269.2 L162.6 269.1 L162.9 269 L163.2 269 L163.5 269 L163.8 269.1 L164.1 269.2 L164.5 269.3 L164.8 269.5 L165.1 269.7 L165.4 269.9 L165.7 270.2 L166 270.4 L166.3 270.7 L166.6 271 L166.9 271.3 L167.3 271.6 L167.6 272 L167.9 272.3 L168.2 272.6 L168.5 273 L168.8 273.3 L169.1 273.6 L169.4 273.9 L169.8 274.2 L170.1 274.5 L170.4 274.8 L170.7 275.2 L171 275.5 L171.3 275.8 L171.6 276.1 L171.9 276.5 L172.2 276.8 L172.6 277.2 L172.9 277.5 L173.2 277.9 L173.5 278.2 L173.8 278.5 L174.1 278.9 L174.4 279.2 L174.7 279.5 L175 279.9 L175.4 280.2 L175.7 280.5 L176 280.8 L176.3 281.1 L176.6 281.4 L176.9 281.8 L177.2 282.2 L177.5 282.6 L177.9 283 L178.2 283.4 L178.5 283.8 L178.8 284.2 L179.1 284.6 L179.4 285 L179.7 285.4 L180 285.7 L180.3 286 L180.7 286.2 L181 286.4 L181.3 286.5 L181.6 286.6 L181.9 286.6 L182.2 286.5 L182.5 286.3 L182.8 286 L183.2 285.6 L183.5 285.2 L183.8 284.7 L184.1 284.2 L184.4 283.6 L184.7 283 L185 282.4 L185.3 281.8 L185.6 281.3 L186 280.7 L186.3 280.3 L186.6 279.8 L186.9 279.4 L187.2 279.1 L187.5 278.9 L187.8 278.8 L188.1 278.8 L188.4 278.9 L188.8 279.1 L189.1 279.3 L189.4 279.6 L189.7 280 L190 280.4 L190.3 280.8 L190.6 281.2 L190.9 281.7 L191.3 282.2 L191.6 282.6 L191.9 283.1 L192.2 283.5 L192.5 283.8 L192.8 284.2 L193.1 284.5 L193.4 284.7 L193.7 284.9 L194.1 285 L194.4 285.2 L194.7 285.4 L195 285.5 L195.3 285.7 L195.6 285.8 L195.9 285.9 L196.2 286.1 L196.5 286.2 L196.9 286.3 L197.2 286.4 L197.5 286.5 L197.8 286.6 L198.1 286.6 L198.4 286.7 L198.7 286.8 L199 286.8 L199.4 286.9 L199.7 287 L200 287 L200.3 287.1 L200.6 287.2 L200.9 287.2 L201.2 287.3 L201.5 287.3 L201.8 287.4 L202.2 287.5 L202.5 287.5 L202.8 287.6 L203.1 287.7 L203.4 287.7 L203.7 287.8 L204 287.8 L204.3 287.9 L204.7 288 L205 288 L205.3 288.1 L205.6 288.1 L205.9 288.2 L206.2 288.3 L206.5 288.3 L206.8 288.4 L207.1 288.4 L207.5 288.5 L207.8 288.5 L208.1 288.6 L208.4 288.6 L208.7 288.7 L209 288.7 L209.3 288.8 L209.6 288.8 L209.9 288.9 L210.3 288.9 L210.3 292.4 L209.9 292.4 L209.6 292.5 L209.3 292.5 L209 292.6 L208.7 292.6 L208.4 292.6 L208.1 292.7 L207.8 292.7 L207.5 292.7 L207.1 292.7 L206.8 292.8 L206.5 292.8 L206.2 292.8 L205.9 292.8 L205.6 292.8 L205.3 292.8 L205 292.8 L204.7 292.8 L204.3 292.8 L204 292.8 L203.7 292.8 L203.4 292.8 L203.1 292.8 L202.8 292.8 L202.5 292.8 L202.2 292.8 L201.8 292.8 L201.5 292.8 L201.2 292.8 L200.9 292.7 L200.6 292.7 L200.3 292.7 L200 292.7 L199.7 292.6 L199.4 292.6 L199 292.6 L198.7 292.6 L198.4 292.5 L198.1 292.5 L197.8 292.5 L197.5 292.4 L197.2 292.4 L196.9 292.3 L196.5 292.2 L196.2 292.1 L195.9 292 L195.6 291.9 L195.3 291.8 L195 291.7 L194.7 291.5 L194.4 291.4 L194.1 291.2 L193.7 291.1 L193.4 290.9 L193.1 290.7 L192.8 290.4 L192.5 290.1 L192.2 289.8 L191.9 289.3 L191.6 288.9 L191.3 288.5 L190.9 288 L190.6 287.6 L190.3 287.1 L190 286.7 L189.7 286.3 L189.4 286 L189.1 285.7 L188.8 285.4 L188.4 285.3 L188.1 285.2 L187.8 285.2 L187.5 285.3 L187.2 285.5 L186.9 285.8 L186.6 286.1 L186.3 286.5 L186 287 L185.6 287.5 L185.3 288 L185 288.5 L184.7 289.1 L184.4 289.6 L184.1 290.1 L183.8 290.6 L183.5 291.1 L183.2 291.5 L182.8 291.8 L182.5 292.1 L182.2 292.3 L181.9 292.4 L181.6 292.4 L181.3 292.4 L181 292.4 L180.7 292.4 L180.3 292.5 L180 292.5 L179.7 292.5 L179.4 292.6 L179.1 292.6 L178.8 292.6 L178.5 292.6 L178.2 292.6 L177.9 292.6 L177.5 292.6 L177.2 292.6 L176.9 292.6 L176.6 292.5 L176.3 292.5 L176 292.4 L175.7 292.3 L175.4 292.2 L175 292.1 L174.7 292 L174.4 291.8 L174.1 291.7 L173.8 291.6 L173.5 291.4 L173.2 291.3 L172.9 291.1 L172.6 291 L172.2 290.8 L171.9 290.7 L171.6 290.5 L171.3 290.4 L171 290.2 L170.7 290.1 L170.4 289.9 L170.1 289.8 L169.8 289.6 L169.4 289.5 L169.1 289.3 L168.8 289.2 L168.5 289 L168.2 288.8 L167.9 288.6 L167.6 288.4 L167.3 288.2 L166.9 288 L166.6 287.8 L166.3 287.6 L166 287.4 L165.7 287.2 L165.4 287 L165.1 286.9 L164.8 286.7 L164.5 286.6 L164.1 286.5 L163.8 286.4 L163.5 286.4 L163.2 286.3 L162.9 286.3 L162.6 286.4 L162.3 286.5 L162 286.6 L161.6 286.8 L161.3 287 L161 287.2 L160.7 287.4 L160.4 287.6 L160.1 287.8 L159.8 287.9 L159.5 288.1 L159.2 288.1 L158.8 288.2 L158.5 288.2 L158.2 288.1 L157.9 288 L157.6 287.9 L157.3 287.7 L157 287.5 L156.7 287.3 L156.4 287.1 L156 286.8 L155.7 286.6 L155.4 286.3 L155.1 286.1 L154.8 285.9 L154.5 285.7 L154.2 285.5 L153.9 285.3 L153.5 285.1 L153.2 284.9 L152.9 284.7 L152.6 284.5 L152.3 284.3 L152 284.1 L151.7 283.8 L151.4 283.6 L151.1 283.4 L150.7 283.2 L150.4 283 L150.1 282.9 L149.8 282.8 L149.5 282.9 L149.2 283.2 L148.9 283.6 L148.6 284.1 L148.3 284.7 L147.9 285.4 L147.6 286.2 L147.3 287 L147 287.9 L146.7 288.9 L146.4 289.8 L146.1 290.8 L145.8 291.8 L145.4 292.7 L145.1 293.6 L144.8 294.5 L144.5 295.4 L144.2 296.3 L143.9 297.2 L143.6 298.2 L143.3 299.1 L143 300.1 L142.6 301.1 L142.3 302.2 L142 303.2 L141.7 304.3 L141.4 305.4 L141.1 306.5 L140.8 307.6 L140.5 308.7 L140.1 309.9 L139.8 311 L139.5 312.2 L139.2 313.4 L138.9 314.6 L138.6 315.8 L138.3 317 L138 318.2 L137.7 319.4 L137.3 320.6 L137 321.9 L136.7 323.1 L136.4 324.4 L136.1 325.7 L135.8 327 L135.5 328.4 L135.2 329.8 L134.9 331.2 L134.5 332.7 L134.2 334.2 L133.9 335.9 L133.6 337.6 L133.3 339.5 L133 341.6 L132.7 343.9 L132.4 346.3 L132 348.8 L131.7 351.3 L131.4 353.7 L131.1 356 L130.8 358.2 L130.5 360.1 L130.2 361.8 L129.9 363.3 L129.6 364.6 L129.2 366 L128.9 367.3 L128.6 368.5 L128.3 369.7 L128 370.7 L127.7 371.7 L127.4 372.4 L127.1 373 L126.8 373.4 L126.4 373.6 L126.1 373.5 L125.8 373.2 L125.5 372.8 L125.2 372.1 L124.9 371.3 L124.6 370.3 L124.3 369.3 L123.9 368.1 L123.6 366.9 L123.3 365.6 L123 364.3 L122.7 362.9 L122.4 361.6 L122.1 360.1 L121.8 358.3 L121.5 356.5 L121.1 354.5 L120.8 352.4 L120.5 350.4 L120.2 348.3 L119.9 346.3 L119.6 344.4 L119.3 342.5 L119 340.6 L118.6 338.7 L118.3 336.8 L118 335 L117.7 333.1 L117.4 331.3 L117.1 329.5 L116.8 327.7 L116.5 325.9 L116.2 324 L115.8 322.1 L115.5 320.2 L115.2 318.3 L114.9 316.6 L114.6 314.9 L114.3 313.5 L114 312.2 L113.7 311.1 L113.4 310.1 L113 309.2 L112.7 308.3 L112.4 307.5 L112.1 306.8 L111.8 306 L111.5 305.3 L111.2 304.5 L110.9 303.7 L110.5 302.8 L110.2 301.9 L109.9 300.9 L109.6 299.8 L109.3 298.7 L109 297.5 L108.7 296.3 L108.4 295.1 L108.1 294 L107.7 292.8 L107.4 291.7 L107.1 290.6 L106.8 289.6 L106.5 288.6 L106.2 287.7 L105.9 286.9 L105.6 286.1 L105.2 285.4 L104.9 284.7 L104.6 284 L104.3 283.4 L104 282.8 L103.7 282.2 L103.4 281.6 L103.1 281.1 L102.8 280.6 L102.4 280.2 L102.1 279.9 L101.8 279.7 L101.5 279.6 L101.2 279.4 L100.9 279.2 L100.6 279.1 L100.3 279 L100 278.8 L99.6 278.7 L99.3 278.7 L99 278.6 L98.7 278.5 L98.4 278.5 L98.1 278.6 L97.8 278.7 L97.5 278.9 L97.1 279.1 L96.8 279.5 L96.5 279.8 L96.2 280.2 L95.9 280.7 L95.6 281.1 L95.3 281.5 L95 281.9 L94.7 282.3 L94.3 282.6 L94 282.9 L93.7 283.1 L93.4 283.4 L93.1 283.6 L92.8 283.8 L92.5 284.1 L92.2 284.3 L91.9 284.5 L91.5 284.7 L91.2 284.9 L90.9 285.1 L90.6 285.3 L90.3 285.5 L90 285.6 L89.7 285.8 L89.4 286 L89 286.1 L88.7 286.2 L88.4 286.4 L88.1 286.6 L87.8 286.7 L87.5 286.9 L87.2 287 L86.9 287.2 L86.6 287.4 L86.2 287.5 L85.9 287.7 L85.6 287.8 L85.3 287.9 L85 288 L84.7 288.1 L84.4 288.2 L84.1 288.2 L83.7 288.3 L83.4 288.3 L83.1 288.3 L82.8 288.2 L82.5 288.1 L82.2 288.1 L81.9 288 L81.6 287.9 L81.3 287.8 L80.9 287.7 L80.6 287.6 L80.3 287.6 L80 287.5 L79.7 287.4 L79.4 287.3 L79.1 287.3 L78.8 287.2 L78.5 287.2 L78.1 287.2 L77.8 287.1 L77.5 287.1 L77.2 287.1 L76.9 287.1 L76.6 287.2 L76.3 287.2 L76 287.3 L75.6 287.3 L75.3 287.4 L75 287.5 L74.7 287.6 L74.4 287.7 L74.1 287.8 L73.8 287.9 L73.5 288 L73.2 288.1 L72.8 288.2 L72.5 288.4 L72.2 288.5 L71.9 288.7 L71.6 288.8 L71.3 288.9 L71 289.1 L70.7 289.2 L70.4 289.4 L70 289.5 L69.7 289.6 L69.4 289.8 L69.1 289.9 L68.8 290.1 L68.5 290.3 L68.2 290.4 L67.9 290.6 L67.5 290.9 L67.2 291.1 L66.9 291.3 L66.6 291.6 L66.3 291.8 L66 292.1 L65.7 292.3 L65.4 292.6 L65.1 292.8 L64.7 293.1 L64.4 293.3 L64.1 293.6 L63.8 293.8 L63.5 294.1 L63.2 294.3 L62.9 294.5 L62.6 294.7 L62.2 294.9 L61.9 295 L61.6 295.2 L61.3 295.3 L61 295.4 L60.7 295.5 L60.4 295.6 L60.1 295.7 L59.8 295.8 L59.4 295.9 L59.1 296 L58.8 296.1 L58.5 296.1 L58.2 296.2 L57.9 296.3 L57.6 296.4 L57.3 296.4 L57 296.5 L56.6 296.6 L56.3 296.6 L56 296.6 L55.7 296.7 L55.4 296.7 L55.1 296.7 L54.8 296.7 Z" fill="#d0d0d0" stroke="none"/>
<path d="M54.8 293.8 L55.1 293.8 L55.4 293.8 L55.7 293.8 L56 293.7 L56.3 293.7 L56.6 293.6 L57 293.6 L57.3 293.5 L57.6 293.5 L57.9 293.4 L58.2 293.3 L58.5 293.2 L58.8 293.1 L59.1 293 L59.4 292.9 L59.8 292.8 L60.1 292.7 L60.4 292.6 L60.7 292.5 L61 292.4 L61.3 292.3 L61.6 292.1 L61.9 292 L62.2 291.8 L62.6 291.6 L62.9 291.4 L63.2 291.2 L63.5 290.9 L63.8 290.7 L64.1 290.4 L64.4 290.2 L64.7 289.9 L65.1 289.6 L65.4 289.3 L65.7 289.1 L66 288.8 L66.3 288.5 L66.6 288.2 L66.9 288 L67.2 287.7 L67.5 287.5 L67.9 287.2 L68.2 287 L68.5 286.8 L68.8 286.6 L69.1 286.4 L69.4 286.3 L69.7 286.1 L70 285.9 L70.4 285.8 L70.7 285.6 L71 285.4 L71.3 285.3 L71.6 285.1 L71.9 284.9 L72.2 284.8 L72.5 284.6 L72.8 284.4 L73.2 284.3 L73.5 284.1 L73.8 284 L74.1 283.8 L74.4 283.7 L74.7 283.6 L75 283.5 L75.3 283.4 L75.6 283.3 L76 283.2 L76.3 283.1 L76.6 283 L76.9 283 L77.2 282.9 L77.5 282.9 L77.8 282.9 L78.1 282.9 L78.5 282.9 L78.8 282.9 L79.1 282.9 L79.4 282.9 L79.7 282.9 L80 283 L80.3 283 L80.6 283 L80.9 283.1 L81.3 283.1 L81.6 283.1 L81.9 283.1 L82.2 283.1 L82.5 283.1 L82.8 283.2 L83.1 283.1 L83.4 283.1 L83.7 283 L84.1 282.9 L84.4 282.7 L84.7 282.6 L85 282.4 L85.3 282.2 L85.6 282 L85.9 281.8 L86.2 281.6 L86.6 281.3 L86.9 281.1 L87.2 280.8 L87.5 280.6 L87.8 280.3 L88.1 280.1 L88.4 279.8 L88.7 279.6 L89 279.3 L89.4 279.1 L89.7 278.9 L90 278.6 L90.3 278.4 L90.6 278.1 L90.9 277.8 L91.2 277.6 L91.5 277.3 L91.9 277 L92.2 276.7 L92.5 276.4 L92.8 276.1 L93.1 275.8 L93.4 275.5 L93.7 275.2 L94 274.9 L94.3 274.6 L94.7 274.2 L95 273.8 L95.3 273.3 L95.6 272.9 L95.9 272.4 L96.2 272 L96.5 271.5 L96.8 271.1 L97.1 270.8 L97.5 270.5 L97.8 270.3 L98.1 270.2 L98.4 270.1 L98.7 270.2 L99 270.3 L99.3 270.4 L99.6 270.5 L100 270.7 L100.3 271 L100.6 271.2 L100.9 271.5 L101.2 271.7 L101.5 272 L101.8 272.3 L102.1 272.7 L102.4 273.1 L102.8 273.7 L103.1 274.3 L103.4 275 L103.7 275.7 L104 276.4 L104.3 277.2 L104.6 277.9 L104.9 278.6 L105.2 279.4 L105.6 280.2 L105.9 281.1 L106.2 281.9 L106.5 282.8 L106.8 283.8 L107.1 284.8 L107.4 285.8 L107.7 287 L108.1 288.1 L108.4 289.2 L108.7 290.4 L109 291.5 L109.3 292.6 L109.6 293.7 L109.9 294.7 L110.2 295.6 L110.5 296.4 L110.9 297.2 L111.2 297.9 L111.5 298.6 L111.8 299.3 L112.1 299.9 L112.4 300.6 L112.7 301.3 L113 302 L113.4 302.8 L113.7 303.7 L114 304.7 L114.3 305.8 L114.6 307.2 L114.9 308.7 L115.2 310.3 L115.5 312 L115.8 313.8 L116.2 315.6 L116.5 317.4 L116.8 319.1 L117.1 320.8 L117.4 322.4 L117.7 324.1 L118 325.8 L118.3 327.5 L118.6 329.2 L119 330.8 L119.3 332.5 L119.6 334.2 L119.9 335.9 L120.2 337.6 L120.5 339.4 L120.8 341.3 L121.1 343.1 L121.5 344.8 L121.8 346.4 L122.1 347.9 L122.4 349.2 L122.7 350.3 L123 351.4 L123.3 352.5 L123.6 353.6 L123.9 354.6 L124.3 355.6 L124.6 356.5 L124.9 357.3 L125.2 358 L125.5 358.5 L125.8 358.9 L126.1 359.1 L126.4 359.1 L126.8 358.9 L127.1 358.6 L127.4 358 L127.7 357.3 L128 356.5 L128.3 355.6 L128.6 354.6 L128.9 353.6 L129.2 352.5 L129.6 351.3 L129.9 350.2 L130.2 349 L130.5 347.6 L130.8 345.9 L131.1 344.1 L131.4 342 L131.7 339.9 L132 337.7 L132.4 335.5 L132.7 333.4 L133 331.4 L133.3 329.5 L133.6 327.9 L133.9 326.4 L134.2 325 L134.5 323.7 L134.9 322.4 L135.2 321.1 L135.5 319.9 L135.8 318.7 L136.1 317.6 L136.4 316.4 L136.7 315.3 L137 314.3 L137.3 313.2 L137.7 312.2 L138 311.1 L138.3 310.1 L138.6 309.1 L138.9 308.1 L139.2 307 L139.5 306 L139.8 305 L140.1 304 L140.5 303 L140.8 302 L141.1 301 L141.4 300.1 L141.7 299.1 L142 298.2 L142.3 297.2 L142.6 296.3 L143 295.4 L143.3 294.5 L143.6 293.6 L143.9 292.7 L144.2 291.9 L144.5 291 L144.8 290.2 L145.1 289.3 L145.4 288.4 L145.8 287.4 L146.1 286.4 L146.4 285.4 L146.7 284.4 L147 283.4 L147.3 282.4 L147.6 281.4 L147.9 280.6 L148.3 279.7 L148.6 279 L148.9 278.4 L149.2 277.8 L149.5 277.4 L149.8 277.2 L150.1 277.1 L150.4 277.1 L150.7 277.1 L151.1 277.2 L151.4 277.2 L151.7 277.3 L152 277.4 L152.3 277.5 L152.6 277.6 L152.9 277.7 L153.2 277.9 L153.5 278 L153.9 278.1 L154.2 278.2 L154.5 278.3 L154.8 278.4 L155.1 278.6 L155.4 278.8 L155.7 278.9 L156 279.1 L156.4 279.3 L156.7 279.4 L157 279.6 L157.3 279.7 L157.6 279.8 L157.9 279.9 L158.2 280 L158.5 280 L158.8 279.9 L159.2 279.8 L159.5 279.7 L159.8 279.5 L160.1 279.3 L160.4 279.1 L160.7 278.9 L161 278.6 L161.3 278.4 L161.6 278.2 L162 278 L162.3 277.8 L162.6 277.7 L162.9 277.7 L163.2 277.7 L163.5 277.7 L163.8 277.8 L164.1 277.8 L164.5 278 L164.8 278.1 L165.1 278.3 L165.4 278.5 L165.7 278.7 L166 278.9 L166.3 279.1 L166.6 279.4 L166.9 279.6 L167.3 279.9 L167.6 280.2 L167.9 280.4 L168.2 280.7 L168.5 281 L168.8 281.2 L169.1 281.5 L169.4 281.7 L169.8 281.9 L170.1 282.2 L170.4 282.4 L170.7 282.6 L171 282.8 L171.3 283.1 L171.6 283.3 L171.9 283.6 L172.2 283.8 L172.6 284.1 L172.9 284.3 L173.2 284.6 L173.5 284.8 L173.8 285 L174.1 285.3 L174.4 285.5 L174.7 285.7 L175 286 L175.4 286.2 L175.7 286.4 L176 286.6 L176.3 286.8 L176.6 287 L176.9 287.2 L177.2 287.4 L177.5 287.6 L177.9 287.8 L178.2 288 L178.5 288.2 L178.8 288.4 L179.1 288.6 L179.4 288.8 L179.7 289 L180 289.1 L180.3 289.2 L180.7 289.3 L181 289.4 L181.3 289.5 L181.6 289.5 L181.9 289.5 L182.2 289.4 L182.5 289.2 L182.8 288.9 L183.2 288.5 L183.5 288.1 L183.8 287.6 L184.1 287.1 L184.4 286.6 L184.7 286 L185 285.5 L185.3 284.9 L185.6 284.4 L186 283.9 L186.3 283.4 L186.6 283 L186.9 282.6 L187.2 282.3 L187.5 282.1 L187.8 282 L188.1 282 L188.4 282.1 L188.8 282.3 L189.1 282.5 L189.4 282.8 L189.7 283.2 L190 283.5 L190.3 284 L190.6 284.4 L190.9 284.9 L191.3 285.3 L191.6 285.8 L191.9 286.2 L192.2 286.6 L192.5 287 L192.8 287.3 L193.1 287.6 L193.4 287.8 L193.7 288 L194.1 288.1 L194.4 288.3 L194.7 288.4 L195 288.6 L195.3 288.7 L195.6 288.9 L195.9 289 L196.2 289.1 L196.5 289.2 L196.9 289.3 L197.2 289.4 L197.5 289.4 L197.8 289.5 L198.1 289.6 L198.4 289.6 L198.7 289.7 L199 289.7 L199.4 289.8 L199.7 289.8 L200 289.8 L200.3 289.9 L200.6 289.9 L200.9 290 L201.2 290 L201.5 290.1 L201.8 290.1 L202.2 290.1 L202.5 290.2 L202.8 290.2 L203.1 290.2 L203.4 290.3 L203.7 290.3 L204 290.3 L204.3 290.4 L204.7 290.4 L205 290.4 L205.3 290.5 L205.6 290.5 L205.9 290.5 L206.2 290.5 L206.5 290.5 L206.8 290.6 L207.1 290.6 L207.5 290.6 L207.8 290.6 L208.1 290.6 L208.4 290.6 L208.7 290.6 L209 290.7 L209.3 290.7 L209.6 290.7 L209.9 290.7 L210.3 290.7" fill="none" stroke="#999" stroke-width="1.3" stroke-linejoin="round" />
<path d="M54.8 291.2 L55.1 291.4 L55.4 291.5 L55.7 291.6 L56 291.8 L56.3 291.9 L56.6 292 L57 292.1 L57.3 292.2 L57.6 292.3 L57.9 292.4 L58.2 292.5 L58.5 292.6 L58.8 292.7 L59.1 292.8 L59.4 292.9 L59.8 293 L60.1 293 L60.4 293.1 L60.7 293.2 L61 293.3 L61.3 293.3 L61.6 293.4 L61.9 293.4 L62.2 293.5 L62.6 293.5 L62.9 293.6 L63.2 293.6 L63.5 293.7 L63.8 293.7 L64.1 293.7 L64.4 293.7 L64.7 293.8 L65.1 293.8 L65.4 293.8 L65.7 293.8 L66 293.8 L66.3 293.8 L66.6 293.8 L66.9 293.8 L67.2 293.8 L67.5 293.8 L67.9 293.8 L68.2 293.8 L68.5 293.7 L68.8 293.7 L69.1 293.7 L69.4 293.6 L69.7 293.6 L70 293.5 L70.4 293.5 L70.7 293.4 L71 293.3 L71.3 293.3 L71.6 293.2 L71.9 293.2 L72.2 293.1 L72.5 293.1 L72.8 293 L73.2 292.9 L73.5 292.9 L73.8 292.8 L74.1 292.8 L74.4 292.7 L74.7 292.7 L75 292.6 L75.3 292.6 L75.6 292.5 L76 292.5 L76.3 292.4 L76.6 292.3 L76.9 292.3 L77.2 292.2 L77.5 292.2 L77.8 292.1 L78.1 292 L78.5 292 L78.8 291.9 L79.1 291.8 L79.4 291.8 L79.7 291.7 L80 291.6 L80.3 291.6 L80.6 291.5 L80.9 291.4 L81.3 291.3 L81.6 291.2 L81.9 291.2 L82.2 291.1 L82.5 291 L82.8 290.9 L83.1 290.8 L83.4 290.7 L83.7 290.6 L84.1 290.5 L84.4 290.4 L84.7 290.3 L85 290.2 L85.3 290.1 L85.6 290 L85.9 289.8 L86.2 289.7 L86.6 289.6 L86.9 289.5 L87.2 289.4 L87.5 289.3 L87.8 289.2 L88.1 289.1 L88.4 289 L88.7 288.9 L89 288.7 L89.4 288.6 L89.7 288.5 L90 288.4 L90.3 288.3 L90.6 288.2 L90.9 288.1 L91.2 288 L91.5 287.9 L91.9 287.8 L92.2 287.7 L92.5 287.6 L92.8 287.5 L93.1 287.4 L93.4 287.3 L93.7 287.2 L94 287.1 L94.3 287 L94.7 286.9 L95 286.8 L95.3 286.7 L95.6 286.6 L95.9 286.5 L96.2 286.4 L96.5 286.3 L96.8 286.2 L97.1 286.1 L97.5 286 L97.8 285.8 L98.1 285.7 L98.4 285.6 L98.7 285.5 L99 285.4 L99.3 285.3 L99.6 285.1 L100 285 L100.3 284.9 L100.6 284.8 L100.9 284.7 L101.2 284.6 L101.5 284.5 L101.8 284.3 L102.1 284.2 L102.4 284.1 L102.8 284 L103.1 283.9 L103.4 283.7 L103.7 283.6 L104 283.4 L104.3 283.3 L104.6 283.1 L104.9 283 L105.2 282.8 L105.6 282.6 L105.9 282.5 L106.2 282.3 L106.5 282.1 L106.8 281.8 L107.1 281.6 L107.4 281.3 L107.7 280.9 L108.1 280.6 L108.4 280.2 L108.7 279.8 L109 279.3 L109.3 278.9 L109.6 278.4 L109.9 277.9 L110.2 277.5 L110.5 277 L110.9 276.5 L111.2 276 L111.5 275.5 L111.8 275 L112.1 274.4 L112.4 273.8 L112.7 273.3 L113 272.9 L113.4 272.9 L113.7 273.1 L114 273.7 L114.3 274.5 L114.6 275.4 L114.9 276.6 L115.2 277.9 L115.5 279.3 L115.8 280.8 L116.2 282.3 L116.5 283.8 L116.8 285.2 L117.1 286.7 L117.4 288.3 L117.7 290.2 L118 292.2 L118.3 294.2 L118.6 296.3 L119 298.4 L119.3 300.4 L119.6 302.2 L119.9 304 L120.2 305.7 L120.5 307.5 L120.8 309.2 L121.1 310.9 L121.5 312.5 L121.8 314 L122.1 315.4 L122.4 316.7 L122.7 317.8 L123 318.8 L123.3 319.9 L123.6 320.8 L123.9 321.7 L124.3 322.4 L124.6 323 L124.9 323.5 L125.2 323.7 L125.5 323.8 L125.8 323.9 L126.1 324 L126.4 324.1 L126.8 324.1 L127.1 324.1 L127.4 324.1 L127.7 324 L128 323.9 L128.3 323.7 L128.6 323.6 L128.9 323.4 L129.2 323.2 L129.6 323.1 L129.9 322.9 L130.2 322.8 L130.5 322.8 L130.8 322.7 L131.1 322.7 L131.4 322.6 L131.7 322.4 L132 322.2 L132.4 321.9 L132.7 321.6 L133 321.2 L133.3 320.8 L133.6 320.4 L133.9 320 L134.2 319.7 L134.5 319.3 L134.9 318.9 L135.2 318.5 L135.5 318 L135.8 317.5 L136.1 316.9 L136.4 316.3 L136.7 315.6 L137 314.8 L137.3 314 L137.7 313.1 L138 312.2 L138.3 311.3 L138.6 310.4 L138.9 309.5 L139.2 308.6 L139.5 307.8 L139.8 306.9 L140.1 306.1 L140.5 305.2 L140.8 304.4 L141.1 303.6 L141.4 302.7 L141.7 301.9 L142 301 L142.3 300.2 L142.6 299.3 L143 298.5 L143.3 297.7 L143.6 296.9 L143.9 296.1 L144.2 295.3 L144.5 294.6 L144.8 293.9 L145.1 293.3 L145.4 292.6 L145.8 292 L146.1 291.5 L146.4 291 L146.7 290.5 L147 289.9 L147.3 289.4 L147.6 288.9 L147.9 288.4 L148.3 288 L148.6 287.5 L148.9 287.1 L149.2 286.6 L149.5 286.2 L149.8 285.8 L150.1 285.4 L150.4 285.1 L150.7 284.7 L151.1 284.4 L151.4 284.1 L151.7 283.8 L152 283.5 L152.3 283.3 L152.6 283.1 L152.9 282.9 L153.2 282.7 L153.5 282.5 L153.9 282.3 L154.2 282.1 L154.5 282 L154.8 281.8 L155.1 281.6 L155.4 281.5 L155.7 281.3 L156 281.2 L156.4 281.1 L156.7 281 L157 280.9 L157.3 280.8 L157.6 280.8 L157.9 280.7 L158.2 280.7 L158.5 280.7 L158.8 280.6 L159.2 280.6 L159.5 280.6 L159.8 280.6 L160.1 280.6 L160.4 280.6 L160.7 280.6 L161 280.6 L161.3 280.6 L161.6 280.6 L162 280.6 L162.3 280.6 L162.6 280.6 L162.9 280.6 L163.2 280.6 L163.5 280.6 L163.8 280.6 L164.1 280.6 L164.5 280.7 L164.8 280.7 L165.1 280.7 L165.4 280.7 L165.7 280.7 L166 280.8 L166.3 280.8 L166.6 280.9 L166.9 281 L167.3 281.1 L167.6 281.2 L167.9 281.4 L168.2 281.5 L168.5 281.7 L168.8 281.9 L169.1 282 L169.4 282.2 L169.8 282.4 L170.1 282.6 L170.4 282.8 L170.7 283 L171 283.2 L171.3 283.3 L171.6 283.5 L171.9 283.7 L172.2 283.9 L172.6 284 L172.9 284.2 L173.2 284.4 L173.5 284.5 L173.8 284.6 L174.1 284.7 L174.4 284.9 L174.7 285 L175 285.1 L175.4 285.2 L175.7 285.3 L176 285.4 L176.3 285.5 L176.6 285.6 L176.9 285.7 L177.2 285.8 L177.5 286 L177.9 286.1 L178.2 286.2 L178.5 286.3 L178.8 286.4 L179.1 286.5 L179.4 286.6 L179.7 286.7 L180 286.9 L180.3 287 L180.7 287.1 L181 287.3 L181.3 287.4 L181.6 287.6 L181.9 287.7 L182.2 287.9 L182.5 288.2 L182.8 288.4 L183.2 288.7 L183.5 289 L183.8 289.3 L184.1 289.6 L184.4 289.9 L184.7 290.2 L185 290.5 L185.3 290.8 L185.6 291.1 L186 291.3 L186.3 291.5 L186.6 291.7 L186.9 291.8 L187.2 291.9 L187.5 291.9 L187.8 291.9 L188.1 291.9 L188.4 291.9 L188.8 291.9 L189.1 291.9 L189.4 291.9 L189.7 291.9 L190 291.9 L190.3 291.8 L190.6 291.8 L190.9 291.8 L191.3 291.8 L191.6 291.8 L191.9 291.7 L192.2 291.7 L192.5 291.7 L192.8 291.7 L193.1 291.7 L193.4 291.6 L193.7 291.6 L194.1 291.6 L194.4 291.6 L194.7 291.6 L195 291.6 L195.3 291.6 L195.6 291.6 L195.9 291.6 L196.2 291.6 L196.5 291.7 L196.9 291.7 L197.2 291.7 L197.5 291.7 L197.8 291.7 L198.1 291.7 L198.4 291.8 L198.7 291.8 L199 291.8 L199.4 291.8 L199.7 291.9 L200 291.9 L200.3 291.9 L200.6 291.9 L200.9 292 L201.2 292 L201.5 292 L201.8 292.1 L202.2 292.1 L202.5 292.1 L202.8 292.2 L203.1 292.2 L203.4 292.3 L203.7 292.3 L204 292.4 L204.3 292.4 L204.7 292.4 L205 292.5 L205.3 292.5 L205.6 292.6 L205.9 292.7 L206.2 292.7 L206.5 292.8 L206.8 292.8 L207.1 292.9 L207.5 292.9 L207.8 293 L208.1 293.1 L208.4 293.1 L208.7 293.2 L209 293.3 L209.3 293.3 L209.6 293.4 L209.9 293.5 L210.3 293.6 L210.3 295.3 L209.9 295.2 L209.6 295.2 L209.3 295.1 L209 295.1 L208.7 295 L208.4 295 L208.1 294.9 L207.8 294.9 L207.5 294.9 L207.1 294.8 L206.8 294.8 L206.5 294.7 L206.2 294.7 L205.9 294.7 L205.6 294.6 L205.3 294.6 L205 294.6 L204.7 294.6 L204.3 294.5 L204 294.5 L203.7 294.5 L203.4 294.5 L203.1 294.4 L202.8 294.4 L202.5 294.4 L202.2 294.4 L201.8 294.4 L201.5 294.4 L201.2 294.3 L200.9 294.3 L200.6 294.3 L200.3 294.3 L200 294.3 L199.7 294.3 L199.4 294.3 L199 294.3 L198.7 294.3 L198.4 294.3 L198.1 294.3 L197.8 294.3 L197.5 294.3 L197.2 294.3 L196.9 294.3 L196.5 294.3 L196.2 294.3 L195.9 294.3 L195.6 294.3 L195.3 294.4 L195 294.4 L194.7 294.4 L194.4 294.4 L194.1 294.5 L193.7 294.5 L193.4 294.5 L193.1 294.6 L192.8 294.6 L192.5 294.6 L192.2 294.7 L191.9 294.7 L191.6 294.8 L191.3 294.8 L190.9 294.9 L190.6 294.9 L190.3 294.9 L190 295 L189.7 295 L189.4 295.1 L189.1 295.1 L188.8 295.1 L188.4 295.1 L188.1 295.2 L187.8 295.2 L187.5 295.2 L187.2 295.2 L186.9 295.1 L186.6 295 L186.3 294.9 L186 294.7 L185.6 294.5 L185.3 294.2 L185 294 L184.7 293.7 L184.4 293.4 L184.1 293.1 L183.8 292.9 L183.5 292.6 L183.2 292.3 L182.8 292 L182.5 291.8 L182.2 291.6 L181.9 291.4 L181.6 291.3 L181.3 291.2 L181 291 L180.7 290.9 L180.3 290.8 L180 290.7 L179.7 290.6 L179.4 290.5 L179.1 290.4 L178.8 290.3 L178.5 290.2 L178.2 290.1 L177.9 290 L177.5 289.9 L177.2 289.9 L176.9 289.8 L176.6 289.7 L176.3 289.6 L176 289.5 L175.7 289.4 L175.4 289.4 L175 289.3 L174.7 289.2 L174.4 289.1 L174.1 289 L173.8 288.9 L173.5 288.8 L173.2 288.7 L172.9 288.5 L172.6 288.4 L172.2 288.3 L171.9 288.1 L171.6 287.9 L171.3 287.8 L171 287.6 L170.7 287.4 L170.4 287.3 L170.1 287.1 L169.8 286.9 L169.4 286.8 L169.1 286.6 L168.8 286.5 L168.5 286.3 L168.2 286.2 L167.9 286.1 L167.6 286 L167.3 285.9 L166.9 285.8 L166.6 285.7 L166.3 285.7 L166 285.6 L165.7 285.6 L165.4 285.6 L165.1 285.6 L164.8 285.6 L164.5 285.7 L164.1 285.7 L163.8 285.7 L163.5 285.7 L163.2 285.7 L162.9 285.8 L162.6 285.8 L162.3 285.8 L162 285.9 L161.6 285.9 L161.3 285.9 L161 285.9 L160.7 286 L160.4 286 L160.1 286 L159.8 286.1 L159.5 286.1 L159.2 286.1 L158.8 286.2 L158.5 286.2 L158.2 286.2 L157.9 286.3 L157.6 286.4 L157.3 286.5 L157 286.6 L156.7 286.7 L156.4 286.8 L156 286.9 L155.7 287.1 L155.4 287.2 L155.1 287.4 L154.8 287.5 L154.5 287.7 L154.2 287.9 L153.9 288.1 L153.5 288.3 L153.2 288.5 L152.9 288.7 L152.6 288.9 L152.3 289.1 L152 289.3 L151.7 289.6 L151.4 289.9 L151.1 290.2 L150.7 290.5 L150.4 290.8 L150.1 291.2 L149.8 291.6 L149.5 292 L149.2 292.4 L148.9 292.8 L148.6 293.3 L148.3 293.7 L147.9 294.2 L147.6 294.7 L147.3 295.2 L147 295.7 L146.7 296.2 L146.4 296.8 L146.1 297.3 L145.8 297.8 L145.4 298.4 L145.1 299 L144.8 299.7 L144.5 300.4 L144.2 301.1 L143.9 301.9 L143.6 302.7 L143.3 303.5 L143 304.3 L142.6 305.1 L142.3 306 L142 306.8 L141.7 307.7 L141.4 308.5 L141.1 309.4 L140.8 310.2 L140.5 311 L140.1 311.8 L139.8 312.7 L139.5 313.5 L139.2 314.4 L138.9 315.3 L138.6 316.2 L138.3 317.1 L138 318 L137.7 318.9 L137.3 319.9 L137 320.8 L136.7 321.8 L136.4 322.9 L136.1 323.9 L135.8 325 L135.5 326.1 L135.2 327.1 L134.9 328.2 L134.5 329.2 L134.2 330.3 L133.9 331.4 L133.6 332.5 L133.3 333.6 L133 334.6 L132.7 335.6 L132.4 336.6 L132 337.4 L131.7 338.2 L131.4 338.8 L131.1 339.3 L130.8 339.6 L130.5 339.9 L130.2 340.1 L129.9 340.3 L129.6 340.4 L129.2 340.4 L128.9 340.4 L128.6 340.4 L128.3 340.3 L128 340.1 L127.7 339.9 L127.4 339.6 L127.1 339.2 L126.8 338.8 L126.4 338.3 L126.1 337.8 L125.8 337.2 L125.5 336.7 L125.2 336.1 L124.9 335.3 L124.6 334.4 L124.3 333.3 L123.9 332.2 L123.6 330.9 L123.3 329.6 L123 328.2 L122.7 326.9 L122.4 325.5 L122.1 324 L121.8 322.5 L121.5 320.7 L121.1 318.9 L120.8 317.1 L120.5 315.1 L120.2 313.2 L119.9 311.3 L119.6 309.3 L119.3 307.3 L119 305.1 L118.6 302.8 L118.3 300.6 L118 298.3 L117.7 296.2 L117.4 294.2 L117.1 292.4 L116.8 290.7 L116.5 289.1 L116.2 287.4 L115.8 285.8 L115.5 284.2 L115.2 282.6 L114.9 281.2 L114.6 279.9 L114.3 278.7 L114 277.8 L113.7 277.1 L113.4 276.8 L113 276.7 L112.7 276.9 L112.4 277.3 L112.1 277.8 L111.8 278.3 L111.5 278.7 L111.2 279.1 L110.9 279.5 L110.5 279.9 L110.2 280.3 L109.9 280.7 L109.6 281.1 L109.3 281.5 L109 281.9 L108.7 282.3 L108.4 282.7 L108.1 283 L107.7 283.3 L107.4 283.6 L107.1 283.9 L106.8 284.2 L106.5 284.4 L106.2 284.6 L105.9 284.8 L105.6 284.9 L105.2 285.1 L104.9 285.3 L104.6 285.4 L104.3 285.6 L104 285.7 L103.7 285.8 L103.4 286 L103.1 286.1 L102.8 286.2 L102.4 286.3 L102.1 286.4 L101.8 286.5 L101.5 286.6 L101.2 286.8 L100.9 286.9 L100.6 287 L100.3 287.1 L100 287.2 L99.6 287.3 L99.3 287.4 L99 287.5 L98.7 287.6 L98.4 287.7 L98.1 287.8 L97.8 288 L97.5 288.1 L97.1 288.2 L96.8 288.3 L96.5 288.4 L96.2 288.5 L95.9 288.6 L95.6 288.7 L95.3 288.8 L95 288.8 L94.7 288.9 L94.3 289 L94 289.1 L93.7 289.2 L93.4 289.3 L93.1 289.4 L92.8 289.5 L92.5 289.6 L92.2 289.7 L91.9 289.8 L91.5 289.9 L91.2 290 L90.9 290.1 L90.6 290.2 L90.3 290.3 L90 290.4 L89.7 290.5 L89.4 290.6 L89 290.7 L88.7 290.8 L88.4 290.9 L88.1 291 L87.8 291.1 L87.5 291.2 L87.2 291.3 L86.9 291.4 L86.6 291.6 L86.2 291.7 L85.9 291.8 L85.6 291.9 L85.3 292 L85 292.1 L84.7 292.2 L84.4 292.3 L84.1 292.4 L83.7 292.5 L83.4 292.6 L83.1 292.7 L82.8 292.8 L82.5 292.9 L82.2 292.9 L81.9 293 L81.6 293.1 L81.3 293.2 L80.9 293.3 L80.6 293.3 L80.3 293.4 L80 293.5 L79.7 293.5 L79.4 293.6 L79.1 293.7 L78.8 293.7 L78.5 293.8 L78.1 293.9 L77.8 293.9 L77.5 294 L77.2 294 L76.9 294.1 L76.6 294.2 L76.3 294.2 L76 294.3 L75.6 294.3 L75.3 294.4 L75 294.4 L74.7 294.5 L74.4 294.5 L74.1 294.6 L73.8 294.6 L73.5 294.7 L73.2 294.7 L72.8 294.8 L72.5 294.8 L72.2 294.9 L71.9 295 L71.6 295 L71.3 295.1 L71 295.1 L70.7 295.2 L70.4 295.2 L70 295.3 L69.7 295.3 L69.4 295.4 L69.1 295.4 L68.8 295.5 L68.5 295.5 L68.2 295.5 L67.9 295.5 L67.5 295.6 L67.2 295.6 L66.9 295.6 L66.6 295.6 L66.3 295.6 L66 295.6 L65.7 295.6 L65.4 295.6 L65.1 295.5 L64.7 295.5 L64.4 295.5 L64.1 295.5 L63.8 295.4 L63.5 295.4 L63.2 295.4 L62.9 295.3 L62.6 295.3 L62.2 295.2 L61.9 295.2 L61.6 295.1 L61.3 295.1 L61 295 L60.7 294.9 L60.4 294.9 L60.1 294.8 L59.8 294.7 L59.4 294.6 L59.1 294.5 L58.8 294.5 L58.5 294.4 L58.2 294.3 L57.9 294.2 L57.6 294.1 L57.3 294 L57 293.8 L56.6 293.7 L56.3 293.6 L56 293.5 L55.7 293.4 L55.4 293.2 L55.1 293.1 L54.8 293 Z" fill="#666" stroke="none"/>
<path d="M54.8 292.1 L55.1 292.2 L55.4 292.4 L55.7 292.5 L56 292.6 L56.3 292.8 L56.6 292.9 L57 293 L57.3 293.1 L57.6 293.2 L57.9 293.3 L58.2 293.4 L58.5 293.5 L58.8 293.6 L59.1 293.7 L59.4 293.8 L59.8 293.8 L60.1 293.9 L60.4 294 L60.7 294.1 L61 294.1 L61.3 294.2 L61.6 294.2 L61.9 294.3 L62.2 294.4 L62.6 294.4 L62.9 294.4 L63.2 294.5 L63.5 294.5 L63.8 294.6 L64.1 294.6 L64.4 294.6 L64.7 294.6 L65.1 294.7 L65.4 294.7 L65.7 294.7 L66 294.7 L66.3 294.7 L66.6 294.7 L66.9 294.7 L67.2 294.7 L67.5 294.7 L67.9 294.7 L68.2 294.6 L68.5 294.6 L68.8 294.6 L69.1 294.5 L69.4 294.5 L69.7 294.4 L70 294.4 L70.4 294.3 L70.7 294.3 L71 294.2 L71.3 294.2 L71.6 294.1 L71.9 294.1 L72.2 294 L72.5 293.9 L72.8 293.9 L73.2 293.8 L73.5 293.8 L73.8 293.7 L74.1 293.7 L74.4 293.6 L74.7 293.6 L75 293.5 L75.3 293.5 L75.6 293.4 L76 293.4 L76.3 293.3 L76.6 293.2 L76.9 293.2 L77.2 293.1 L77.5 293.1 L77.8 293 L78.1 293 L78.5 292.9 L78.8 292.8 L79.1 292.8 L79.4 292.7 L79.7 292.6 L80 292.6 L80.3 292.5 L80.6 292.4 L80.9 292.3 L81.3 292.3 L81.6 292.2 L81.9 292.1 L82.2 292 L82.5 291.9 L82.8 291.8 L83.1 291.7 L83.4 291.6 L83.7 291.5 L84.1 291.4 L84.4 291.3 L84.7 291.2 L85 291.1 L85.3 291 L85.6 290.9 L85.9 290.8 L86.2 290.7 L86.6 290.6 L86.9 290.5 L87.2 290.4 L87.5 290.3 L87.8 290.2 L88.1 290 L88.4 289.9 L88.7 289.8 L89 289.7 L89.4 289.6 L89.7 289.5 L90 289.4 L90.3 289.3 L90.6 289.2 L90.9 289.1 L91.2 289 L91.5 288.9 L91.9 288.8 L92.2 288.7 L92.5 288.6 L92.8 288.5 L93.1 288.4 L93.4 288.3 L93.7 288.2 L94 288.1 L94.3 288 L94.7 287.9 L95 287.8 L95.3 287.7 L95.6 287.6 L95.9 287.5 L96.2 287.4 L96.5 287.3 L96.8 287.2 L97.1 287.1 L97.5 287 L97.8 286.9 L98.1 286.8 L98.4 286.7 L98.7 286.6 L99 286.5 L99.3 286.3 L99.6 286.2 L100 286.1 L100.3 286 L100.6 285.9 L100.9 285.8 L101.2 285.7 L101.5 285.5 L101.8 285.4 L102.1 285.3 L102.4 285.2 L102.8 285.1 L103.1 285 L103.4 284.8 L103.7 284.7 L104 284.6 L104.3 284.4 L104.6 284.3 L104.9 284.1 L105.2 284 L105.6 283.8 L105.9 283.6 L106.2 283.4 L106.5 283.2 L106.8 283 L107.1 282.8 L107.4 282.5 L107.7 282.1 L108.1 281.8 L108.4 281.4 L108.7 281 L109 280.6 L109.3 280.2 L109.6 279.8 L109.9 279.3 L110.2 278.9 L110.5 278.4 L110.9 278 L111.2 277.6 L111.5 277.1 L111.8 276.7 L112.1 276.1 L112.4 275.5 L112.7 275.1 L113 274.8 L113.4 274.8 L113.7 275.1 L114 275.7 L114.3 276.6 L114.6 277.7 L114.9 278.9 L115.2 280.3 L115.5 281.7 L115.8 283.3 L116.2 284.9 L116.5 286.4 L116.8 288 L117.1 289.5 L117.4 291.3 L117.7 293.2 L118 295.2 L118.3 297.4 L118.6 299.6 L119 301.7 L119.3 303.8 L119.6 305.8 L119.9 307.6 L120.2 309.5 L120.5 311.3 L120.8 313.1 L121.1 314.9 L121.5 316.6 L121.8 318.2 L122.1 319.7 L122.4 321.1 L122.7 322.3 L123 323.5 L123.3 324.7 L123.6 325.9 L123.9 326.9 L124.3 327.9 L124.6 328.7 L124.9 329.4 L125.2 329.9 L125.5 330.2 L125.8 330.6 L126.1 330.9 L126.4 331.2 L126.8 331.4 L127.1 331.7 L127.4 331.8 L127.7 331.9 L128 332 L128.3 332 L128.6 332 L128.9 331.9 L129.2 331.8 L129.6 331.7 L129.9 331.6 L130.2 331.5 L130.5 331.3 L130.8 331.2 L131.1 331 L131.4 330.7 L131.7 330.3 L132 329.8 L132.4 329.2 L132.7 328.6 L133 327.9 L133.3 327.2 L133.6 326.5 L133.9 325.7 L134.2 325 L134.5 324.2 L134.9 323.5 L135.2 322.8 L135.5 322 L135.8 321.2 L136.1 320.4 L136.4 319.6 L136.7 318.7 L137 317.8 L137.3 316.9 L137.7 316 L138 315.1 L138.3 314.2 L138.6 313.3 L138.9 312.4 L139.2 311.5 L139.5 310.6 L139.8 309.8 L140.1 309 L140.5 308.1 L140.8 307.3 L141.1 306.5 L141.4 305.6 L141.7 304.8 L142 303.9 L142.3 303.1 L142.6 302.2 L143 301.4 L143.3 300.6 L143.6 299.8 L143.9 299 L144.2 298.2 L144.5 297.5 L144.8 296.8 L145.1 296.1 L145.4 295.5 L145.8 294.9 L146.1 294.4 L146.4 293.9 L146.7 293.3 L147 292.8 L147.3 292.3 L147.6 291.8 L147.9 291.3 L148.3 290.9 L148.6 290.4 L148.9 289.9 L149.2 289.5 L149.5 289.1 L149.8 288.7 L150.1 288.3 L150.4 287.9 L150.7 287.6 L151.1 287.3 L151.4 287 L151.7 286.7 L152 286.4 L152.3 286.2 L152.6 286 L152.9 285.8 L153.2 285.6 L153.5 285.4 L153.9 285.2 L154.2 285 L154.5 284.8 L154.8 284.7 L155.1 284.5 L155.4 284.3 L155.7 284.2 L156 284.1 L156.4 283.9 L156.7 283.8 L157 283.7 L157.3 283.6 L157.6 283.6 L157.9 283.5 L158.2 283.5 L158.5 283.4 L158.8 283.4 L159.2 283.4 L159.5 283.4 L159.8 283.3 L160.1 283.3 L160.4 283.3 L160.7 283.3 L161 283.3 L161.3 283.3 L161.6 283.2 L162 283.2 L162.3 283.2 L162.6 283.2 L162.9 283.2 L163.2 283.2 L163.5 283.2 L163.8 283.2 L164.1 283.2 L164.5 283.2 L164.8 283.2 L165.1 283.2 L165.4 283.2 L165.7 283.2 L166 283.2 L166.3 283.2 L166.6 283.3 L166.9 283.4 L167.3 283.5 L167.6 283.6 L167.9 283.7 L168.2 283.9 L168.5 284 L168.8 284.2 L169.1 284.3 L169.4 284.5 L169.8 284.7 L170.1 284.8 L170.4 285 L170.7 285.2 L171 285.4 L171.3 285.6 L171.6 285.7 L171.9 285.9 L172.2 286.1 L172.6 286.2 L172.9 286.4 L173.2 286.5 L173.5 286.6 L173.8 286.7 L174.1 286.9 L174.4 287 L174.7 287.1 L175 287.2 L175.4 287.3 L175.7 287.4 L176 287.5 L176.3 287.6 L176.6 287.7 L176.9 287.8 L177.2 287.9 L177.5 287.9 L177.9 288 L178.2 288.1 L178.5 288.2 L178.8 288.3 L179.1 288.4 L179.4 288.6 L179.7 288.7 L180 288.8 L180.3 288.9 L180.7 289 L181 289.2 L181.3 289.3 L181.6 289.4 L181.9 289.6 L182.2 289.8 L182.5 290 L182.8 290.2 L183.2 290.5 L183.5 290.8 L183.8 291.1 L184.1 291.4 L184.4 291.7 L184.7 292 L185 292.3 L185.3 292.5 L185.6 292.8 L186 293 L186.3 293.2 L186.6 293.4 L186.9 293.5 L187.2 293.5 L187.5 293.6 L187.8 293.6 L188.1 293.5 L188.4 293.5 L188.8 293.5 L189.1 293.5 L189.4 293.5 L189.7 293.5 L190 293.4 L190.3 293.4 L190.6 293.4 L190.9 293.3 L191.3 293.3 L191.6 293.3 L191.9 293.2 L192.2 293.2 L192.5 293.2 L192.8 293.1 L193.1 293.1 L193.4 293.1 L193.7 293.1 L194.1 293 L194.4 293 L194.7 293 L195 293 L195.3 293 L195.6 293 L195.9 293 L196.2 293 L196.5 293 L196.9 293 L197.2 293 L197.5 293 L197.8 293 L198.1 293 L198.4 293 L198.7 293 L199 293 L199.4 293.1 L199.7 293.1 L200 293.1 L200.3 293.1 L200.6 293.1 L200.9 293.2 L201.2 293.2 L201.5 293.2 L201.8 293.2 L202.2 293.2 L202.5 293.3 L202.8 293.3 L203.1 293.3 L203.4 293.4 L203.7 293.4 L204 293.4 L204.3 293.5 L204.7 293.5 L205 293.5 L205.3 293.6 L205.6 293.6 L205.9 293.7 L206.2 293.7 L206.5 293.8 L206.8 293.8 L207.1 293.9 L207.5 293.9 L207.8 294 L208.1 294 L208.4 294.1 L208.7 294.1 L209 294.2 L209.3 294.2 L209.6 294.3 L209.9 294.4 L210.3 294.4" fill="none" stroke="#111" stroke-width="1.6" stroke-linejoin="round" />
<line x1="106.6" y1="259.5" x2="106.6" y2="381.1" stroke="#222" stroke-width="1.3" stroke-dasharray="8 6.8"/>
<path d="M55.3 252.2 V381.6 H210.2" fill="none" stroke="#2a2a2a" stroke-width="1.3"/>
<line x1="54.8" y1="381.6" x2="54.8" y2="378.6" stroke="#2a2a2a" stroke-width="1.3" />
<line x1="106.6" y1="381.6" x2="106.6" y2="378.6" stroke="#2a2a2a" stroke-width="1.3" />
<line x1="158.4" y1="381.6" x2="158.4" y2="378.6" stroke="#2a2a2a" stroke-width="1.3" />
<line x1="210.3" y1="381.6" x2="210.3" y2="378.6" stroke="#2a2a2a" stroke-width="1.3" />
<line x1="55.3" y1="266.1" x2="58.3" y2="266.1" stroke="#2a2a2a" stroke-width="1.3" />
<line x1="55.3" y1="295" x2="58.3" y2="295" stroke="#2a2a2a" stroke-width="1.3" />
<line x1="55.3" y1="323.9" x2="58.3" y2="323.9" stroke="#2a2a2a" stroke-width="1.3" />
<line x1="55.3" y1="352.8" x2="58.3" y2="352.8" stroke="#2a2a2a" stroke-width="1.3" />
<text x="49.9" y="300" font-size="15.4" text-anchor="end" fill="#000" textLength="7.9" lengthAdjust="spacingAndGlyphs">0</text>
<text x="49.9" y="357.8" font-size="15.4" text-anchor="end" fill="#000" textLength="24.6" lengthAdjust="spacingAndGlyphs">-0.2</text>
<text x="54.8" y="397.8" font-size="15.4" text-anchor="middle" fill="#000" textLength="28.5" lengthAdjust="spacingAndGlyphs">-100</text>
<text x="106.6" y="397.8" font-size="15.4" text-anchor="middle" fill="#000" textLength="7.9" lengthAdjust="spacingAndGlyphs">0</text>
<text x="158.4" y="397.8" font-size="15.4" text-anchor="middle" fill="#000" textLength="23.8" lengthAdjust="spacingAndGlyphs">100</text>
<text x="210.3" y="397.8" font-size="15.4" text-anchor="middle" fill="#000" textLength="23.8" lengthAdjust="spacingAndGlyphs">200</text>
<text x="133" y="418" font-size="14.7" text-anchor="middle" font-weight="normal" fill="#000" >Time re: stim onset (ms)</text>
<text transform="translate(15 317.3) rotate(-90)" font-size="14.7" text-anchor="middle" fill="#000">Voltage (mV)</text>
<text x="162.5" y="357.4" font-size="12.8" text-anchor="start" font-weight="bold" fill="#111" >W1, no light</text>
<text x="162.5" y="369" font-size="12.8" text-anchor="start" font-weight="bold" fill="#999" >W1 + light</text>
<text x="248.7" y="245.3" font-size="24" text-anchor="start" font-weight="bold" fill="#000" >E</text>
<rect x="324.7" y="252.4" width="78.9" height="5" fill="#999"/>
<path d="M282.8 286.6 L283.1 286.7 L283.4 286.7 L283.7 286.8 L284 286.8 L284.3 286.9 L284.6 286.9 L285 287 L285.3 287 L285.6 287.1 L285.9 287.1 L286.2 287.1 L286.5 287.2 L286.8 287.2 L287.1 287.3 L287.4 287.3 L287.8 287.3 L288.1 287.4 L288.4 287.4 L288.7 287.5 L289 287.5 L289.3 287.5 L289.6 287.6 L289.9 287.6 L290.2 287.7 L290.6 287.7 L290.9 287.8 L291.2 287.8 L291.5 287.9 L291.8 287.9 L292.1 287.9 L292.4 288 L292.7 288 L293.1 288 L293.4 288 L293.7 288 L294 288 L294.3 287.9 L294.6 287.9 L294.9 287.8 L295.2 287.7 L295.5 287.6 L295.9 287.4 L296.2 287.3 L296.5 287.1 L296.8 286.9 L297.1 286.7 L297.4 286.5 L297.7 286.2 L298 286 L298.4 285.8 L298.7 285.5 L299 285.3 L299.3 285 L299.6 284.8 L299.9 284.5 L300.2 284.3 L300.5 284 L300.8 283.8 L301.2 283.6 L301.5 283.4 L301.8 283.1 L302.1 282.9 L302.4 282.7 L302.7 282.5 L303 282.3 L303.3 282.1 L303.6 281.8 L304 281.6 L304.3 281.4 L304.6 281.2 L304.9 281 L305.2 280.7 L305.5 280.5 L305.8 280.3 L306.1 280 L306.5 279.8 L306.8 279.6 L307.1 279.4 L307.4 279.1 L307.7 278.9 L308 278.6 L308.3 278.4 L308.6 278.2 L308.9 277.9 L309.3 277.7 L309.6 277.4 L309.9 277.1 L310.2 276.9 L310.5 276.6 L310.8 276.4 L311.1 276.1 L311.4 275.8 L311.7 275.6 L312.1 275.3 L312.4 275 L312.7 274.7 L313 274.4 L313.3 274.1 L313.6 273.9 L313.9 273.6 L314.2 273.2 L314.6 272.9 L314.9 272.5 L315.2 272.1 L315.5 271.7 L315.8 271.3 L316.1 270.8 L316.4 270.4 L316.7 269.9 L317 269.4 L317.4 268.9 L317.7 268.4 L318 267.9 L318.3 267.4 L318.6 266.9 L318.9 266.4 L319.2 265.9 L319.5 265.4 L319.9 264.9 L320.2 264.4 L320.5 263.9 L320.8 263.4 L321.1 262.9 L321.4 262.5 L321.7 262 L322 261.6 L322.3 261.2 L322.7 260.9 L323 260.5 L323.3 260.2 L323.6 259.9 L323.9 259.6 L324.2 259.4 L324.5 259.2 L324.8 259.1 L325.1 259.1 L325.5 259.1 L325.8 259.1 L326.1 259.2 L326.4 259.3 L326.7 259.4 L327 259.6 L327.3 259.8 L327.6 260.1 L328 260.4 L328.3 260.7 L328.6 261.1 L328.9 261.5 L329.2 261.9 L329.5 262.4 L329.8 262.9 L330.1 263.4 L330.4 264 L330.8 264.5 L331.1 265.2 L331.4 265.8 L331.7 266.5 L332 267.2 L332.3 267.9 L332.6 268.7 L332.9 269.4 L333.2 270.2 L333.6 271 L333.9 271.9 L334.2 272.7 L334.5 273.6 L334.8 274.5 L335.1 276 L335.4 277.8 L335.7 279.5 L336.1 280.8 L336.4 281.6 L336.7 282.2 L337 282.7 L337.3 283.1 L337.6 283.4 L337.9 283.7 L338.2 284.1 L338.5 284.5 L338.9 284.9 L339.2 285.5 L339.5 286.3 L339.8 287.3 L340.1 288.4 L340.4 289.7 L340.7 291 L341 292.4 L341.4 293.8 L341.7 295.2 L342 296.7 L342.3 298.2 L342.6 299.7 L342.9 301.4 L343.2 303 L343.5 304.7 L343.8 306.4 L344.2 308.1 L344.5 310 L344.8 311.9 L345.1 313.8 L345.4 315.8 L345.7 317.7 L346 319.4 L346.3 320.9 L346.6 322.3 L347 323.5 L347.3 324.6 L347.6 325.7 L347.9 326.7 L348.2 327.7 L348.5 328.7 L348.8 329.7 L349.1 330.7 L349.5 331.9 L349.8 333.3 L350.1 334.9 L350.4 336.8 L350.7 338.4 L351 339.5 L351.3 339.9 L351.6 340.1 L351.9 340.2 L352.3 340.3 L352.6 340.3 L352.9 340.3 L353.2 340.2 L353.5 340.1 L353.8 339.9 L354.1 339.8 L354.4 339.6 L354.8 339.4 L355.1 339.2 L355.4 338.8 L355.7 338.2 L356 337.4 L356.3 336.6 L356.6 335.7 L356.9 334.7 L357.2 333.7 L357.6 332.6 L357.9 331.5 L358.2 330.4 L358.5 329.2 L358.8 328 L359.1 326.9 L359.4 325.8 L359.7 324.6 L360 323.6 L360.4 322.5 L360.7 321.4 L361 320.2 L361.3 318.9 L361.6 317.7 L361.9 316.5 L362.2 315.2 L362.5 314 L362.9 312.8 L363.2 311.7 L363.5 310.6 L363.8 309.5 L364.1 308.6 L364.4 307.7 L364.7 306.8 L365 306 L365.3 305.3 L365.7 304.5 L366 303.7 L366.3 302.9 L366.6 302.2 L366.9 301.4 L367.2 300.6 L367.5 299.8 L367.8 299 L368.1 298.2 L368.5 297.4 L368.8 296.5 L369.1 295.6 L369.4 294.7 L369.7 293.6 L370 292.6 L370.3 291.5 L370.6 290.4 L371 289.4 L371.3 288.3 L371.6 287.3 L371.9 286.3 L372.2 285.3 L372.5 284.4 L372.8 283.6 L373.1 282.9 L373.4 282.3 L373.8 281.8 L374.1 281.3 L374.4 280.8 L374.7 280.4 L375 280 L375.3 279.6 L375.6 279.2 L375.9 278.8 L376.3 278.6 L376.6 278.3 L376.9 278.1 L377.2 277.9 L377.5 277.6 L377.8 277.4 L378.1 277.2 L378.4 277 L378.7 276.8 L379.1 276.6 L379.4 276.4 L379.7 276.1 L380 275.9 L380.3 275.6 L380.6 275.4 L380.9 275.1 L381.2 274.8 L381.5 274.4 L381.9 274 L382.2 273.5 L382.5 273 L382.8 272.5 L383.1 272 L383.4 271.6 L383.7 271.2 L384 270.9 L384.4 270.6 L384.7 270.6 L385 270.6 L385.3 270.7 L385.6 270.8 L385.9 270.9 L386.2 271 L386.5 271.1 L386.8 271.1 L387.2 271.2 L387.5 271.2 L387.8 271.3 L388.1 271.4 L388.4 271.4 L388.7 271.5 L389 271.5 L389.3 271.6 L389.6 271.7 L390 271.8 L390.3 271.8 L390.6 271.9 L390.9 272 L391.2 272.1 L391.5 272.1 L391.8 272.3 L392.1 272.4 L392.5 272.5 L392.8 272.7 L393.1 272.8 L393.4 273 L393.7 273.2 L394 273.4 L394.3 273.6 L394.6 273.8 L394.9 274.1 L395.3 274.3 L395.6 274.6 L395.9 274.8 L396.2 275.1 L396.5 275.3 L396.8 275.6 L397.1 275.9 L397.4 276.1 L397.8 276.4 L398.1 276.7 L398.4 276.9 L398.7 277.2 L399 277.5 L399.3 277.7 L399.6 278 L399.9 278.3 L400.2 278.5 L400.6 278.7 L400.9 279 L401.2 279.2 L401.5 279.4 L401.8 279.6 L402.1 279.8 L402.4 280 L402.7 280.2 L403 280.4 L403.4 280.5 L403.7 280.7 L404 280.8 L404.3 281 L404.6 281.2 L404.9 281.3 L405.2 281.5 L405.5 281.6 L405.9 281.8 L406.2 281.9 L406.5 282 L406.8 282.2 L407.1 282.3 L407.4 282.3 L407.7 282.4 L408 282.4 L408.3 282.5 L408.7 282.5 L409 282.5 L409.3 282.4 L409.6 282.4 L409.9 282.3 L410.2 282.3 L410.5 282.2 L410.8 282.1 L411.2 282 L411.5 281.9 L411.8 281.8 L412.1 281.7 L412.4 281.5 L412.7 281.4 L413 281.3 L413.3 281.2 L413.6 281.1 L414 280.9 L414.3 280.8 L414.6 280.7 L414.9 280.6 L415.2 280.5 L415.5 280.5 L415.8 280.4 L416.1 280.3 L416.4 280.3 L416.8 280.3 L417.1 280.2 L417.4 280.3 L417.7 280.3 L418 280.3 L418.3 280.4 L418.6 280.4 L418.9 280.5 L419.3 280.5 L419.6 280.6 L419.9 280.7 L420.2 280.7 L420.5 280.8 L420.8 280.9 L421.1 281 L421.4 281.1 L421.7 281.2 L422.1 281.3 L422.4 281.4 L422.7 281.5 L423 281.6 L423.3 281.8 L423.6 281.9 L423.9 282 L424.2 282.1 L424.5 282.3 L424.9 282.4 L425.2 282.5 L425.5 282.6 L425.8 282.8 L426.1 282.9 L426.4 283 L426.7 283.1 L427 283.3 L427.4 283.4 L427.7 283.5 L428 283.6 L428.3 283.8 L428.6 283.9 L428.9 284 L429.2 284.2 L429.5 284.3 L429.8 284.5 L430.2 284.6 L430.5 284.8 L430.8 284.9 L431.1 285.1 L431.4 285.2 L431.7 285.4 L432 285.5 L432.3 285.7 L432.7 285.9 L433 286 L433.3 286.2 L433.6 286.4 L433.9 286.6 L434.2 286.7 L434.5 286.9 L434.8 287.1 L435.1 287.3 L435.5 287.5 L435.8 287.7 L436.1 287.8 L436.4 288 L436.7 288.2 L437 288.4 L437.3 288.6 L437.6 288.8 L437.9 289 L438.3 289.2 L438.3 295 L437.9 294.9 L437.6 294.7 L437.3 294.6 L437 294.4 L436.7 294.3 L436.4 294.1 L436.1 294 L435.8 293.9 L435.5 293.7 L435.1 293.6 L434.8 293.4 L434.5 293.3 L434.2 293.2 L433.9 293.1 L433.6 292.9 L433.3 292.8 L433 292.7 L432.7 292.6 L432.3 292.5 L432 292.4 L431.7 292.2 L431.4 292.1 L431.1 292 L430.8 291.9 L430.5 291.8 L430.2 291.7 L429.8 291.6 L429.5 291.6 L429.2 291.5 L428.9 291.4 L428.6 291.3 L428.3 291.2 L428 291.1 L427.7 291.1 L427.4 291 L427 290.9 L426.7 290.8 L426.4 290.8 L426.1 290.7 L425.8 290.6 L425.5 290.6 L425.2 290.5 L424.9 290.4 L424.5 290.3 L424.2 290.3 L423.9 290.2 L423.6 290.1 L423.3 290 L423 290 L422.7 289.9 L422.4 289.9 L422.1 289.8 L421.7 289.7 L421.4 289.7 L421.1 289.7 L420.8 289.6 L420.5 289.6 L420.2 289.5 L419.9 289.5 L419.6 289.5 L419.3 289.5 L418.9 289.5 L418.6 289.5 L418.3 289.5 L418 289.5 L417.7 289.5 L417.4 289.5 L417.1 289.6 L416.8 289.6 L416.4 289.7 L416.1 289.8 L415.8 289.9 L415.5 290 L415.2 290.1 L414.9 290.3 L414.6 290.4 L414.3 290.6 L414 290.7 L413.6 290.9 L413.3 291 L413 291.2 L412.7 291.4 L412.4 291.6 L412.1 291.7 L411.8 291.9 L411.5 292 L411.2 292.2 L410.8 292.3 L410.5 292.5 L410.2 292.6 L409.9 292.7 L409.6 292.8 L409.3 292.9 L409 293 L408.7 293 L408.3 293.1 L408 293.1 L407.7 293.1 L407.4 293.1 L407.1 293 L406.8 293 L406.5 292.9 L406.2 292.9 L405.9 292.8 L405.5 292.7 L405.2 292.6 L404.9 292.4 L404.6 292.3 L404.3 292.2 L404 292.1 L403.7 292 L403.4 291.9 L403 291.8 L402.7 291.6 L402.4 291.5 L402.1 291.4 L401.8 291.2 L401.5 291.1 L401.2 290.9 L400.9 290.8 L400.6 290.6 L400.2 290.4 L399.9 290.2 L399.6 290 L399.3 289.8 L399 289.6 L398.7 289.4 L398.4 289.2 L398.1 289 L397.8 288.7 L397.4 288.5 L397.1 288.3 L396.8 288.1 L396.5 287.9 L396.2 287.7 L395.9 287.5 L395.6 287.3 L395.3 287.1 L394.9 286.9 L394.6 286.8 L394.3 286.6 L394 286.4 L393.7 286.3 L393.4 286.2 L393.1 286 L392.8 285.9 L392.5 285.8 L392.1 285.8 L391.8 285.7 L391.5 285.6 L391.2 285.6 L390.9 285.6 L390.6 285.6 L390.3 285.6 L390 285.5 L389.6 285.5 L389.3 285.5 L389 285.5 L388.7 285.5 L388.4 285.5 L388.1 285.5 L387.8 285.5 L387.5 285.5 L387.2 285.5 L386.8 285.5 L386.5 285.5 L386.2 285.6 L385.9 285.6 L385.6 285.7 L385.3 285.8 L385 285.9 L384.7 286 L384.4 286.3 L384 286.6 L383.7 287.1 L383.4 287.7 L383.1 288.3 L382.8 289 L382.5 289.7 L382.2 290.3 L381.9 291 L381.5 291.6 L381.2 292.1 L380.9 292.6 L380.6 293.1 L380.3 293.5 L380 293.9 L379.7 294.3 L379.4 294.8 L379.1 295.1 L378.7 295.5 L378.4 295.9 L378.1 296.3 L377.8 296.7 L377.5 297.1 L377.2 297.5 L376.9 297.9 L376.6 298.3 L376.3 298.7 L375.9 299.1 L375.6 299.4 L375.3 299.8 L375 300.2 L374.7 300.6 L374.4 301.1 L374.1 301.5 L373.8 302 L373.4 302.6 L373.1 303.2 L372.8 303.9 L372.5 304.7 L372.2 305.6 L371.9 306.5 L371.6 307.5 L371.3 308.5 L371 309.6 L370.6 310.7 L370.3 311.8 L370 312.8 L369.7 313.9 L369.4 314.9 L369.1 315.9 L368.8 316.8 L368.5 317.6 L368.1 318.5 L367.8 319.3 L367.5 320.1 L367.2 320.8 L366.9 321.6 L366.6 322.4 L366.3 323.2 L366 324 L365.7 324.8 L365.3 325.7 L365 326.6 L364.7 327.6 L364.4 328.6 L364.1 329.7 L363.8 330.8 L363.5 332 L363.2 333.3 L362.9 334.6 L362.5 336 L362.2 337.4 L361.9 338.8 L361.6 340.2 L361.3 341.6 L361 343 L360.7 344.4 L360.4 345.7 L360 347 L359.7 348.2 L359.4 349.5 L359.1 350.8 L358.8 352.1 L358.5 353.4 L358.2 354.8 L357.9 356.1 L357.6 357.4 L357.2 358.6 L356.9 359.8 L356.6 361 L356.3 362.1 L356 363.1 L355.7 364 L355.4 364.8 L355.1 365.6 L354.8 366.4 L354.4 367.1 L354.1 367.8 L353.8 368.5 L353.5 369.1 L353.2 369.8 L352.9 370.4 L352.6 370.9 L352.3 371.4 L351.9 371.9 L351.6 372.3 L351.3 372.6 L351 372.7 L350.7 372.2 L350.4 371 L350.1 369.5 L349.8 367.5 L349.5 365.8 L349.1 364.3 L348.8 362.9 L348.5 361.5 L348.2 360.2 L347.9 358.9 L347.6 357.5 L347.3 356.1 L347 354.6 L346.6 353 L346.3 351.4 L346 349.5 L345.7 347.4 L345.4 345.2 L345.1 342.9 L344.8 340.5 L344.5 338 L344.2 335.7 L343.8 333.4 L343.5 331.2 L343.2 329 L342.9 326.8 L342.6 324.7 L342.3 322.6 L342 320.6 L341.7 318.6 L341.4 316.7 L341 314.7 L340.7 312.8 L340.4 311 L340.1 309.2 L339.8 307.6 L339.5 306.2 L339.2 305.1 L338.9 304.1 L338.5 303.3 L338.2 302.6 L337.9 301.9 L337.6 301.2 L337.3 300.5 L337 299.8 L336.7 299 L336.4 298 L336.1 296.9 L335.7 295.2 L335.4 293.1 L335.1 291 L334.8 289.2 L334.5 288.1 L334.2 287.3 L333.9 286.5 L333.6 285.8 L333.2 285 L332.9 284.3 L332.6 283.7 L332.3 283 L332 282.4 L331.7 281.7 L331.4 281.2 L331.1 280.6 L330.8 280.1 L330.4 279.6 L330.1 279.1 L329.8 278.6 L329.5 278.2 L329.2 277.8 L328.9 277.5 L328.6 277.2 L328.3 276.9 L328 276.7 L327.6 276.5 L327.3 276.3 L327 276.1 L326.7 276 L326.4 276 L326.1 276 L325.8 276 L325.5 276.1 L325.1 276.2 L324.8 276.3 L324.5 276.5 L324.2 276.7 L323.9 276.9 L323.6 277.1 L323.3 277.3 L323 277.6 L322.7 277.8 L322.3 278.2 L322 278.5 L321.7 278.8 L321.4 279.2 L321.1 279.6 L320.8 280 L320.5 280.4 L320.2 280.8 L319.9 281.2 L319.5 281.7 L319.2 282.1 L318.9 282.5 L318.6 283 L318.3 283.4 L318 283.9 L317.7 284.3 L317.4 284.7 L317 285.2 L316.7 285.6 L316.4 286 L316.1 286.4 L315.8 286.8 L315.5 287.1 L315.2 287.5 L314.9 287.8 L314.6 288.1 L314.2 288.3 L313.9 288.6 L313.6 288.8 L313.3 289 L313 289.3 L312.7 289.5 L312.4 289.7 L312.1 289.9 L311.7 290.1 L311.4 290.3 L311.1 290.5 L310.8 290.7 L310.5 290.9 L310.2 291.1 L309.9 291.3 L309.6 291.5 L309.3 291.7 L308.9 291.8 L308.6 292 L308.3 292.2 L308 292.4 L307.7 292.5 L307.4 292.7 L307.1 292.9 L306.8 293 L306.5 293.2 L306.1 293.4 L305.8 293.5 L305.5 293.7 L305.2 293.8 L304.9 294 L304.6 294.1 L304.3 294.3 L304 294.4 L303.6 294.6 L303.3 294.7 L303 294.9 L302.7 295 L302.4 295.2 L302.1 295.3 L301.8 295.5 L301.5 295.6 L301.2 295.8 L300.8 295.9 L300.5 296.1 L300.2 296.3 L299.9 296.4 L299.6 296.6 L299.3 296.8 L299 297 L298.7 297.2 L298.4 297.3 L298 297.5 L297.7 297.7 L297.4 297.8 L297.1 298 L296.8 298.1 L296.5 298.2 L296.2 298.3 L295.9 298.4 L295.5 298.5 L295.2 298.6 L294.9 298.6 L294.6 298.6 L294.3 298.6 L294 298.6 L293.7 298.5 L293.4 298.5 L293.1 298.4 L292.7 298.3 L292.4 298.2 L292.1 298.1 L291.8 298 L291.5 297.9 L291.2 297.8 L290.9 297.7 L290.6 297.6 L290.2 297.4 L289.9 297.3 L289.6 297.2 L289.3 297.1 L289 297 L288.7 296.9 L288.4 296.8 L288.1 296.7 L287.8 296.5 L287.4 296.4 L287.1 296.3 L286.8 296.2 L286.5 296.1 L286.2 296 L285.9 295.9 L285.6 295.8 L285.3 295.7 L285 295.5 L284.6 295.4 L284.3 295.3 L284 295.2 L283.7 295.1 L283.4 295 L283.1 294.8 L282.8 294.7 Z" fill="#d4d4d4" stroke="none"/>
<path d="M282.8 288.6 L283.1 288.6 L283.4 288.6 L283.7 288.6 L284 288.6 L284.3 288.6 L284.6 288.6 L285 288.6 L285.3 288.6 L285.6 288.6 L285.9 288.6 L286.2 288.6 L286.5 288.6 L286.8 288.6 L287.1 288.6 L287.4 288.5 L287.8 288.5 L288.1 288.5 L288.4 288.5 L288.7 288.5 L289 288.5 L289.3 288.5 L289.6 288.4 L289.9 288.4 L290.2 288.4 L290.6 288.4 L290.9 288.4 L291.2 288.3 L291.5 288.3 L291.8 288.3 L292.1 288.3 L292.4 288.2 L292.7 288.2 L293.1 288.2 L293.4 288.2 L293.7 288.1 L294 288.1 L294.3 288.1 L294.6 288 L294.9 288 L295.2 288 L295.5 287.9 L295.9 287.9 L296.2 287.9 L296.5 287.8 L296.8 287.8 L297.1 287.8 L297.4 287.7 L297.7 287.7 L298 287.7 L298.4 287.6 L298.7 287.6 L299 287.5 L299.3 287.5 L299.6 287.5 L299.9 287.4 L300.2 287.4 L300.5 287.3 L300.8 287.3 L301.2 287.2 L301.5 287.2 L301.8 287.1 L302.1 287.1 L302.4 287 L302.7 286.9 L303 286.8 L303.3 286.6 L303.6 286.5 L304 286.4 L304.3 286.2 L304.6 286 L304.9 285.9 L305.2 285.7 L305.5 285.5 L305.8 285.3 L306.1 285 L306.5 284.8 L306.8 284.6 L307.1 284.3 L307.4 284.1 L307.7 283.8 L308 283.6 L308.3 283.3 L308.6 283 L308.9 282.8 L309.3 282.5 L309.6 282.2 L309.9 281.9 L310.2 281.6 L310.5 281.3 L310.8 281.1 L311.1 280.8 L311.4 280.5 L311.7 280.2 L312.1 279.9 L312.4 279.6 L312.7 279.3 L313 279 L313.3 278.7 L313.6 278.5 L313.9 278.2 L314.2 277.9 L314.6 277.6 L314.9 277.2 L315.2 276.8 L315.5 276.5 L315.8 276.1 L316.1 275.6 L316.4 275.2 L316.7 274.7 L317 274.3 L317.4 273.8 L317.7 273.3 L318 272.9 L318.3 272.4 L318.6 271.9 L318.9 271.4 L319.2 270.9 L319.5 270.4 L319.9 269.9 L320.2 269.5 L320.5 269 L320.8 268.6 L321.1 268.1 L321.4 267.7 L321.7 267.3 L322 266.9 L322.3 266.5 L322.7 266.2 L323 265.9 L323.3 265.6 L323.6 265.3 L323.9 265.1 L324.2 264.9 L324.5 264.7 L324.8 264.6 L325.1 264.5 L325.5 264.4 L325.8 264.4 L326.1 264.4 L326.4 264.5 L326.7 264.6 L327 264.8 L327.3 265 L327.6 265.2 L328 265.5 L328.3 265.9 L328.6 266.3 L328.9 266.7 L329.2 267.1 L329.5 267.5 L329.8 268 L330.1 268.5 L330.4 269 L330.8 269.6 L331.1 270.1 L331.4 270.6 L331.7 271.2 L332 271.8 L332.3 272.3 L332.6 272.9 L332.9 273.4 L333.2 274 L333.6 274.5 L333.9 275.1 L334.2 275.6 L334.5 276.1 L334.8 276.5 L335.1 277.1 L335.4 277.7 L335.7 278.3 L336.1 279 L336.4 279.7 L336.7 280.3 L337 281 L337.3 281.7 L337.6 282.4 L337.9 283 L338.2 283.6 L338.5 284.2 L338.9 284.7 L339.2 285.1 L339.5 285.5 L339.8 285.8 L340.1 286 L340.4 286.1 L340.7 286.1 L341 286.2 L341.4 286.2 L341.7 286.2 L342 286.3 L342.3 286.3 L342.6 286.4 L342.9 286.8 L343.2 287.3 L343.5 288 L343.8 288.9 L344.2 289.9 L344.5 291.1 L344.8 292.3 L345.1 293.7 L345.4 295.2 L345.7 296.7 L346 298.2 L346.3 299.8 L346.6 301.5 L347 303.1 L347.3 304.7 L347.6 306.2 L347.9 307.8 L348.2 309.2 L348.5 310.6 L348.8 311.9 L349.1 313.4 L349.5 315 L349.8 316.7 L350.1 318.4 L350.4 320.2 L350.7 322 L351 323.9 L351.3 325.7 L351.6 327.5 L351.9 329.2 L352.3 330.8 L352.6 332.4 L352.9 333.8 L353.2 335 L353.5 336.1 L353.8 337 L354.1 337.7 L354.4 338.2 L354.8 338.3 L355.1 338.3 L355.4 338.1 L355.7 337.9 L356 337.5 L356.3 337 L356.6 336.5 L356.9 335.8 L357.2 335.1 L357.6 334.4 L357.9 333.6 L358.2 332.7 L358.5 331.9 L358.8 331 L359.1 330.1 L359.4 329.2 L359.7 328.3 L360 327.5 L360.4 326.7 L360.7 325.9 L361 325.2 L361.3 324.5 L361.6 323.8 L361.9 323.1 L362.2 322.4 L362.5 321.6 L362.9 320.9 L363.2 320.2 L363.5 319.5 L363.8 318.7 L364.1 318 L364.4 317.3 L364.7 316.5 L365 315.8 L365.3 315.1 L365.7 314.4 L366 313.7 L366.3 313 L366.6 312.3 L366.9 311.6 L367.2 311 L367.5 310.3 L367.8 309.7 L368.1 309.1 L368.5 308.6 L368.8 308 L369.1 307.5 L369.4 306.9 L369.7 306.4 L370 305.9 L370.3 305.4 L370.6 304.8 L371 304.3 L371.3 303.7 L371.6 303.1 L371.9 302.5 L372.2 301.8 L372.5 301.1 L372.8 300.4 L373.1 299.6 L373.4 298.8 L373.8 297.9 L374.1 296.8 L374.4 295.5 L374.7 294.2 L375 292.8 L375.3 291.4 L375.6 290 L375.9 288.7 L376.3 287.5 L376.6 286.4 L376.9 285.4 L377.2 284.5 L377.5 283.6 L377.8 282.8 L378.1 281.9 L378.4 281.1 L378.7 280.3 L379.1 279.6 L379.4 278.8 L379.7 278.1 L380 277.4 L380.3 276.7 L380.6 276.1 L380.9 275.4 L381.2 274.8 L381.5 274.1 L381.9 273.5 L382.2 272.8 L382.5 272.1 L382.8 271.4 L383.1 270.7 L383.4 270 L383.7 269.4 L384 268.7 L384.4 268.2 L384.7 267.6 L385 267.2 L385.3 266.8 L385.6 266.5 L385.9 266.2 L386.2 266.1 L386.5 266.1 L386.8 266.2 L387.2 266.5 L387.5 266.8 L387.8 267.2 L388.1 267.8 L388.4 268.3 L388.7 268.9 L389 269.6 L389.3 270.2 L389.6 270.9 L390 271.5 L390.3 272.1 L390.6 272.6 L390.9 273.1 L391.2 273.5 L391.5 273.8 L391.8 274.2 L392.1 274.5 L392.5 274.9 L392.8 275.3 L393.1 275.6 L393.4 276 L393.7 276.4 L394 276.8 L394.3 277.1 L394.6 277.5 L394.9 277.8 L395.3 278.2 L395.6 278.5 L395.9 278.9 L396.2 279.2 L396.5 279.5 L396.8 279.9 L397.1 280.2 L397.4 280.5 L397.8 280.8 L398.1 281 L398.4 281.3 L398.7 281.6 L399 281.8 L399.3 282 L399.6 282.2 L399.9 282.4 L400.2 282.6 L400.6 282.8 L400.9 282.9 L401.2 283.1 L401.5 283.2 L401.8 283.3 L402.1 283.3 L402.4 283.4 L402.7 283.4 L403 283.4 L403.4 283.4 L403.7 283.4 L404 283.4 L404.3 283.4 L404.6 283.4 L404.9 283.4 L405.2 283.3 L405.5 283.3 L405.9 283.3 L406.2 283.3 L406.5 283.2 L406.8 283.2 L407.1 283.2 L407.4 283.1 L407.7 283.1 L408 283 L408.3 283 L408.7 283 L409 282.9 L409.3 282.9 L409.6 282.8 L409.9 282.8 L410.2 282.7 L410.5 282.7 L410.8 282.6 L411.2 282.6 L411.5 282.5 L411.8 282.5 L412.1 282.5 L412.4 282.4 L412.7 282.4 L413 282.3 L413.3 282.3 L413.6 282.3 L414 282.2 L414.3 282.2 L414.6 282.1 L414.9 282.1 L415.2 282.1 L415.5 282.1 L415.8 282.1 L416.1 282 L416.4 282 L416.8 282 L417.1 282 L417.4 282 L417.7 282 L418 282 L418.3 282 L418.6 282 L418.9 282 L419.3 282.1 L419.6 282.1 L419.9 282.1 L420.2 282.2 L420.5 282.2 L420.8 282.3 L421.1 282.3 L421.4 282.4 L421.7 282.4 L422.1 282.5 L422.4 282.5 L422.7 282.6 L423 282.7 L423.3 282.8 L423.6 282.9 L423.9 282.9 L424.2 283 L424.5 283.1 L424.9 283.2 L425.2 283.3 L425.5 283.4 L425.8 283.5 L426.1 283.7 L426.4 283.8 L426.7 283.9 L427 284 L427.4 284.1 L427.7 284.3 L428 284.4 L428.3 284.5 L428.6 284.7 L428.9 284.8 L429.2 285 L429.5 285.1 L429.8 285.3 L430.2 285.4 L430.5 285.6 L430.8 285.7 L431.1 285.9 L431.4 286.1 L431.7 286.3 L432 286.4 L432.3 286.6 L432.7 286.8 L433 287 L433.3 287.1 L433.6 287.3 L433.9 287.5 L434.2 287.7 L434.5 287.9 L434.8 288.1 L435.1 288.3 L435.5 288.5 L435.8 288.7 L436.1 288.9 L436.4 289.1 L436.7 289.3 L437 289.5 L437.3 289.7 L437.6 289.9 L437.9 290.2 L438.3 290.4 L438.3 293.8 L437.9 293.7 L437.6 293.5 L437.3 293.4 L437 293.2 L436.7 293 L436.4 292.9 L436.1 292.7 L435.8 292.6 L435.5 292.4 L435.1 292.3 L434.8 292.2 L434.5 292 L434.2 291.9 L433.9 291.7 L433.6 291.6 L433.3 291.5 L433 291.3 L432.7 291.2 L432.3 291.1 L432 290.9 L431.7 290.8 L431.4 290.7 L431.1 290.6 L430.8 290.4 L430.5 290.3 L430.2 290.2 L429.8 290.1 L429.5 290 L429.2 289.9 L428.9 289.8 L428.6 289.7 L428.3 289.6 L428 289.5 L427.7 289.4 L427.4 289.3 L427 289.2 L426.7 289.1 L426.4 289 L426.1 288.9 L425.8 288.9 L425.5 288.8 L425.2 288.7 L424.9 288.6 L424.5 288.6 L424.2 288.5 L423.9 288.4 L423.6 288.4 L423.3 288.3 L423 288.3 L422.7 288.2 L422.4 288.2 L422.1 288.1 L421.7 288.1 L421.4 288 L421.1 288 L420.8 288 L420.5 287.9 L420.2 287.9 L419.9 287.9 L419.6 287.8 L419.3 287.8 L418.9 287.8 L418.6 287.8 L418.3 287.8 L418 287.8 L417.7 287.8 L417.4 287.8 L417.1 287.8 L416.8 287.8 L416.4 287.8 L416.1 287.8 L415.8 287.8 L415.5 287.8 L415.2 287.9 L414.9 287.9 L414.6 287.9 L414.3 287.9 L414 288 L413.6 288 L413.3 288 L413 288.1 L412.7 288.1 L412.4 288.2 L412.1 288.2 L411.8 288.2 L411.5 288.3 L411.2 288.3 L410.8 288.4 L410.5 288.4 L410.2 288.5 L409.9 288.5 L409.6 288.5 L409.3 288.6 L409 288.6 L408.7 288.7 L408.3 288.7 L408 288.8 L407.7 288.8 L407.4 288.8 L407.1 288.9 L406.8 288.9 L406.5 289 L406.2 289 L405.9 289 L405.5 289.1 L405.2 289.1 L404.9 289.1 L404.6 289.1 L404.3 289.2 L404 289.2 L403.7 289.2 L403.4 289.2 L403 289.2 L402.7 289.2 L402.4 289.2 L402.1 289.2 L401.8 289.3 L401.5 289.3 L401.2 289.3 L400.9 289.3 L400.6 289.3 L400.2 289.3 L399.9 289.3 L399.6 289.3 L399.3 289.3 L399 289.3 L398.7 289.3 L398.4 289.3 L398.1 289.3 L397.8 289.3 L397.4 289.3 L397.1 289.3 L396.8 289.3 L396.5 289.3 L396.2 289.3 L395.9 289.3 L395.6 289.3 L395.3 289.3 L394.9 289.3 L394.6 289.4 L394.3 289.4 L394 289.4 L393.7 289.4 L393.4 289.4 L393.1 289.4 L392.8 289.4 L392.5 289.4 L392.1 289.4 L391.8 289.4 L391.5 289.4 L391.2 289.4 L390.9 289.4 L390.6 289.4 L390.3 289.4 L390 289.4 L389.6 289.4 L389.3 289.4 L389 289.4 L388.7 289.4 L388.4 289.4 L388.1 289.5 L387.8 289.5 L387.5 289.5 L387.2 289.5 L386.8 289.5 L386.5 289.5 L386.2 289.5 L385.9 289.5 L385.6 289.6 L385.3 289.6 L385 289.7 L384.7 289.8 L384.4 289.9 L384 290 L383.7 290.1 L383.4 290.2 L383.1 290.3 L382.8 290.5 L382.5 290.6 L382.2 290.8 L381.9 291 L381.5 291.1 L381.2 291.3 L380.9 291.5 L380.6 291.7 L380.3 291.9 L380 292.2 L379.7 292.4 L379.4 292.6 L379.1 292.9 L378.7 293.1 L378.4 293.4 L378.1 293.6 L377.8 293.9 L377.5 294.2 L377.2 294.5 L376.9 294.7 L376.6 295 L376.3 295.3 L375.9 295.7 L375.6 296.1 L375.3 296.6 L375 297.1 L374.7 297.6 L374.4 298.2 L374.1 298.8 L373.8 299.5 L373.4 300.2 L373.1 300.9 L372.8 301.6 L372.5 302.4 L372.2 303.2 L371.9 304 L371.6 304.8 L371.3 305.6 L371 306.4 L370.6 307.3 L370.3 308.1 L370 309 L369.7 309.8 L369.4 310.8 L369.1 311.7 L368.8 312.8 L368.5 313.8 L368.1 314.9 L367.8 316 L367.5 317.1 L367.2 318.2 L366.9 319.4 L366.6 320.7 L366.3 321.9 L366 323.2 L365.7 324.5 L365.3 325.8 L365 327.2 L364.7 328.6 L364.4 330 L364.1 331.4 L363.8 332.8 L363.5 334.3 L363.2 335.9 L362.9 337.6 L362.5 339.6 L362.2 341.7 L361.9 343.9 L361.6 346.3 L361.3 348.6 L361 351.1 L360.7 353.5 L360.4 356 L360 358.4 L359.7 360.7 L359.4 362.9 L359.1 365 L358.8 367 L358.5 368.8 L358.2 370.3 L357.9 371.7 L357.6 372.7 L357.2 373.5 L356.9 374.1 L356.6 374.6 L356.3 375.2 L356 375.6 L355.7 376 L355.4 376.3 L355.1 376.5 L354.8 376.5 L354.4 376.3 L354.1 375.9 L353.8 375.3 L353.5 374.6 L353.2 373.6 L352.9 372.5 L352.6 371.2 L352.3 369.8 L351.9 368.3 L351.6 366.7 L351.3 365 L351 363.2 L350.7 361.4 L350.4 359.6 L350.1 357.8 L349.8 355.9 L349.5 354.1 L349.1 352.3 L348.8 350.5 L348.5 348.8 L348.2 347.2 L347.9 345.7 L347.6 344.2 L347.3 342.7 L347 341.3 L346.6 339.8 L346.3 338.3 L346 336.8 L345.7 335.3 L345.4 333.8 L345.1 332.3 L344.8 330.8 L344.5 329.3 L344.2 327.8 L343.8 326.3 L343.5 324.7 L343.2 323.2 L342.9 321.6 L342.6 320.1 L342.3 318.5 L342 316.9 L341.7 315.3 L341.4 313.5 L341 311.8 L340.7 310 L340.4 308.3 L340.1 306.5 L339.8 304.8 L339.5 303.1 L339.2 301.5 L338.9 299.9 L338.5 298.4 L338.2 297.1 L337.9 295.8 L337.6 294.7 L337.3 293.6 L337 292.5 L336.7 291.5 L336.4 290.5 L336.1 289.5 L335.7 288.7 L335.4 287.9 L335.1 287.2 L334.8 286.7 L334.5 286.2 L334.2 285.7 L333.9 285.3 L333.6 284.9 L333.2 284.5 L332.9 284.1 L332.6 283.7 L332.3 283.3 L332 282.9 L331.7 282.6 L331.4 282.2 L331.1 281.9 L330.8 281.5 L330.4 281.2 L330.1 280.9 L329.8 280.7 L329.5 280.4 L329.2 280.2 L328.9 279.9 L328.6 279.7 L328.3 279.5 L328 279.4 L327.6 279.2 L327.3 279.1 L327 279 L326.7 278.9 L326.4 278.9 L326.1 278.8 L325.8 278.8 L325.5 278.8 L325.1 278.8 L324.8 278.9 L324.5 278.9 L324.2 279 L323.9 279 L323.6 279.1 L323.3 279.2 L323 279.3 L322.7 279.4 L322.3 279.5 L322 279.6 L321.7 279.8 L321.4 279.9 L321.1 280 L320.8 280.2 L320.5 280.3 L320.2 280.5 L319.9 280.6 L319.5 280.8 L319.2 281 L318.9 281.1 L318.6 281.3 L318.3 281.5 L318 281.7 L317.7 281.9 L317.4 282 L317 282.2 L316.7 282.4 L316.4 282.6 L316.1 282.8 L315.8 283 L315.5 283.1 L315.2 283.3 L314.9 283.5 L314.6 283.7 L314.2 283.8 L313.9 284 L313.6 284.1 L313.3 284.3 L313 284.5 L312.7 284.7 L312.4 284.9 L312.1 285.1 L311.7 285.3 L311.4 285.5 L311.1 285.8 L310.8 286 L310.5 286.2 L310.2 286.5 L309.9 286.7 L309.6 287 L309.3 287.2 L308.9 287.5 L308.6 287.7 L308.3 288 L308 288.2 L307.7 288.5 L307.4 288.7 L307.1 288.9 L306.8 289.2 L306.5 289.4 L306.1 289.6 L305.8 289.8 L305.5 290 L305.2 290.2 L304.9 290.4 L304.6 290.6 L304.3 290.8 L304 291 L303.6 291.1 L303.3 291.3 L303 291.4 L302.7 291.5 L302.4 291.6 L302.1 291.7 L301.8 291.8 L301.5 291.8 L301.2 291.9 L300.8 291.9 L300.5 291.9 L300.2 292 L299.9 292 L299.6 292.1 L299.3 292.1 L299 292.2 L298.7 292.2 L298.4 292.2 L298 292.3 L297.7 292.3 L297.4 292.4 L297.1 292.4 L296.8 292.4 L296.5 292.5 L296.2 292.5 L295.9 292.5 L295.5 292.6 L295.2 292.6 L294.9 292.6 L294.6 292.7 L294.3 292.7 L294 292.7 L293.7 292.7 L293.4 292.8 L293.1 292.8 L292.7 292.8 L292.4 292.9 L292.1 292.9 L291.8 292.9 L291.5 292.9 L291.2 293 L290.9 293 L290.6 293 L290.2 293 L289.9 293 L289.6 293.1 L289.3 293.1 L289 293.1 L288.7 293.1 L288.4 293.1 L288.1 293.1 L287.8 293.2 L287.4 293.2 L287.1 293.2 L286.8 293.2 L286.5 293.2 L286.2 293.2 L285.9 293.2 L285.6 293.2 L285.3 293.2 L285 293.2 L284.6 293.2 L284.3 293.3 L284 293.3 L283.7 293.3 L283.4 293.3 L283.1 293.3 L282.8 293.3 Z" fill="#7a7a7a"/>
<path d="M282.8 290.7 L283.1 290.8 L283.4 290.8 L283.7 290.9 L284 291 L284.3 291.1 L284.6 291.2 L285 291.3 L285.3 291.3 L285.6 291.4 L285.9 291.5 L286.2 291.6 L286.5 291.6 L286.8 291.7 L287.1 291.8 L287.4 291.9 L287.8 291.9 L288.1 292 L288.4 292.1 L288.7 292.2 L289 292.2 L289.3 292.3 L289.6 292.4 L289.9 292.5 L290.2 292.6 L290.6 292.7 L290.9 292.7 L291.2 292.8 L291.5 292.9 L291.8 293 L292.1 293 L292.4 293.1 L292.7 293.1 L293.1 293.2 L293.4 293.2 L293.7 293.3 L294 293.3 L294.3 293.3 L294.6 293.2 L294.9 293.2 L295.2 293.1 L295.5 293 L295.9 292.9 L296.2 292.8 L296.5 292.7 L296.8 292.5 L297.1 292.3 L297.4 292.1 L297.7 292 L298 291.8 L298.4 291.6 L298.7 291.3 L299 291.1 L299.3 290.9 L299.6 290.7 L299.9 290.5 L300.2 290.3 L300.5 290.1 L300.8 289.9 L301.2 289.7 L301.5 289.5 L301.8 289.3 L302.1 289.1 L302.4 288.9 L302.7 288.7 L303 288.6 L303.3 288.4 L303.6 288.2 L304 288 L304.3 287.8 L304.6 287.6 L304.9 287.4 L305.2 287.2 L305.5 287 L305.8 286.8 L306.1 286.6 L306.5 286.4 L306.8 286.1 L307.1 285.9 L307.4 285.7 L307.7 285.5 L308 285.3 L308.3 285.1 L308.6 284.9 L308.9 284.6 L309.3 284.4 L309.6 284.2 L309.9 284 L310.2 283.8 L310.5 283.5 L310.8 283.3 L311.1 283.1 L311.4 282.9 L311.7 282.7 L312.1 282.4 L312.4 282.2 L312.7 282 L313 281.8 L313.3 281.5 L313.6 281.3 L313.9 281.1 L314.2 280.8 L314.6 280.6 L314.9 280.3 L315.2 280.1 L315.5 279.8 L315.8 279.5 L316.1 279.2 L316.4 278.9 L316.7 278.6 L317 278.3 L317.4 278 L317.7 277.6 L318 277.3 L318.3 277 L318.6 276.7 L318.9 276.3 L319.2 276 L319.5 275.7 L319.9 275.4 L320.2 275.1 L320.5 274.8 L320.8 274.5 L321.1 274.2 L321.4 274 L321.7 273.7 L322 273.5 L322.3 273.2 L322.7 273 L323 272.8 L323.3 272.6 L323.6 272.5 L323.9 272.3 L324.2 272.2 L324.5 272.1 L324.8 272 L325.1 271.9 L325.5 271.9 L325.8 271.9 L326.1 271.9 L326.4 272 L326.7 272 L327 272.2 L327.3 272.3 L327.6 272.5 L328 272.7 L328.3 273 L328.6 273.3 L328.9 273.6 L329.2 273.9 L329.5 274.2 L329.8 274.6 L330.1 275 L330.4 275.3 L330.8 275.7 L331.1 276.2 L331.4 276.6 L331.7 277 L332 277.5 L332.3 277.9 L332.6 278.3 L332.9 278.8 L333.2 279.2 L333.6 279.7 L333.9 280.1 L334.2 280.6 L334.5 281 L334.8 281.4 L335.1 281.9 L335.4 282.3 L335.7 282.8 L336.1 283.3 L336.4 283.9 L336.7 284.4 L337 285 L337.3 285.5 L337.6 286.1 L337.9 286.7 L338.2 287.3 L338.5 287.9 L338.9 288.5 L339.2 289 L339.5 289.6 L339.8 290.2 L340.1 290.7 L340.4 291.3 L340.7 291.8 L341 292.4 L341.4 293.1 L341.7 293.7 L342 294.5 L342.3 295.3 L342.6 296.3 L342.9 297.5 L343.2 298.8 L343.5 300.3 L343.8 301.9 L344.2 303.6 L344.5 305.3 L344.8 306.9 L345.1 308.6 L345.4 310.4 L345.7 312.3 L346 314.1 L346.3 316.1 L346.6 318 L347 319.9 L347.3 321.9 L347.6 324 L347.9 326.2 L348.2 328.4 L348.5 330.6 L348.8 332.6 L349.1 334.5 L349.5 336.2 L349.8 337.7 L350.1 339.1 L350.4 340.4 L350.7 341.6 L351 342.8 L351.3 344 L351.6 345.1 L351.9 346.3 L352.3 347.5 L352.6 348.9 L352.9 350.5 L353.2 352.2 L353.5 353.9 L353.8 355.3 L354.1 356.1 L354.4 356.3 L354.8 356.2 L355.1 356.1 L355.4 355.9 L355.7 355.6 L356 355.3 L356.3 355 L356.6 354.6 L356.9 354.2 L357.2 353.8 L357.6 353.3 L357.9 352.9 L358.2 352.4 L358.5 351.8 L358.8 351.1 L359.1 350.2 L359.4 349.3 L359.7 348.3 L360 347.3 L360.4 346.1 L360.7 345 L361 343.8 L361.3 342.5 L361.6 341.3 L361.9 340.1 L362.2 338.8 L362.5 337.6 L362.9 336.4 L363.2 335.3 L363.5 334.1 L363.8 332.8 L364.1 331.6 L364.4 330.3 L364.7 328.9 L365 327.6 L365.3 326.3 L365.7 325 L366 323.7 L366.3 322.5 L366.6 321.3 L366.9 320.2 L367.2 319.1 L367.5 318.1 L367.8 317.2 L368.1 316.3 L368.5 315.5 L368.8 314.6 L369.1 313.8 L369.4 313 L369.7 312.3 L370 311.5 L370.3 310.7 L370.6 309.9 L371 309.1 L371.3 308.3 L371.6 307.5 L371.9 306.6 L372.2 305.7 L372.5 304.8 L372.8 303.8 L373.1 302.8 L373.4 301.8 L373.8 300.8 L374.1 299.8 L374.4 298.8 L374.7 297.8 L375 296.8 L375.3 295.8 L375.6 294.9 L375.9 294 L376.3 293.2 L376.6 292.4 L376.9 291.7 L377.2 291 L377.5 290.3 L377.8 289.7 L378.1 289 L378.4 288.4 L378.7 287.8 L379.1 287.2 L379.4 286.7 L379.7 286.1 L380 285.6 L380.3 285 L380.6 284.5 L380.9 284 L381.2 283.5 L381.5 282.9 L381.9 282.4 L382.2 281.8 L382.5 281.2 L382.8 280.6 L383.1 280 L383.4 279.5 L383.7 279.1 L384 278.7 L384.4 278.4 L384.7 278.3 L385 278.2 L385.3 278.2 L385.6 278.2 L385.9 278.3 L386.2 278.3 L386.5 278.3 L386.8 278.3 L387.2 278.3 L387.5 278.4 L387.8 278.4 L388.1 278.4 L388.4 278.5 L388.7 278.5 L389 278.5 L389.3 278.6 L389.6 278.6 L390 278.7 L390.3 278.7 L390.6 278.7 L390.9 278.8 L391.2 278.8 L391.5 278.9 L391.8 279 L392.1 279.1 L392.5 279.2 L392.8 279.3 L393.1 279.4 L393.4 279.6 L393.7 279.8 L394 279.9 L394.3 280.1 L394.6 280.3 L394.9 280.5 L395.3 280.7 L395.6 280.9 L395.9 281.2 L396.2 281.4 L396.5 281.6 L396.8 281.9 L397.1 282.1 L397.4 282.3 L397.8 282.6 L398.1 282.8 L398.4 283.1 L398.7 283.3 L399 283.5 L399.3 283.8 L399.6 284 L399.9 284.2 L400.2 284.4 L400.6 284.7 L400.9 284.9 L401.2 285.1 L401.5 285.3 L401.8 285.4 L402.1 285.6 L402.4 285.8 L402.7 285.9 L403 286.1 L403.4 286.2 L403.7 286.3 L404 286.5 L404.3 286.6 L404.6 286.7 L404.9 286.9 L405.2 287 L405.5 287.2 L405.9 287.3 L406.2 287.4 L406.5 287.5 L406.8 287.6 L407.1 287.7 L407.4 287.7 L407.7 287.8 L408 287.8 L408.3 287.8 L408.7 287.8 L409 287.7 L409.3 287.7 L409.6 287.6 L409.9 287.5 L410.2 287.4 L410.5 287.3 L410.8 287.2 L411.2 287.1 L411.5 287 L411.8 286.8 L412.1 286.7 L412.4 286.5 L412.7 286.4 L413 286.3 L413.3 286.1 L413.6 286 L414 285.8 L414.3 285.7 L414.6 285.6 L414.9 285.4 L415.2 285.3 L415.5 285.2 L415.8 285.1 L416.1 285.1 L416.4 285 L416.8 284.9 L417.1 284.9 L417.4 284.9 L417.7 284.9 L418 284.9 L418.3 284.9 L418.6 284.9 L418.9 285 L419.3 285 L419.6 285 L419.9 285.1 L420.2 285.1 L420.5 285.2 L420.8 285.3 L421.1 285.3 L421.4 285.4 L421.7 285.5 L422.1 285.6 L422.4 285.6 L422.7 285.7 L423 285.8 L423.3 285.9 L423.6 286 L423.9 286.1 L424.2 286.2 L424.5 286.3 L424.9 286.4 L425.2 286.5 L425.5 286.6 L425.8 286.7 L426.1 286.8 L426.4 286.9 L426.7 287 L427 287.1 L427.4 287.2 L427.7 287.3 L428 287.4 L428.3 287.5 L428.6 287.6 L428.9 287.7 L429.2 287.8 L429.5 287.9 L429.8 288.1 L430.2 288.2 L430.5 288.3 L430.8 288.4 L431.1 288.5 L431.4 288.7 L431.7 288.8 L432 288.9 L432.3 289.1 L432.7 289.2 L433 289.4 L433.3 289.5 L433.6 289.7 L433.9 289.8 L434.2 290 L434.5 290.1 L434.8 290.3 L435.1 290.4 L435.5 290.6 L435.8 290.8 L436.1 290.9 L436.4 291.1 L436.7 291.2 L437 291.4 L437.3 291.6 L437.6 291.8 L437.9 291.9 L438.3 292.1" fill="none" stroke="#111" stroke-width="1.5" stroke-linejoin="round" stroke-dasharray="3 3"/>
<line x1="334.6" y1="259.5" x2="334.6" y2="381.1" stroke="#222" stroke-width="1.3" stroke-dasharray="8 6.8"/>
<path d="M283.3 252.2 V381.6 H438.9" fill="none" stroke="#2a2a2a" stroke-width="1.3"/>
<line x1="282.8" y1="381.6" x2="282.8" y2="378.6" stroke="#2a2a2a" stroke-width="1.3" />
<line x1="334.6" y1="381.6" x2="334.6" y2="378.6" stroke="#2a2a2a" stroke-width="1.3" />
<line x1="386.4" y1="381.6" x2="386.4" y2="378.6" stroke="#2a2a2a" stroke-width="1.3" />
<line x1="438.3" y1="381.6" x2="438.3" y2="378.6" stroke="#2a2a2a" stroke-width="1.3" />
<line x1="283.3" y1="266.1" x2="286.3" y2="266.1" stroke="#2a2a2a" stroke-width="1.3" />
<line x1="283.3" y1="295" x2="286.3" y2="295" stroke="#2a2a2a" stroke-width="1.3" />
<line x1="283.3" y1="323.9" x2="286.3" y2="323.9" stroke="#2a2a2a" stroke-width="1.3" />
<line x1="283.3" y1="352.8" x2="286.3" y2="352.8" stroke="#2a2a2a" stroke-width="1.3" />
<text x="277.9" y="300" font-size="15.4" text-anchor="end" fill="#000" textLength="7.9" lengthAdjust="spacingAndGlyphs">0</text>
<text x="277.9" y="357.8" font-size="15.4" text-anchor="end" fill="#000" textLength="24.6" lengthAdjust="spacingAndGlyphs">-0.2</text>
<text x="282.8" y="397.8" font-size="15.4" text-anchor="middle" fill="#000" textLength="28.5" lengthAdjust="spacingAndGlyphs">-100</text>
<text x="334.6" y="397.8" font-size="15.4" text-anchor="middle" fill="#000" textLength="7.9" lengthAdjust="spacingAndGlyphs">0</text>
<text x="386.4" y="397.8" font-size="15.4" text-anchor="middle" fill="#000" textLength="23.8" lengthAdjust="spacingAndGlyphs">100</text>
<text x="438.3" y="397.8" font-size="15.4" text-anchor="middle" fill="#000" textLength="23.8" lengthAdjust="spacingAndGlyphs">200</text>
<text x="380.8" y="345.8" font-size="14.7" fill="#111"><tspan dy="0" font-size="14.7">TI</tspan><tspan dy="3.4" font-size="7.3">combined</tspan></text>
<text x="380.8" y="361" font-size="14.7" fill="#aaa"><tspan dy="0" font-size="14.7">T</tspan><tspan dy="3" font-size="7.3">alone</tspan><tspan dy="-3" font-size="14.7">+I</tspan><tspan dy="3" font-size="7.3">alone</tspan></text>
<text x="483.1" y="244.8" font-size="24" text-anchor="start" font-weight="bold" fill="#000" >F</text>
<rect x="559.2" y="252.4" width="79.2" height="5" fill="#999"/>
<path d="M517.4 289.5 L517.7 289.7 L518 289.8 L518.4 290 L518.7 290.2 L519 290.3 L519.3 290.5 L519.6 290.7 L519.9 290.8 L520.2 291 L520.5 291.2 L520.8 291.4 L521.1 291.5 L521.5 291.7 L521.8 291.9 L522.1 292.1 L522.4 292.3 L522.7 292.4 L523 292.6 L523.3 292.9 L523.6 293.1 L523.9 293.3 L524.2 293.6 L524.6 293.8 L524.9 294.1 L525.2 294.3 L525.5 294.6 L525.8 294.9 L526.1 295.2 L526.4 295.4 L526.7 295.7 L527 296 L527.3 296.2 L527.7 296.5 L528 296.7 L528.3 296.9 L528.6 297.1 L528.9 297.3 L529.2 297.5 L529.5 297.7 L529.8 297.8 L530.1 297.9 L530.4 298 L530.7 298.1 L531.1 298.2 L531.4 298.2 L531.7 298.2 L532 298.2 L532.3 298.1 L532.6 298.1 L532.9 298 L533.2 297.9 L533.5 297.8 L533.8 297.7 L534.2 297.6 L534.5 297.5 L534.8 297.4 L535.1 297.2 L535.4 297.1 L535.7 296.9 L536 296.8 L536.3 296.6 L536.6 296.4 L536.9 296.2 L537.3 296.1 L537.6 295.9 L537.9 295.7 L538.2 295.5 L538.5 295.4 L538.8 295.2 L539.1 295 L539.4 294.8 L539.7 294.7 L540 294.5 L540.4 294.3 L540.7 294.2 L541 294 L541.3 293.9 L541.6 293.7 L541.9 293.5 L542.2 293.3 L542.5 293.1 L542.8 292.9 L543.1 292.7 L543.5 292.5 L543.8 292.3 L544.1 292.1 L544.4 291.9 L544.7 291.6 L545 291.4 L545.3 291.2 L545.6 291 L545.9 290.8 L546.2 290.6 L546.5 290.4 L546.9 290.2 L547.2 290 L547.5 289.9 L547.8 289.7 L548.1 289.6 L548.4 289.4 L548.7 289.3 L549 289.2 L549.3 289.1 L549.6 289 L550 289 L550.3 288.9 L550.6 288.9 L550.9 288.9 L551.2 289 L551.5 289 L551.8 289.1 L552.1 289.2 L552.4 289.3 L552.7 289.4 L553.1 289.5 L553.4 289.7 L553.7 289.8 L554 290 L554.3 290.2 L554.6 290.4 L554.9 290.6 L555.2 290.8 L555.5 291 L555.8 291.2 L556.2 291.4 L556.5 291.6 L556.8 291.9 L557.1 292.1 L557.4 292.3 L557.7 292.5 L558 292.7 L558.3 292.9 L558.6 293.1 L558.9 293.3 L559.2 293.5 L559.6 293.7 L559.9 293.8 L560.2 294 L560.5 294.1 L560.8 294.3 L561.1 294.4 L561.4 294.6 L561.7 294.7 L562 294.8 L562.3 295 L562.7 295.1 L563 295.3 L563.3 295.4 L563.6 295.6 L563.9 295.7 L564.2 295.9 L564.5 296 L564.8 296.2 L565.1 296.3 L565.4 296.4 L565.8 296.5 L566.1 296.7 L566.4 296.8 L566.7 296.9 L567 297 L567.3 297 L567.6 297.1 L567.9 297.2 L568.2 297.2 L568.5 297.3 L568.9 297.3 L569.2 297.3 L569.5 296.4 L569.8 294.7 L570.1 293.1 L570.4 291.4 L570.7 289.8 L571 288.1 L571.3 286.5 L571.6 284.8 L571.9 283.3 L572.3 282.3 L572.6 281.4 L572.9 280.5 L573.2 279.6 L573.5 278.6 L573.8 277.7 L574.1 276.8 L574.4 275.9 L574.7 274.9 L575 274 L575.4 273.1 L575.7 272.1 L576 271.2 L576.3 271.5 L576.6 272 L576.9 272.6 L577.2 273.2 L577.5 273.7 L577.8 274.3 L578.1 274.9 L578.5 275.4 L578.8 276 L579.1 276.6 L579.4 277.1 L579.7 277.7 L580 278.4 L580.3 279.1 L580.6 279.8 L580.9 280.5 L581.2 281.2 L581.6 281.8 L581.9 282.5 L582.2 283.2 L582.5 283.9 L582.8 284.6 L583.1 285.3 L583.4 285.6 L583.7 285.3 L584 284.9 L584.3 284.5 L584.6 284.1 L585 283.8 L585.3 283.4 L585.6 283 L585.9 282.6 L586.2 282.3 L586.5 281.9 L586.8 281.7 L587.1 281.4 L587.4 281.2 L587.7 281 L588.1 280.7 L588.4 280.5 L588.7 280.2 L589 280 L589.3 280.4 L589.6 280.8 L589.9 281.2 L590.2 281.6 L590.5 282 L590.8 282.5 L591.2 282.9 L591.5 283.3 L591.8 283.7 L592.1 284.1 L592.4 284.5 L592.7 285 L593 285.5 L593.3 286 L593.6 286.5 L593.9 287 L594.3 287.5 L594.6 288 L594.9 288.5 L595.2 289 L595.5 289.5 L595.8 290 L596.1 290.5 L596.4 291 L596.7 291.5 L597 292 L597.3 292.5 L597.7 293 L598 293.5 L598.3 294 L598.6 294.5 L598.9 295 L599.2 295.5 L599.5 296 L599.8 296.5 L600.1 296.9 L600.4 297.3 L600.8 297.6 L601.1 297.9 L601.4 298.3 L601.7 298.6 L602 298.9 L602.3 299.2 L602.6 299.5 L602.9 299.8 L603.2 300.1 L603.5 300.3 L603.9 300.5 L604.2 300.7 L604.5 300.9 L604.8 301 L605.1 301.2 L605.4 301.3 L605.7 301.3 L606 301.4 L606.3 301.4 L606.6 301.3 L607 301.3 L607.3 301.2 L607.6 301.1 L607.9 301 L608.2 300.9 L608.5 300.8 L608.8 300.6 L609.1 300.5 L609.4 300.3 L609.7 300.1 L610 299.9 L610.4 299.7 L610.7 299.5 L611 299.4 L611.3 299.2 L611.6 299 L611.9 298.8 L612.2 298.6 L612.5 298.4 L612.8 298.2 L613.1 298 L613.5 297.8 L613.8 297.6 L614.1 297.3 L614.4 297.1 L614.7 296.8 L615 296.5 L615.3 296.2 L615.6 295.9 L615.9 295.6 L616.2 295.3 L616.6 295 L616.9 294.7 L617.2 294.3 L617.5 294 L617.8 293.7 L618.1 293.4 L618.4 293.1 L618.7 292.8 L619 292.5 L619.3 292.3 L619.7 292 L620 291.8 L620.3 291.6 L620.6 291.4 L620.9 291.2 L621.2 291 L621.5 290.9 L621.8 290.8 L622.1 290.7 L622.4 290.7 L622.8 290.7 L623.1 290.7 L623.4 290.7 L623.7 290.8 L624 290.9 L624.3 291.1 L624.6 291.2 L624.9 291.4 L625.2 291.6 L625.5 291.8 L625.8 292 L626.2 292.3 L626.5 292.5 L626.8 292.7 L627.1 292.9 L627.4 293.1 L627.7 293.3 L628 293.5 L628.3 293.7 L628.6 293.8 L628.9 293.9 L629.3 294 L629.6 294.1 L629.9 294.1 L630.2 294.1 L630.5 294.1 L630.8 294.1 L631.1 294 L631.4 293.9 L631.7 293.8 L632 293.7 L632.4 293.6 L632.7 293.4 L633 293.3 L633.3 293.1 L633.6 293 L633.9 292.8 L634.2 292.7 L634.5 292.6 L634.8 292.4 L635.1 292.3 L635.5 292.2 L635.8 292.1 L636.1 292 L636.4 291.9 L636.7 291.9 L637 291.8 L637.3 291.8 L637.6 291.8 L637.9 291.9 L638.2 291.9 L638.5 292 L638.9 292.1 L639.2 292.2 L639.5 292.3 L639.8 292.5 L640.1 292.6 L640.4 292.7 L640.7 292.9 L641 293.1 L641.3 293.2 L641.6 293.4 L642 293.6 L642.3 293.7 L642.6 293.9 L642.9 294.1 L643.2 294.2 L643.5 294.4 L643.8 294.6 L644.1 294.7 L644.4 294.8 L644.7 294.9 L645.1 295 L645.4 295.1 L645.7 295.2 L646 295.2 L646.3 295.3 L646.6 295.3 L646.9 295.3 L647.2 295.2 L647.5 295.1 L647.8 295 L648.2 294.9 L648.5 294.7 L648.8 294.5 L649.1 294.3 L649.4 294 L649.7 293.8 L650 293.5 L650.3 293.3 L650.6 293 L650.9 292.7 L651.2 292.4 L651.6 292.1 L651.9 291.8 L652.2 291.6 L652.5 291.3 L652.8 291 L653.1 290.8 L653.4 290.5 L653.7 290.3 L654 290.1 L654.3 289.9 L654.7 289.8 L655 289.7 L655.3 289.6 L655.6 289.5 L655.9 289.5 L656.2 289.5 L656.5 289.5 L656.8 289.6 L657.1 289.7 L657.4 289.7 L657.8 289.8 L658.1 289.9 L658.4 290.1 L658.7 290.2 L659 290.3 L659.3 290.5 L659.6 290.6 L659.9 290.8 L660.2 290.9 L660.5 291.1 L660.9 291.2 L661.2 291.4 L661.5 291.5 L661.8 291.6 L662.1 291.8 L662.4 291.9 L662.7 292 L663 292.1 L663.3 292.2 L663.6 292.3 L663.9 292.4 L664.3 292.4 L664.6 292.4 L664.9 292.5 L665.2 292.5 L665.5 292.5 L665.8 292.6 L666.1 292.6 L666.4 292.6 L666.7 292.7 L667 292.7 L667.4 292.7 L667.7 292.8 L668 292.8 L668.3 292.8 L668.6 292.8 L668.9 292.9 L669.2 292.9 L669.5 292.9 L669.8 292.9 L670.1 292.9 L670.5 292.9 L670.8 293 L671.1 293 L671.4 293 L671.7 293 L672 293 L672 298.2 L671.7 298.2 L671.4 298.2 L671.1 298.2 L670.8 298.2 L670.5 298.1 L670.1 298.1 L669.8 298.1 L669.5 298.1 L669.2 298.1 L668.9 298.1 L668.6 298 L668.3 298 L668 298 L667.7 298 L667.4 297.9 L667 297.9 L666.7 297.9 L666.4 297.9 L666.1 297.8 L665.8 297.8 L665.5 297.8 L665.2 297.7 L664.9 297.7 L664.6 297.6 L664.3 297.6 L663.9 297.6 L663.6 297.5 L663.3 297.4 L663 297.3 L662.7 297.2 L662.4 297.1 L662.1 297 L661.8 296.8 L661.5 296.7 L661.2 296.6 L660.9 296.4 L660.5 296.3 L660.2 296.1 L659.9 296 L659.6 295.8 L659.3 295.7 L659 295.5 L658.7 295.4 L658.4 295.3 L658.1 295.1 L657.8 295 L657.4 294.9 L657.1 294.9 L656.8 294.8 L656.5 294.7 L656.2 294.7 L655.9 294.7 L655.6 294.7 L655.3 294.8 L655 294.9 L654.7 295 L654.3 295.1 L654 295.3 L653.7 295.5 L653.4 295.7 L653.1 296 L652.8 296.2 L652.5 296.5 L652.2 296.8 L651.9 297 L651.6 297.3 L651.2 297.6 L650.9 297.9 L650.6 298.2 L650.3 298.5 L650 298.7 L649.7 299 L649.4 299.2 L649.1 299.5 L648.8 299.7 L648.5 299.9 L648.2 300.1 L647.8 300.2 L647.5 300.3 L647.2 300.4 L646.9 300.5 L646.6 300.5 L646.3 300.5 L646 300.4 L645.7 300.4 L645.4 300.3 L645.1 300.2 L644.7 300.1 L644.4 300 L644.1 299.9 L643.8 299.8 L643.5 299.6 L643.2 299.5 L642.9 299.3 L642.6 299.1 L642.3 299 L642 298.8 L641.6 298.6 L641.3 298.4 L641 298.3 L640.7 298.1 L640.4 297.9 L640.1 297.8 L639.8 297.7 L639.5 297.5 L639.2 297.4 L638.9 297.3 L638.5 297.2 L638.2 297.1 L637.9 297.1 L637.6 297 L637.3 297 L637 297 L636.7 297.1 L636.4 297.1 L636.1 297.2 L635.8 297.3 L635.5 297.4 L635.1 297.5 L634.8 297.6 L634.5 297.8 L634.2 297.9 L633.9 298 L633.6 298.2 L633.3 298.3 L633 298.5 L632.7 298.6 L632.4 298.8 L632 298.9 L631.7 299 L631.4 299.1 L631.1 299.2 L630.8 299.3 L630.5 299.3 L630.2 299.3 L629.9 299.3 L629.6 299.3 L629.3 299.2 L628.9 299.1 L628.6 299 L628.3 298.9 L628 298.7 L627.7 298.5 L627.4 298.3 L627.1 298.1 L626.8 297.9 L626.5 297.7 L626.2 297.5 L625.8 297.2 L625.5 297 L625.2 296.8 L624.9 296.6 L624.6 296.4 L624.3 296.3 L624 296.1 L623.7 296 L623.4 295.9 L623.1 295.9 L622.8 295.9 L622.4 295.9 L622.1 295.9 L621.8 296 L621.5 296.1 L621.2 296.2 L620.9 296.4 L620.6 296.6 L620.3 296.8 L620 297 L619.7 297.2 L619.3 297.5 L619 297.7 L618.7 298 L618.4 298.3 L618.1 298.6 L617.8 298.9 L617.5 299.2 L617.2 299.5 L616.9 299.9 L616.6 300.2 L616.2 300.5 L615.9 300.8 L615.6 301.1 L615.3 301.4 L615 301.7 L614.7 302 L614.4 302.3 L614.1 302.5 L613.8 302.8 L613.5 303 L613.1 303.2 L612.8 303.4 L612.5 303.6 L612.2 303.8 L611.9 304 L611.6 304.2 L611.3 304.4 L611 304.6 L610.7 304.7 L610.4 304.9 L610 305.1 L609.7 305.3 L609.4 305.5 L609.1 305.7 L608.8 305.8 L608.5 306 L608.2 306.1 L607.9 306.2 L607.6 306.3 L607.3 306.4 L607 306.5 L606.6 306.5 L606.3 306.6 L606 306.6 L605.7 306.5 L605.4 306.5 L605.1 306.4 L604.8 306.2 L604.5 306.1 L604.2 305.9 L603.9 305.7 L603.5 305.5 L603.2 305.3 L602.9 305 L602.6 304.7 L602.3 304.4 L602 304.1 L601.7 303.9 L601.4 304 L601.1 304.1 L600.8 304.2 L600.4 304.3 L600.1 304.4 L599.8 304.5 L599.5 304.6 L599.2 304.7 L598.9 304.8 L598.6 304.9 L598.3 305 L598 305.1 L597.7 305.3 L597.3 305.6 L597 305.9 L596.7 306.2 L596.4 306.4 L596.1 306.7 L595.8 307 L595.5 307.3 L595.2 307.6 L594.9 307.9 L594.6 308.2 L594.3 308.5 L593.9 308.8 L593.6 309.1 L593.3 309.4 L593 309.7 L592.7 310 L592.4 309.7 L592.1 309.3 L591.8 308.9 L591.5 308.4 L591.2 308 L590.8 307.6 L590.5 307.2 L590.2 306.8 L589.9 306.3 L589.6 305.9 L589.3 305.5 L589 305.1 L588.7 304.6 L588.4 304 L588.1 303.5 L587.7 303 L587.4 302.5 L587.1 302 L586.8 301.4 L586.5 300.9 L586.2 300.1 L585.9 299.1 L585.6 298.1 L585.3 297 L585 296 L584.6 295 L584.3 294 L584 293 L583.7 292 L583.4 291.1 L583.1 290.9 L582.8 290.6 L582.5 290.4 L582.2 290.2 L581.9 290.1 L581.6 290 L581.2 289.8 L580.9 289.7 L580.6 289.6 L580.3 289.5 L580 289.4 L579.7 289.2 L579.4 289.3 L579.1 289.5 L578.8 289.6 L578.5 289.7 L578.1 289.8 L577.8 290 L577.5 290.1 L577.2 290.2 L576.9 290.3 L576.6 290.4 L576.3 290.6 L576 290.7 L575.7 291.1 L575.4 291.4 L575 291.7 L574.7 292 L574.4 292.4 L574.1 292.7 L573.8 293 L573.5 293.3 L573.2 293.6 L572.9 294 L572.6 294.3 L572.3 294.6 L571.9 295.7 L571.6 296.8 L571.3 298 L571 299.1 L570.7 300.1 L570.4 301 L570.1 301.7 L569.8 302.2 L569.5 302.5 L569.2 302.5 L568.9 302.5 L568.5 302.5 L568.2 302.4 L567.9 302.4 L567.6 302.3 L567.3 302.2 L567 302.2 L566.7 302.1 L566.4 302 L566.1 301.9 L565.8 301.7 L565.4 301.6 L565.1 301.5 L564.8 301.4 L564.5 301.2 L564.2 301.1 L563.9 300.9 L563.6 300.8 L563.3 300.6 L563 300.5 L562.7 300.3 L562.3 300.2 L562 300 L561.7 299.9 L561.4 299.8 L561.1 299.6 L560.8 299.5 L560.5 299.3 L560.2 299.2 L559.9 299 L559.6 298.9 L559.2 298.7 L558.9 298.5 L558.6 298.3 L558.3 298.1 L558 297.9 L557.7 297.7 L557.4 297.5 L557.1 297.3 L556.8 297.1 L556.5 296.8 L556.2 296.6 L555.8 296.4 L555.5 296.2 L555.2 296 L554.9 295.8 L554.6 295.6 L554.3 295.4 L554 295.2 L553.7 295 L553.4 294.9 L553.1 294.7 L552.7 294.6 L552.4 294.5 L552.1 294.4 L551.8 294.3 L551.5 294.2 L551.2 294.2 L550.9 294.1 L550.6 294.1 L550.3 294.1 L550 294.2 L549.6 294.2 L549.3 294.3 L549 294.4 L548.7 294.5 L548.4 294.6 L548.1 294.8 L547.8 294.9 L547.5 295.1 L547.2 295.2 L546.9 295.4 L546.5 295.6 L546.2 295.8 L545.9 296 L545.6 296.2 L545.3 296.4 L545 296.6 L544.7 296.8 L544.4 297.1 L544.1 297.3 L543.8 297.5 L543.5 297.7 L543.1 297.9 L542.8 298.1 L542.5 298.3 L542.2 298.5 L541.9 298.7 L541.6 298.9 L541.3 299.1 L541 299.2 L540.7 299.4 L540.4 299.5 L540 299.7 L539.7 299.9 L539.4 300 L539.1 300.2 L538.8 300.4 L538.5 300.6 L538.2 300.7 L537.9 300.9 L537.6 301.1 L537.3 301.3 L536.9 301.5 L536.6 301.6 L536.3 301.8 L536 302 L535.7 302.1 L535.4 302.3 L535.1 302.4 L534.8 302.6 L534.5 302.7 L534.2 302.8 L533.8 302.9 L533.5 303 L533.2 303.1 L532.9 303.2 L532.6 303.3 L532.3 303.3 L532 303.4 L531.7 303.4 L531.4 303.4 L531.1 303.4 L530.7 303.3 L530.4 303.2 L530.1 303.1 L529.8 303 L529.5 302.9 L529.2 302.7 L528.9 302.5 L528.6 302.3 L528.3 302.1 L528 301.9 L527.7 301.7 L527.3 301.4 L527 301.2 L526.7 300.9 L526.4 300.6 L526.1 300.4 L525.8 300.1 L525.5 299.8 L525.2 299.5 L524.9 299.3 L524.6 299 L524.2 298.8 L523.9 298.5 L523.6 298.3 L523.3 298.1 L523 297.8 L522.7 297.6 L522.4 297.5 L522.1 297.3 L521.8 297.1 L521.5 296.9 L521.1 296.7 L520.8 296.6 L520.5 296.4 L520.2 296.2 L519.9 296 L519.6 295.9 L519.3 295.7 L519 295.5 L518.7 295.4 L518.4 295.2 L518 295 L517.7 294.9 L517.4 294.7 Z" fill="#777" stroke="none"/>
<path d="M517.4 292.1 L517.7 292.3 L518 292.4 L518.4 292.6 L518.7 292.8 L519 292.9 L519.3 293.1 L519.6 293.3 L519.9 293.4 L520.2 293.6 L520.5 293.8 L520.8 294 L521.1 294.1 L521.5 294.3 L521.8 294.5 L522.1 294.7 L522.4 294.9 L522.7 295 L523 295.2 L523.3 295.5 L523.6 295.7 L523.9 295.9 L524.2 296.2 L524.6 296.4 L524.9 296.7 L525.2 296.9 L525.5 297.2 L525.8 297.5 L526.1 297.8 L526.4 298 L526.7 298.3 L527 298.6 L527.3 298.8 L527.7 299.1 L528 299.3 L528.3 299.5 L528.6 299.7 L528.9 299.9 L529.2 300.1 L529.5 300.3 L529.8 300.4 L530.1 300.5 L530.4 300.6 L530.7 300.7 L531.1 300.8 L531.4 300.8 L531.7 300.8 L532 300.8 L532.3 300.7 L532.6 300.7 L532.9 300.6 L533.2 300.5 L533.5 300.4 L533.8 300.3 L534.2 300.2 L534.5 300.1 L534.8 300 L535.1 299.8 L535.4 299.7 L535.7 299.5 L536 299.4 L536.3 299.2 L536.6 299 L536.9 298.8 L537.3 298.7 L537.6 298.5 L537.9 298.3 L538.2 298.1 L538.5 298 L538.8 297.8 L539.1 297.6 L539.4 297.4 L539.7 297.3 L540 297.1 L540.4 296.9 L540.7 296.8 L541 296.6 L541.3 296.5 L541.6 296.3 L541.9 296.1 L542.2 295.9 L542.5 295.7 L542.8 295.5 L543.1 295.3 L543.5 295.1 L543.8 294.9 L544.1 294.7 L544.4 294.5 L544.7 294.2 L545 294 L545.3 293.8 L545.6 293.6 L545.9 293.4 L546.2 293.2 L546.5 293 L546.9 292.8 L547.2 292.6 L547.5 292.5 L547.8 292.3 L548.1 292.2 L548.4 292 L548.7 291.9 L549 291.8 L549.3 291.7 L549.6 291.6 L550 291.6 L550.3 291.5 L550.6 291.5 L550.9 291.5 L551.2 291.6 L551.5 291.6 L551.8 291.7 L552.1 291.8 L552.4 291.9 L552.7 292 L553.1 292.1 L553.4 292.3 L553.7 292.4 L554 292.6 L554.3 292.8 L554.6 293 L554.9 293.2 L555.2 293.4 L555.5 293.6 L555.8 293.8 L556.2 294 L556.5 294.2 L556.8 294.5 L557.1 294.7 L557.4 294.9 L557.7 295.1 L558 295.3 L558.3 295.5 L558.6 295.7 L558.9 295.9 L559.2 296.1 L559.6 296.3 L559.9 296.4 L560.2 296.6 L560.5 296.7 L560.8 296.9 L561.1 297 L561.4 297.2 L561.7 297.3 L562 297.4 L562.3 297.6 L562.7 297.7 L563 297.9 L563.3 298 L563.6 298.2 L563.9 298.3 L564.2 298.5 L564.5 298.6 L564.8 298.8 L565.1 298.9 L565.4 299 L565.8 299.1 L566.1 299.3 L566.4 299.4 L566.7 299.5 L567 299.6 L567.3 299.6 L567.6 299.7 L567.9 299.8 L568.2 299.8 L568.5 299.9 L568.9 299.9 L569.2 299.9 L569.5 299.9 L569.8 299.6 L570.1 299.1 L570.4 298.4 L570.7 297.5 L571 296.5 L571.3 295.4 L571.6 294.2 L571.9 293.1 L572.3 291.9 L572.6 290.8 L572.9 289.8 L573.2 289 L573.5 288.3 L573.8 287.6 L574.1 286.9 L574.4 286.2 L574.7 285.5 L575 284.8 L575.4 284.2 L575.7 283.6 L576 283.1 L576.3 282.7 L576.6 282.5 L576.9 282.3 L577.2 282.3 L577.5 282.4 L577.8 282.5 L578.1 282.8 L578.5 283.1 L578.8 283.4 L579.1 283.8 L579.4 284.2 L579.7 284.6 L580 285.1 L580.3 285.5 L580.6 285.9 L580.9 286.3 L581.2 286.7 L581.6 287 L581.9 287.3 L582.2 287.5 L582.5 287.8 L582.8 288 L583.1 288.3 L583.4 288.5 L583.7 288.7 L584 289 L584.3 289.2 L584.6 289.4 L585 289.6 L585.3 289.8 L585.6 290 L585.9 290.2 L586.2 290.4 L586.5 290.6 L586.8 290.8 L587.1 291 L587.4 291.2 L587.7 291.4 L588.1 291.5 L588.4 291.7 L588.7 291.9 L589 292.1 L589.3 292.3 L589.6 292.4 L589.9 292.6 L590.2 292.8 L590.5 292.9 L590.8 293.1 L591.2 293.2 L591.5 293.4 L591.8 293.5 L592.1 293.7 L592.4 293.8 L592.7 294 L593 294.1 L593.3 294.3 L593.6 294.4 L593.9 294.6 L594.3 294.7 L594.6 294.9 L594.9 295.1 L595.2 295.2 L595.5 295.4 L595.8 295.6 L596.1 295.8 L596.4 296 L596.7 296.2 L597 296.4 L597.3 296.7 L597.7 296.9 L598 297.2 L598.3 297.5 L598.6 297.8 L598.9 298.2 L599.2 298.5 L599.5 298.8 L599.8 299.2 L600.1 299.5 L600.4 299.9 L600.8 300.2 L601.1 300.5 L601.4 300.9 L601.7 301.2 L602 301.5 L602.3 301.8 L602.6 302.1 L602.9 302.4 L603.2 302.7 L603.5 302.9 L603.9 303.1 L604.2 303.3 L604.5 303.5 L604.8 303.6 L605.1 303.8 L605.4 303.9 L605.7 303.9 L606 304 L606.3 304 L606.6 303.9 L607 303.9 L607.3 303.8 L607.6 303.7 L607.9 303.6 L608.2 303.5 L608.5 303.4 L608.8 303.2 L609.1 303.1 L609.4 302.9 L609.7 302.7 L610 302.5 L610.4 302.3 L610.7 302.1 L611 302 L611.3 301.8 L611.6 301.6 L611.9 301.4 L612.2 301.2 L612.5 301 L612.8 300.8 L613.1 300.6 L613.5 300.4 L613.8 300.2 L614.1 299.9 L614.4 299.7 L614.7 299.4 L615 299.1 L615.3 298.8 L615.6 298.5 L615.9 298.2 L616.2 297.9 L616.6 297.6 L616.9 297.3 L617.2 296.9 L617.5 296.6 L617.8 296.3 L618.1 296 L618.4 295.7 L618.7 295.4 L619 295.1 L619.3 294.9 L619.7 294.6 L620 294.4 L620.3 294.2 L620.6 294 L620.9 293.8 L621.2 293.6 L621.5 293.5 L621.8 293.4 L622.1 293.3 L622.4 293.3 L622.8 293.3 L623.1 293.3 L623.4 293.3 L623.7 293.4 L624 293.5 L624.3 293.7 L624.6 293.8 L624.9 294 L625.2 294.2 L625.5 294.4 L625.8 294.6 L626.2 294.9 L626.5 295.1 L626.8 295.3 L627.1 295.5 L627.4 295.7 L627.7 295.9 L628 296.1 L628.3 296.3 L628.6 296.4 L628.9 296.5 L629.3 296.6 L629.6 296.7 L629.9 296.7 L630.2 296.7 L630.5 296.7 L630.8 296.7 L631.1 296.6 L631.4 296.5 L631.7 296.4 L632 296.3 L632.4 296.2 L632.7 296 L633 295.9 L633.3 295.7 L633.6 295.6 L633.9 295.4 L634.2 295.3 L634.5 295.2 L634.8 295 L635.1 294.9 L635.5 294.8 L635.8 294.7 L636.1 294.6 L636.4 294.5 L636.7 294.5 L637 294.4 L637.3 294.4 L637.6 294.4 L637.9 294.5 L638.2 294.5 L638.5 294.6 L638.9 294.7 L639.2 294.8 L639.5 294.9 L639.8 295.1 L640.1 295.2 L640.4 295.3 L640.7 295.5 L641 295.7 L641.3 295.8 L641.6 296 L642 296.2 L642.3 296.3 L642.6 296.5 L642.9 296.7 L643.2 296.8 L643.5 297 L643.8 297.2 L644.1 297.3 L644.4 297.4 L644.7 297.5 L645.1 297.6 L645.4 297.7 L645.7 297.8 L646 297.8 L646.3 297.9 L646.6 297.9 L646.9 297.9 L647.2 297.8 L647.5 297.7 L647.8 297.6 L648.2 297.5 L648.5 297.3 L648.8 297.1 L649.1 296.9 L649.4 296.6 L649.7 296.4 L650 296.1 L650.3 295.9 L650.6 295.6 L650.9 295.3 L651.2 295 L651.6 294.7 L651.9 294.4 L652.2 294.2 L652.5 293.9 L652.8 293.6 L653.1 293.4 L653.4 293.1 L653.7 292.9 L654 292.7 L654.3 292.5 L654.7 292.4 L655 292.3 L655.3 292.2 L655.6 292.1 L655.9 292.1 L656.2 292.1 L656.5 292.1 L656.8 292.2 L657.1 292.3 L657.4 292.3 L657.8 292.4 L658.1 292.5 L658.4 292.7 L658.7 292.8 L659 292.9 L659.3 293.1 L659.6 293.2 L659.9 293.4 L660.2 293.5 L660.5 293.7 L660.9 293.8 L661.2 294 L661.5 294.1 L661.8 294.2 L662.1 294.4 L662.4 294.5 L662.7 294.6 L663 294.7 L663.3 294.8 L663.6 294.9 L663.9 295 L664.3 295 L664.6 295 L664.9 295.1 L665.2 295.1 L665.5 295.1 L665.8 295.2 L666.1 295.2 L666.4 295.3 L666.7 295.3 L667 295.3 L667.4 295.3 L667.7 295.4 L668 295.4 L668.3 295.4 L668.6 295.4 L668.9 295.5 L669.2 295.5 L669.5 295.5 L669.8 295.5 L670.1 295.5 L670.5 295.5 L670.8 295.6 L671.1 295.6 L671.4 295.6 L671.7 295.6 L672 295.6" fill="none" stroke="#111" stroke-width="1.5" stroke-linejoin="round" stroke-dasharray="3 3"/>
<line x1="569.3" y1="259.5" x2="569.3" y2="381.1" stroke="#222" stroke-width="1.3" stroke-dasharray="8 6.8"/>
<path d="M517.3 252.2 V381.6 H673" fill="none" stroke="#2a2a2a" stroke-width="1.3"/>
<line x1="517.4" y1="381.6" x2="517.4" y2="378.6" stroke="#2a2a2a" stroke-width="1.3" />
<line x1="569.3" y1="381.6" x2="569.3" y2="378.6" stroke="#2a2a2a" stroke-width="1.3" />
<line x1="621.2" y1="381.6" x2="621.2" y2="378.6" stroke="#2a2a2a" stroke-width="1.3" />
<line x1="673" y1="381.6" x2="673" y2="378.6" stroke="#2a2a2a" stroke-width="1.3" />
<line x1="517.3" y1="266.1" x2="520.3" y2="266.1" stroke="#2a2a2a" stroke-width="1.3" />
<line x1="517.3" y1="295" x2="520.3" y2="295" stroke="#2a2a2a" stroke-width="1.3" />
<line x1="517.3" y1="323.9" x2="520.3" y2="323.9" stroke="#2a2a2a" stroke-width="1.3" />
<line x1="517.3" y1="352.8" x2="520.3" y2="352.8" stroke="#2a2a2a" stroke-width="1.3" />
<text x="511.9" y="300" font-size="15.4" text-anchor="end" fill="#000" textLength="7.9" lengthAdjust="spacingAndGlyphs">0</text>
<text x="511.9" y="357.8" font-size="15.4" text-anchor="end" fill="#000" textLength="24.6" lengthAdjust="spacingAndGlyphs">-0.2</text>
<text x="517.4" y="397.8" font-size="15.4" text-anchor="middle" fill="#000" textLength="28.5" lengthAdjust="spacingAndGlyphs">-100</text>
<text x="569.3" y="397.8" font-size="15.4" text-anchor="middle" fill="#000" textLength="7.9" lengthAdjust="spacingAndGlyphs">0</text>
<text x="621.2" y="397.8" font-size="15.4" text-anchor="middle" fill="#000" textLength="23.8" lengthAdjust="spacingAndGlyphs">100</text>
<text x="673" y="397.8" font-size="15.4" text-anchor="middle" fill="#000" textLength="23.8" lengthAdjust="spacingAndGlyphs">200</text>
<text x="576.1" y="348" font-size="14.7" fill="#111"><tspan dy="0" font-size="14.7">TI</tspan><tspan dy="3.4" font-size="7.3">combined</tspan><tspan dy="-3.4" font-size="14.7">–T</tspan><tspan dy="3.4" font-size="7.3">alone</tspan><tspan dy="-3.4" font-size="14.7">+I</tspan><tspan dy="3.4" font-size="7.3">alone</tspan></text>
<text x="2.9" y="466" font-size="24" text-anchor="start" font-weight="bold" fill="#000" >G</text>
<path d="M55 478.6 V608.2 H158.4" fill="none" stroke="#2a2a2a" stroke-width="1.3"/>
<line x1="80.5" y1="608.2" x2="80.5" y2="605.2" stroke="#2a2a2a" stroke-width="1.3" />
<line x1="132.9" y1="608.2" x2="132.9" y2="605.2" stroke="#2a2a2a" stroke-width="1.3" />
<line x1="55" y1="478.6" x2="58" y2="478.6" stroke="#2a2a2a" stroke-width="1.3" />
<line x1="55" y1="497.1" x2="58" y2="497.1" stroke="#2a2a2a" stroke-width="1.3" />
<line x1="55" y1="515.6" x2="58" y2="515.6" stroke="#2a2a2a" stroke-width="1.3" />
<line x1="55" y1="534.1" x2="58" y2="534.1" stroke="#2a2a2a" stroke-width="1.3" />
<line x1="55" y1="552.6" x2="58" y2="552.6" stroke="#2a2a2a" stroke-width="1.3" />
<line x1="55" y1="571.1" x2="58" y2="571.1" stroke="#2a2a2a" stroke-width="1.3" />
<line x1="55" y1="589.7" x2="58" y2="589.7" stroke="#2a2a2a" stroke-width="1.3" />
<text x="49.5" y="483.6" font-size="15.4" text-anchor="end" fill="#000" textLength="7.9" lengthAdjust="spacingAndGlyphs">0</text>
<text x="49.5" y="520.6" font-size="15.4" text-anchor="end" fill="#000" textLength="24.6" lengthAdjust="spacingAndGlyphs">-0.2</text>
<text x="49.5" y="557.6" font-size="15.4" text-anchor="end" fill="#000" textLength="24.6" lengthAdjust="spacingAndGlyphs">-0.4</text>
<text x="49.5" y="594.7" font-size="15.4" text-anchor="end" fill="#000" textLength="24.6" lengthAdjust="spacingAndGlyphs">-0.6</text>
<text x="80.5" y="624" font-size="14.7" text-anchor="middle" font-weight="normal" fill="#000" >No light</text>
<text x="132.5" y="624" font-size="14.7" text-anchor="middle" font-weight="normal" fill="#000" >Light</text>
<text transform="translate(14.9 543.6) rotate(-90)" font-size="14.7" text-anchor="middle" fill="#000">Peak voltage (mV)</text>
<line x1="80.5" y1="478.6" x2="132.9" y2="478.6" stroke="#222" stroke-width="1.3" />
<text x="106.7" y="481.9" font-size="27" text-anchor="middle" font-weight="bold" fill="#111" >*</text>
<line x1="80.5" y1="491.6" x2="132.9" y2="499" stroke="#b5b5b5" stroke-width="1.0" />
<line x1="80.5" y1="491.9" x2="132.9" y2="501.7" stroke="#b5b5b5" stroke-width="1.0" />
<line x1="80.5" y1="497.1" x2="132.9" y2="530.4" stroke="#b5b5b5" stroke-width="1.0" />
<line x1="80.5" y1="510.1" x2="132.9" y2="516.5" stroke="#b5b5b5" stroke-width="1.0" />
<line x1="80.5" y1="511.2" x2="132.9" y2="521.5" stroke="#b5b5b5" stroke-width="1.0" />
<line x1="80.5" y1="511.9" x2="132.9" y2="519.3" stroke="#b5b5b5" stroke-width="1.0" />
<line x1="80.5" y1="520.2" x2="132.9" y2="560" stroke="#b5b5b5" stroke-width="1.0" />
<line x1="80.5" y1="523" x2="132.9" y2="582.3" stroke="#b5b5b5" stroke-width="1.0" />
<rect x="73.2" y="494.4" width="15.6" height="23" fill="none" stroke="#222" stroke-width="1.3"/>
<line x1="73.2" y1="511.1" x2="88.8" y2="511.1" stroke="#222" stroke-width="1.5" />
<line x1="81" y1="491.5" x2="81" y2="494.4" stroke="#222" stroke-width="1.2" />
<line x1="81" y1="517.4" x2="81" y2="528.3" stroke="#222" stroke-width="1.2" />
<line x1="77" y1="491.5" x2="85" y2="491.5" stroke="#222" stroke-width="1.2" />
<line x1="77" y1="528.3" x2="85" y2="528.3" stroke="#222" stroke-width="1.2" />
<rect x="125.2" y="509.5" width="15.6" height="35.5" fill="none" stroke="#222" stroke-width="1.3"/>
<line x1="125.2" y1="521.5" x2="140.8" y2="521.5" stroke="#222" stroke-width="1.5" />
<line x1="133" y1="498.9" x2="133" y2="509.5" stroke="#222" stroke-width="1.2" />
<line x1="133" y1="545" x2="133" y2="582.2" stroke="#222" stroke-width="1.2" />
<line x1="129" y1="498.9" x2="137" y2="498.9" stroke="#222" stroke-width="1.2" />
<line x1="129" y1="582.2" x2="137" y2="582.2" stroke="#222" stroke-width="1.2" />
<text x="181.4" y="466" font-size="24" text-anchor="start" font-weight="bold" fill="#000" >H</text>
<path d="M226.5 478.6 V608.2 H330.4" fill="none" stroke="#2a2a2a" stroke-width="1.3"/>
<line x1="252.5" y1="608.2" x2="252.5" y2="605.2" stroke="#2a2a2a" stroke-width="1.3" />
<line x1="304.4" y1="608.2" x2="304.4" y2="605.2" stroke="#2a2a2a" stroke-width="1.3" />
<line x1="226.5" y1="478.6" x2="229.5" y2="478.6" stroke="#2a2a2a" stroke-width="1.3" />
<line x1="226.5" y1="511" x2="229.5" y2="511" stroke="#2a2a2a" stroke-width="1.3" />
<line x1="226.5" y1="543.4" x2="229.5" y2="543.4" stroke="#2a2a2a" stroke-width="1.3" />
<line x1="226.5" y1="575.8" x2="229.5" y2="575.8" stroke="#2a2a2a" stroke-width="1.3" />
<text x="221.1" y="483.6" font-size="15.4" text-anchor="end" fill="#000" textLength="15.9" lengthAdjust="spacingAndGlyphs">60</text>
<text x="221.1" y="548.4" font-size="15.4" text-anchor="end" fill="#000" textLength="15.9" lengthAdjust="spacingAndGlyphs">40</text>
<text x="221.1" y="613.2" font-size="15.4" text-anchor="end" fill="#000" textLength="15.9" lengthAdjust="spacingAndGlyphs">20</text>
<text x="252" y="624" font-size="14.7" text-anchor="middle" font-weight="normal" fill="#000" >No light</text>
<text x="303.5" y="624" font-size="14.7" text-anchor="middle" font-weight="normal" fill="#000" >Light</text>
<text transform="translate(191.8 543.7) rotate(-90)" font-size="14.7" text-anchor="middle" fill="#000">Peak latency (ms)</text>
<line x1="252.5" y1="478.6" x2="304.4" y2="478.6" stroke="#222" stroke-width="1.3" />
<text x="277.5" y="481.6" font-size="27" text-anchor="middle" font-weight="bold" fill="#111" >*</text>
<line x1="252.5" y1="501.3" x2="304.4" y2="530.4" stroke="#b5b5b5" stroke-width="1.0" />
<line x1="252.5" y1="504.5" x2="304.4" y2="543.4" stroke="#b5b5b5" stroke-width="1.0" />
<line x1="252.5" y1="507.8" x2="304.4" y2="582.3" stroke="#b5b5b5" stroke-width="1.0" />
<line x1="252.5" y1="520.7" x2="304.4" y2="543.4" stroke="#b5b5b5" stroke-width="1.0" />
<line x1="252.5" y1="543.4" x2="304.4" y2="524" stroke="#b5b5b5" stroke-width="1.0" />
<line x1="252.5" y1="546.6" x2="304.4" y2="556.4" stroke="#b5b5b5" stroke-width="1.0" />
<line x1="252.5" y1="559.6" x2="304.4" y2="572.6" stroke="#b5b5b5" stroke-width="1.0" />
<line x1="252.5" y1="579" x2="304.4" y2="582.3" stroke="#b5b5b5" stroke-width="1.0" />
<rect x="244.7" y="506.1" width="15.6" height="47" fill="none" stroke="#222" stroke-width="1.3"/>
<line x1="244.7" y1="531.4" x2="260.3" y2="531.4" stroke="#222" stroke-width="1.5" />
<line x1="252.5" y1="501.2" x2="252.5" y2="506.1" stroke="#222" stroke-width="1.2" />
<line x1="252.5" y1="553.1" x2="252.5" y2="578.9" stroke="#222" stroke-width="1.2" />
<line x1="248.5" y1="501.2" x2="256.5" y2="501.2" stroke="#222" stroke-width="1.2" />
<line x1="248.5" y1="578.9" x2="256.5" y2="578.9" stroke="#222" stroke-width="1.2" />
<rect x="296.6" y="538.2" width="15.6" height="39.1" fill="none" stroke="#222" stroke-width="1.3"/>
<line x1="296.6" y1="549.7" x2="312.2" y2="549.7" stroke="#222" stroke-width="1.5" />
<line x1="304.4" y1="524.2" x2="304.4" y2="538.2" stroke="#222" stroke-width="1.2" />
<line x1="304.4" y1="577.3" x2="304.4" y2="585.2" stroke="#222" stroke-width="1.2" />
<line x1="300.4" y1="524.2" x2="308.4" y2="524.2" stroke="#222" stroke-width="1.2" />
<line x1="300.4" y1="585.2" x2="308.4" y2="585.2" stroke="#222" stroke-width="1.2" />
<text x="344.6" y="466" font-size="24" text-anchor="start" font-weight="bold" fill="#000" >I</text>
<path d="M398 478.6 V608.2 H501.4" fill="none" stroke="#2a2a2a" stroke-width="1.3"/>
<line x1="423.5" y1="608.2" x2="423.5" y2="605.2" stroke="#2a2a2a" stroke-width="1.3" />
<line x1="475.9" y1="608.2" x2="475.9" y2="605.2" stroke="#2a2a2a" stroke-width="1.3" />
<line x1="398" y1="478.6" x2="401" y2="478.6" stroke="#2a2a2a" stroke-width="1.3" />
<line x1="398" y1="497.1" x2="401" y2="497.1" stroke="#2a2a2a" stroke-width="1.3" />
<line x1="398" y1="515.6" x2="401" y2="515.6" stroke="#2a2a2a" stroke-width="1.3" />
<line x1="398" y1="534.1" x2="401" y2="534.1" stroke="#2a2a2a" stroke-width="1.3" />
<line x1="398" y1="552.6" x2="401" y2="552.6" stroke="#2a2a2a" stroke-width="1.3" />
<line x1="398" y1="571.1" x2="401" y2="571.1" stroke="#2a2a2a" stroke-width="1.3" />
<line x1="398" y1="589.7" x2="401" y2="589.7" stroke="#2a2a2a" stroke-width="1.3" />
<text x="392.4" y="483.6" font-size="15.4" text-anchor="end" fill="#000" textLength="7.9" lengthAdjust="spacingAndGlyphs">0</text>
<text x="392.4" y="520.6" font-size="15.4" text-anchor="end" fill="#000" textLength="24.6" lengthAdjust="spacingAndGlyphs">-0.2</text>
<text x="392.4" y="557.6" font-size="15.4" text-anchor="end" fill="#000" textLength="24.6" lengthAdjust="spacingAndGlyphs">-0.4</text>
<text x="392.4" y="594.7" font-size="15.4" text-anchor="end" fill="#000" textLength="24.6" lengthAdjust="spacingAndGlyphs">-0.6</text>
<text transform="translate(357.9 543.9) rotate(-90)" font-size="14.7" text-anchor="middle" fill="#000">Peak voltage (mV)</text>
<line x1="423.5" y1="478.6" x2="475.9" y2="478.6" stroke="#222" stroke-width="1.3" />
<text x="449.7" y="476.2" font-size="14.7" text-anchor="middle" font-weight="normal" fill="#111" >n.s.</text>
<line x1="423.5" y1="499" x2="475.9" y2="503.4" stroke="#b5b5b5" stroke-width="1.0" />
<line x1="423.5" y1="500.3" x2="475.9" y2="504.5" stroke="#b5b5b5" stroke-width="1.0" />
<line x1="423.5" y1="516.5" x2="475.9" y2="510.1" stroke="#b5b5b5" stroke-width="1.0" />
<line x1="423.5" y1="517.5" x2="475.9" y2="513.8" stroke="#b5b5b5" stroke-width="1.0" />
<line x1="423.5" y1="520.2" x2="475.9" y2="515.6" stroke="#b5b5b5" stroke-width="1.0" />
<line x1="423.5" y1="530.4" x2="475.9" y2="491.6" stroke="#b5b5b5" stroke-width="1.0" />
<line x1="423.5" y1="560" x2="475.9" y2="532.3" stroke="#b5b5b5" stroke-width="1.0" />
<line x1="423.5" y1="582.3" x2="475.9" y2="602.6" stroke="#b5b5b5" stroke-width="1.0" />
<rect x="416.2" y="509.5" width="15.6" height="35.5" fill="none" stroke="#222" stroke-width="1.3"/>
<line x1="416.2" y1="521.5" x2="431.8" y2="521.5" stroke="#222" stroke-width="1.5" />
<line x1="424" y1="498.9" x2="424" y2="509.5" stroke="#222" stroke-width="1.2" />
<line x1="424" y1="545" x2="424" y2="582.2" stroke="#222" stroke-width="1.2" />
<line x1="420" y1="498.9" x2="428" y2="498.9" stroke="#222" stroke-width="1.2" />
<line x1="420" y1="582.2" x2="428" y2="582.2" stroke="#222" stroke-width="1.2" />
<rect x="468.2" y="503.4" width="15.6" height="20.8" fill="none" stroke="#222" stroke-width="1.3"/>
<line x1="468.2" y1="512.2" x2="483.8" y2="512.2" stroke="#222" stroke-width="1.5" />
<line x1="476" y1="491.9" x2="476" y2="503.4" stroke="#222" stroke-width="1.2" />
<line x1="476" y1="524.2" x2="476" y2="532.1" stroke="#222" stroke-width="1.2" />
<line x1="472" y1="491.9" x2="480" y2="491.9" stroke="#222" stroke-width="1.2" />
<line x1="472" y1="532.1" x2="480" y2="532.1" stroke="#222" stroke-width="1.2" />
<line x1="472" y1="602.8" x2="480" y2="602.8" stroke="#222" stroke-width="1.2" />
<text x="401.4" y="623.3" font-size="14.7" fill="#111"><tspan dy="0" font-size="14.7">TI</tspan><tspan dy="3.4" font-size="7.3">combined</tspan></text>
<text x="458.1" y="623.3" font-size="14.7" fill="#111"><tspan dy="0" font-size="14.7">T</tspan><tspan dy="3.4" font-size="7.3">alone</tspan><tspan dy="-3.4" font-size="14.7">+</tspan></text>
<text x="460.9" y="639.3" font-size="14.7" fill="#111"><tspan dy="0" font-size="14.7">I</tspan><tspan dy="3.4" font-size="7.3">alone</tspan></text>
<text x="522.5" y="466" font-size="24" text-anchor="start" font-weight="bold" fill="#000" >J</text>
<path d="M570 478.6 V608.2 H673.4" fill="none" stroke="#2a2a2a" stroke-width="1.3"/>
<line x1="595.5" y1="608.2" x2="595.5" y2="605.2" stroke="#2a2a2a" stroke-width="1.3" />
<line x1="647.4" y1="608.2" x2="647.4" y2="605.2" stroke="#2a2a2a" stroke-width="1.3" />
<line x1="570" y1="478.6" x2="573" y2="478.6" stroke="#2a2a2a" stroke-width="1.3" />
<line x1="570" y1="511" x2="573" y2="511" stroke="#2a2a2a" stroke-width="1.3" />
<line x1="570" y1="543.4" x2="573" y2="543.4" stroke="#2a2a2a" stroke-width="1.3" />
<line x1="570" y1="575.8" x2="573" y2="575.8" stroke="#2a2a2a" stroke-width="1.3" />
<text x="564.6" y="483.6" font-size="15.4" text-anchor="end" fill="#000" textLength="15.9" lengthAdjust="spacingAndGlyphs">60</text>
<text x="564.6" y="548.4" font-size="15.4" text-anchor="end" fill="#000" textLength="15.9" lengthAdjust="spacingAndGlyphs">40</text>
<text x="564.6" y="613.2" font-size="15.4" text-anchor="end" fill="#000" textLength="15.9" lengthAdjust="spacingAndGlyphs">20</text>
<text transform="translate(535 543.7) rotate(-90)" font-size="14.7" text-anchor="middle" fill="#000">Peak latency (ms)</text>
<line x1="595.5" y1="478.6" x2="647.4" y2="478.6" stroke="#222" stroke-width="1.3" />
<text x="621" y="476.2" font-size="14.7" text-anchor="middle" font-weight="normal" fill="#111" >n.s.</text>
<line x1="595.5" y1="524" x2="647.4" y2="546.6" stroke="#b5b5b5" stroke-width="1.0" />
<line x1="595.5" y1="533.7" x2="647.4" y2="520.7" stroke="#b5b5b5" stroke-width="1.0" />
<line x1="595.5" y1="543.4" x2="647.4" y2="501.3" stroke="#b5b5b5" stroke-width="1.0" />
<line x1="595.5" y1="543.4" x2="647.4" y2="540.2" stroke="#b5b5b5" stroke-width="1.0" />
<line x1="595.5" y1="556.4" x2="647.4" y2="559.6" stroke="#b5b5b5" stroke-width="1.0" />
<line x1="595.5" y1="572.6" x2="647.4" y2="559.6" stroke="#b5b5b5" stroke-width="1.0" />
<line x1="595.5" y1="582.3" x2="647.4" y2="549.9" stroke="#b5b5b5" stroke-width="1.0" />
<line x1="595.5" y1="582.3" x2="647.4" y2="579" stroke="#b5b5b5" stroke-width="1.0" />
<rect x="587.7" y="538.2" width="15.6" height="39.1" fill="none" stroke="#222" stroke-width="1.3"/>
<line x1="587.7" y1="549.7" x2="603.3" y2="549.7" stroke="#222" stroke-width="1.5" />
<line x1="595.5" y1="524.2" x2="595.5" y2="538.2" stroke="#222" stroke-width="1.2" />
<line x1="595.5" y1="577.3" x2="595.5" y2="585.2" stroke="#222" stroke-width="1.2" />
<line x1="591.5" y1="524.2" x2="599.5" y2="524.2" stroke="#222" stroke-width="1.2" />
<line x1="591.5" y1="585.2" x2="599.5" y2="585.2" stroke="#222" stroke-width="1.2" />
<rect x="639.6" y="530.5" width="15.6" height="29.1" fill="none" stroke="#222" stroke-width="1.3"/>
<line x1="639.6" y1="548.4" x2="655.2" y2="548.4" stroke="#222" stroke-width="1.5" />
<line x1="647.4" y1="501.2" x2="647.4" y2="530.5" stroke="#222" stroke-width="1.2" />
<line x1="647.4" y1="559.6" x2="647.4" y2="579.3" stroke="#222" stroke-width="1.2" />
<line x1="643.4" y1="501.2" x2="651.4" y2="501.2" stroke="#222" stroke-width="1.2" />
<line x1="643.4" y1="579.3" x2="651.4" y2="579.3" stroke="#222" stroke-width="1.2" />
<text x="573.2" y="623.3" font-size="14.7" fill="#111"><tspan dy="0" font-size="14.7">TI</tspan><tspan dy="3.4" font-size="7.3">combined</tspan></text>
<text x="629.9" y="623.3" font-size="14.7" fill="#111"><tspan dy="0" font-size="14.7">T</tspan><tspan dy="3.4" font-size="7.3">alone</tspan><tspan dy="-3.4" font-size="14.7">+</tspan></text>
<text x="632.7" y="639.3" font-size="14.7" fill="#111"><tspan dy="0" font-size="14.7">I</tspan><tspan dy="3.4" font-size="7.3">alone</tspan></text>
</svg></body></html>
